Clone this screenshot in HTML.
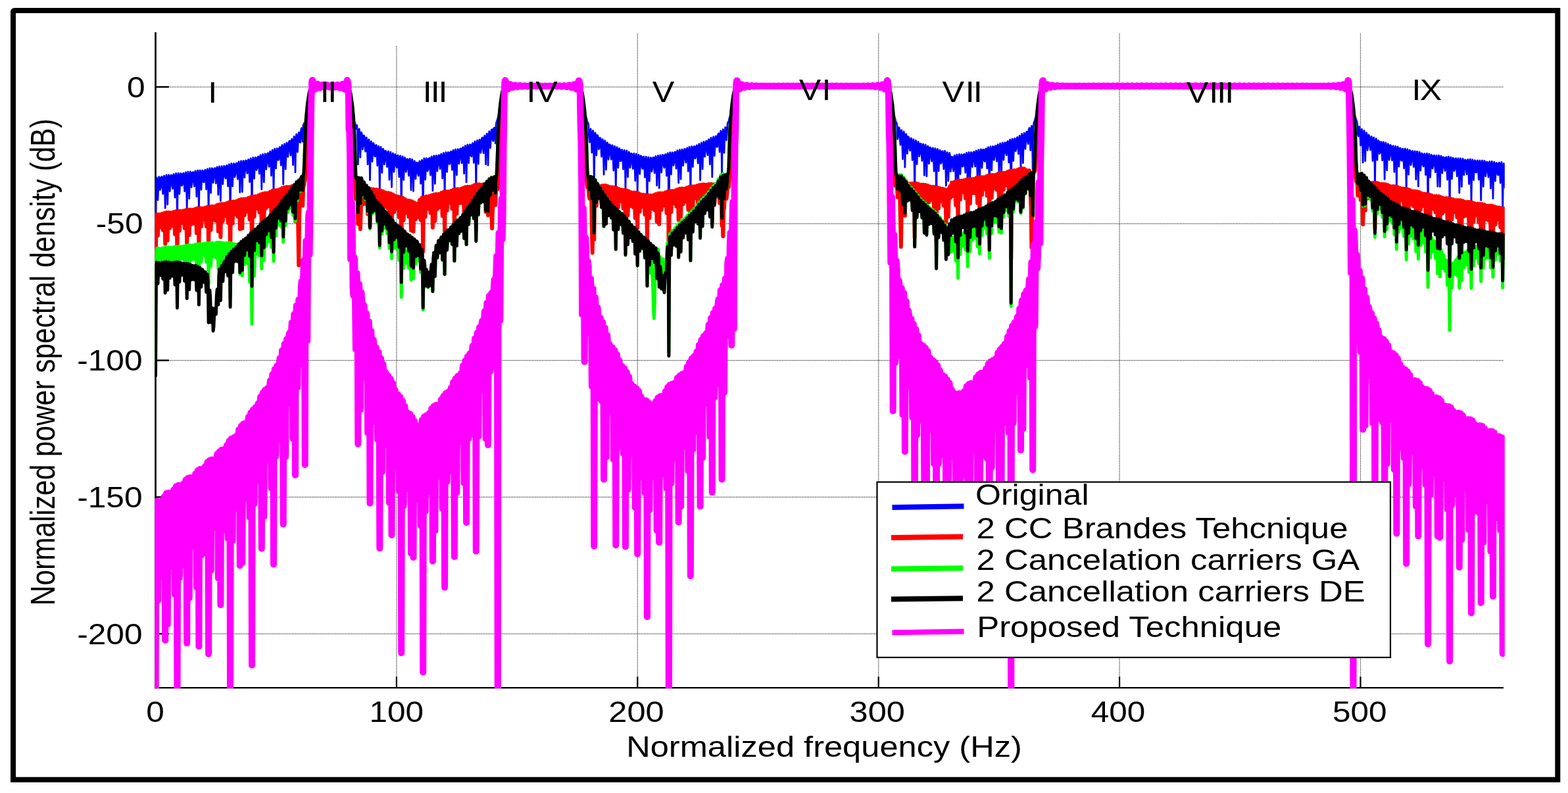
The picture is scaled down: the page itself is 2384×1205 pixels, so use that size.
<!DOCTYPE html>
<html><head><meta charset="utf-8"><title>Normalized power spectral density</title>
<style>
html,body{margin:0;padding:0;background:#fff;}
body{width:2384px;height:1205px;overflow:hidden;}
svg{display:block;}
text{font-family:"Liberation Sans",Arial,Helvetica,sans-serif;font-size:44px;fill:#000;}
.c path{fill:none;stroke-linejoin:round;stroke-linecap:round;}
</style></head><body>
<svg width="2384" height="1205" viewBox="0 0 2384 1205">
<rect x="0" y="0" width="2384" height="1205" fill="#fff"/>
<path d="M20 1184.8 L20 18.5 Q20 16 22.5 16 L2368.3 16 L2368.3 1184.8 Z" fill="none" stroke="#000" stroke-width="8" stroke-linejoin="miter"/>
<g stroke="#000" stroke-width="1.3" stroke-dasharray="1.3 1.2" opacity="0.82" fill="none">
<line x1="602.9" y1="70" x2="602.9" y2="1045.2"/>
<line x1="969.3" y1="51" x2="969.3" y2="1045.2"/>
<line x1="1335.7" y1="51" x2="1335.7" y2="1045.2"/>
<line x1="1702.1" y1="51" x2="1702.1" y2="1045.2"/>
<line x1="2068.5" y1="51" x2="2068.5" y2="1045.2"/>
<line x1="236.5" y1="132.1" x2="2286.0" y2="132.1"/>
<line x1="236.5" y1="339.9" x2="2286.0" y2="339.9"/>
<line x1="236.5" y1="547.6" x2="2286.0" y2="547.6"/>
<line x1="236.5" y1="755.4" x2="2286.0" y2="755.4"/>
<line x1="236.5" y1="963.1" x2="2286.0" y2="963.1"/>
</g>
<g stroke="#000" fill="none">
<line x1="236.5" y1="49.0" x2="236.5" y2="1046.2" stroke-width="2.7"/>
<line x1="236.5" y1="132.1" x2="256.8" y2="132.1" stroke-width="2.5"/>
<line x1="236.5" y1="339.9" x2="256.8" y2="339.9" stroke-width="2.5"/>
<line x1="236.5" y1="547.6" x2="256.8" y2="547.6" stroke-width="2.5"/>
<line x1="236.5" y1="755.4" x2="256.8" y2="755.4" stroke-width="2.5"/>
<line x1="236.5" y1="963.1" x2="256.8" y2="963.1" stroke-width="2.5"/>
<line x1="602.9" y1="1045.2" x2="602.9" y2="1028.2" stroke-width="2.2"/>
<line x1="969.3" y1="1045.2" x2="969.3" y2="1028.2" stroke-width="2.2"/>
<line x1="1335.7" y1="1045.2" x2="1335.7" y2="1028.2" stroke-width="2.2"/>
<line x1="1702.1" y1="1045.2" x2="1702.1" y2="1028.2" stroke-width="2.2"/>
<line x1="2068.5" y1="1045.2" x2="2068.5" y2="1028.2" stroke-width="2.2"/>
</g>
<line x1="235.2" y1="1045.2" x2="2286.0" y2="1045.2" stroke="#000" stroke-width="2.2"/>
<defs><clipPath id="ax"><rect x="235.3" y="49.0" width="2052.5" height="997.1"/></clipPath></defs>
<g clip-path="url(#ax)" class="c">
<path d="M236.5,412.2 L237.4,277.6 L238.2,270.0 L239.1,274.3 L240.0,303.9 L240.8,280.4 L241.7,268.7 L242.6,270.3 L243.4,288.5 L244.3,285.0 L245.2,269.2 L246.0,268.4 L246.9,281.2 L247.8,294.6 L248.6,270.7 L249.5,267.2 L250.4,275.5 L251.2,316.2 L252.1,272.2 L253.0,266.0 L253.8,271.4 L254.7,310.6 L255.6,275.0 L256.4,265.8 L257.3,268.5 L258.2,290.7 L259.0,279.5 L259.9,266.2 L260.8,266.4 L261.6,281.1 L262.5,286.6 L263.4,266.8 L264.2,264.5 L265.1,274.6 L266.0,300.2 L266.9,268.3 L267.7,263.5 L268.6,270.2 L269.5,336.9 L270.3,270.9 L271.2,263.2 L272.1,267.1 L272.9,294.7 L273.8,274.9 L274.7,263.4 L275.5,264.7 L276.4,282.0 L277.3,280.4 L278.1,264.1 L279.0,262.9 L279.9,275.1 L280.7,290.8 L281.6,265.4 L282.5,261.8 L283.3,269.7 L284.2,317.3 L285.1,267.4 L285.9,260.9 L286.8,266.0 L287.7,301.8 L288.5,270.6 L289.4,260.9 L290.3,263.3 L291.1,284.5 L292.0,275.6 L292.9,261.7 L293.7,261.6 L294.6,275.5 L295.5,283.2 L296.3,262.4 L297.2,259.8 L298.1,269.5 L298.9,298.7 L299.8,264.2 L300.7,259.0 L301.5,265.4 L302.4,319.3 L303.3,267.0 L304.1,258.9 L305.0,262.4 L305.9,288.3 L306.7,271.1 L307.6,258.9 L308.5,259.9 L309.3,276.4 L310.2,276.8 L311.1,259.7 L311.9,258.1 L312.8,269.6 L313.7,287.8 L314.5,260.8 L315.4,256.7 L316.3,264.1 L317.1,322.0 L318.0,262.6 L318.9,255.7 L319.7,260.4 L320.6,293.2 L321.5,265.7 L322.3,255.6 L323.2,257.6 L324.1,277.7 L324.9,270.8 L325.8,256.0 L326.7,255.5 L327.6,268.8 L328.4,278.6 L329.3,256.7 L330.2,253.7 L331.0,262.9 L331.9,296.0 L332.8,258.4 L333.6,252.9 L334.5,258.8 L335.4,305.3 L336.2,261.2 L337.1,252.6 L338.0,255.5 L338.8,279.7 L339.7,264.9 L340.6,252.2 L341.4,252.9 L342.3,268.6 L343.2,271.1 L344.0,253.1 L344.9,251.2 L345.8,262.1 L346.6,283.0 L347.5,254.1 L348.4,249.6 L349.2,256.5 L350.1,335.7 L351.0,255.7 L351.8,248.3 L352.7,252.6 L353.6,283.0 L354.4,258.8 L355.3,248.5 L356.2,250.1 L357.0,269.1 L357.9,264.2 L358.8,248.7 L359.6,247.8 L360.5,260.3 L361.4,272.3 L362.2,249.1 L363.1,245.7 L364.0,254.4 L364.8,292.3 L365.7,250.6 L366.6,244.7 L367.4,250.2 L368.3,291.5 L369.2,253.4 L370.0,244.3 L370.9,246.8 L371.8,269.6 L372.6,257.1 L373.5,243.8 L374.4,244.0 L375.2,259.0 L376.1,263.5 L377.0,244.4 L377.8,242.3 L378.7,252.6 L379.6,276.5 L380.4,245.6 L381.3,240.7 L382.2,247.2 L383.0,326.8 L383.9,247.1 L384.8,239.3 L385.6,243.2 L386.5,271.4 L387.4,250.1 L388.3,239.2 L389.1,240.4 L390.0,258.4 L390.9,255.6 L391.7,239.1 L392.6,237.9 L393.5,249.7 L394.3,264.0 L395.2,239.4 L396.1,235.6 L396.9,243.8 L397.8,287.6 L398.7,240.7 L399.5,234.4 L400.4,239.4 L401.3,276.8 L402.1,243.4 L403.0,233.7 L403.9,235.9 L404.7,257.3 L405.6,247.1 L406.5,233.1 L407.3,232.8 L408.2,246.9 L409.1,253.2 L409.9,232.9 L410.8,230.2 L411.7,239.8 L412.5,266.9 L413.4,233.3 L414.3,227.8 L415.1,234.0 L416.0,292.9 L416.9,234.6 L417.7,226.2 L418.6,229.6 L419.5,255.9 L420.3,237.2 L421.2,225.6 L422.1,226.3 L422.9,243.3 L423.8,242.4 L424.7,225.1 L425.5,223.4 L426.4,234.3 L427.3,251.1 L428.1,224.8 L429.0,220.4 L429.9,228.1 L430.7,280.0 L431.6,225.7 L432.5,218.7 L433.3,223.1 L434.2,257.0 L435.1,227.3 L435.9,216.9 L436.8,218.4 L437.7,238.4 L438.5,230.1 L439.4,215.1 L440.3,214.1 L441.1,227.7 L442.0,236.1 L442.9,214.5 L443.7,211.3 L444.6,220.1 L445.5,250.6 L446.3,213.8 L447.2,207.3 L448.1,212.7 L449.0,261.8 L449.8,213.2 L450.7,204.0 L451.6,206.6 L452.4,230.9 L453.3,214.1 L454.2,201.4 L455.0,201.3 L455.9,215.8 L456.8,216.5 L457.6,198.0 L458.5,194.6 L459.4,204.3 L460.2,215.1 L461.1,191.0 L462.0,187.8 L462.8,187.3 L463.7,185.8 L464.6,184.8 L465.4,183.8 L466.3,182.9 L467.2,181.9 L468.0,180.9 L468.9,178.4 L469.8,169.5 L470.6,160.5 L471.5,153.8 L472.4,147.7 L473.2,141.5 L474.1,130.8 L475.0,130.8 L475.8,130.8 L476.7,130.8 L477.6,130.8 L478.4,130.8 L479.3,130.8 L480.2,130.8 L481.0,130.8 L481.9,130.8 L482.8,130.8 L483.6,130.8 L484.5,130.8 L485.4,130.8 L486.2,130.8 L487.1,130.8 L488.0,130.8 L488.8,130.8 L489.7,130.8 L490.6,130.8 L491.4,130.8 L492.3,130.8 L493.2,130.8 L494.0,130.8 L494.9,130.8 L495.8,130.8 L496.6,130.8 L497.5,130.8 L498.4,130.8 L499.2,130.8 L500.1,130.8 L501.0,130.8 L501.8,130.8 L502.7,130.8 L503.6,130.8 L504.4,130.8 L505.3,130.8 L506.2,130.8 L507.0,130.8 L507.9,130.8 L508.8,130.8 L509.7,130.8 L510.5,130.8 L511.4,130.8 L512.3,130.8 L513.1,130.8 L514.0,130.8 L514.9,130.8 L515.7,130.8 L516.6,130.8 L517.5,130.8 L518.3,130.8 L519.2,130.8 L520.1,130.8 L520.9,130.8 L521.8,130.8 L522.7,130.8 L523.5,130.8 L524.4,130.8 L525.3,130.8 L526.1,130.8 L527.0,130.8 L527.9,130.8 L528.7,130.8 L529.6,131.4 L530.5,146.4 L531.3,152.6 L532.2,158.8 L533.1,167.7 L533.9,176.6 L534.8,180.8 L535.7,181.8 L536.5,182.8 L537.4,183.8 L538.3,184.9 L539.1,185.9 L540.0,187.2 L540.9,195.4 L541.7,190.8 L542.6,190.3 L543.5,200.1 L544.3,249.8 L545.2,201.4 L546.1,196.0 L546.9,202.0 L547.8,239.1 L548.7,209.5 L549.5,201.2 L550.4,204.9 L551.3,227.0 L552.1,218.9 L553.0,205.8 L553.9,206.7 L554.7,221.7 L555.6,230.2 L556.5,210.1 L557.3,208.9 L558.2,219.7 L559.1,249.6 L559.9,215.9 L560.8,211.8 L561.7,219.2 L562.5,273.7 L563.4,221.9 L564.3,214.8 L565.1,219.0 L566.0,245.5 L566.9,228.8 L567.8,217.4 L568.6,219.4 L569.5,236.7 L570.4,237.7 L571.2,221.1 L572.1,220.5 L573.0,232.7 L573.8,251.6 L574.7,225.2 L575.6,222.0 L576.4,230.3 L577.3,288.6 L578.2,229.6 L579.0,223.5 L579.9,228.9 L580.8,262.4 L581.6,235.4 L582.5,226.2 L583.4,229.1 L584.2,249.7 L585.1,243.4 L586.0,229.3 L586.8,229.6 L587.7,243.5 L588.6,253.7 L589.4,232.2 L590.3,230.0 L591.2,239.7 L592.0,273.2 L592.9,235.9 L593.8,231.0 L594.6,237.5 L595.5,284.4 L596.4,240.7 L597.2,232.8 L598.1,236.4 L599.0,261.1 L599.8,246.8 L600.7,234.5 L601.6,235.9 L602.4,252.0 L603.3,254.8 L604.2,237.2 L605.0,236.0 L605.9,247.4 L606.8,268.8 L607.6,240.4 L608.5,236.7 L609.4,244.3 L610.2,323.9 L611.1,244.3 L612.0,237.6 L612.8,242.5 L613.7,273.3 L614.6,249.4 L615.4,239.5 L616.3,241.8 L617.2,261.3 L618.0,256.8 L618.9,241.8 L619.8,241.6 L620.6,254.7 L621.5,267.0 L622.4,244.0 L623.2,241.2 L624.1,250.4 L625.0,288.6 L625.8,247.4 L626.7,242.1 L627.6,248.4 L628.5,290.4 L629.3,252.6 L630.2,244.6 L631.1,248.3 L631.9,271.9 L632.8,259.9 L633.7,246.9 L634.5,247.8 L635.4,263.1 L636.3,267.2 L637.1,247.3 L638.0,244.8 L638.9,255.0 L639.7,279.0 L640.6,247.9 L641.5,243.1 L642.3,250.0 L643.2,328.5 L644.1,248.5 L644.9,240.6 L645.8,244.5 L646.7,272.9 L647.5,251.7 L648.4,240.4 L649.3,241.8 L650.1,260.1 L651.0,257.5 L651.9,241.2 L652.7,240.0 L653.6,251.9 L654.5,266.2 L655.3,241.6 L656.2,237.8 L657.1,246.1 L657.9,289.9 L658.8,243.0 L659.7,236.7 L660.5,241.9 L661.4,279.2 L662.3,245.8 L663.1,236.3 L664.0,238.5 L664.9,260.0 L665.7,249.8 L666.6,235.9 L667.5,235.8 L668.3,250.0 L669.2,256.5 L670.1,236.4 L670.9,233.9 L671.8,243.7 L672.7,271.0 L673.5,237.6 L674.4,232.4 L675.3,238.6 L676.1,297.7 L677.0,239.5 L677.9,231.3 L678.7,234.9 L679.6,261.3 L680.5,242.8 L681.3,231.3 L682.2,232.3 L683.1,249.4 L683.9,248.7 L684.8,231.5 L685.7,230.1 L686.5,241.4 L687.4,258.2 L688.3,232.1 L689.2,228.0 L690.0,235.8 L690.9,287.8 L691.8,233.7 L692.6,227.0 L693.5,231.8 L694.4,266.0 L695.2,236.6 L696.1,226.6 L697.0,228.5 L697.8,248.8 L698.7,240.8 L699.6,226.2 L700.4,225.7 L701.3,239.3 L702.2,247.9 L703.0,226.5 L703.9,223.6 L704.8,232.7 L705.6,263.6 L706.5,227.2 L707.4,221.5 L708.2,227.2 L709.1,276.8 L710.0,228.8 L710.8,220.0 L711.7,223.1 L712.6,247.8 L713.4,231.7 L714.3,219.6 L715.2,220.1 L716.0,236.3 L716.9,237.6 L717.8,219.4 L718.6,217.5 L719.5,228.0 L720.4,247.4 L721.2,219.5 L722.1,214.8 L723.0,222.1 L723.8,287.8 L724.7,220.7 L725.6,213.5 L726.4,217.7 L727.3,249.2 L728.2,223.0 L729.0,212.1 L729.9,213.3 L730.8,232.2 L731.6,226.0 L732.5,210.3 L733.4,209.1 L734.2,222.0 L735.1,232.6 L736.0,209.7 L736.8,206.2 L737.7,214.6 L738.6,249.6 L739.4,209.7 L740.3,203.2 L741.2,208.1 L742.0,251.1 L742.9,209.4 L743.8,199.7 L744.6,202.0 L745.5,224.8 L746.4,210.4 L747.2,197.2 L748.1,196.8 L749.0,211.5 L749.9,214.2 L750.7,195.2 L751.6,194.1 L752.5,204.2 L753.3,217.8 L754.2,189.6 L755.1,184.5 L755.9,182.8 L756.8,179.6 L757.7,177.1 L758.5,174.6 L759.4,172.1 L760.3,169.6 L761.1,167.2 L762.0,164.7 L762.9,162.2 L763.7,159.7 L764.6,154.5 L765.5,148.4 L766.3,142.2 L767.2,130.8 L768.1,130.8 L768.9,130.8 L769.8,130.8 L770.7,130.8 L771.5,130.8 L772.4,130.8 L773.3,130.8 L774.1,130.8 L775.0,130.8 L775.9,130.8 L776.7,130.8 L777.6,130.8 L778.5,130.8 L779.3,130.8 L780.2,130.8 L781.1,130.8 L781.9,130.8 L782.8,130.8 L783.7,130.8 L784.5,130.8 L785.4,130.8 L786.3,130.8 L787.1,130.8 L788.0,130.8 L788.9,130.8 L789.7,130.8 L790.6,130.8 L791.5,130.8 L792.3,130.8 L793.2,130.8 L794.1,130.8 L794.9,130.8 L795.8,130.8 L796.7,130.8 L797.5,130.8 L798.4,130.8 L799.3,130.8 L800.1,130.8 L801.0,130.8 L801.9,130.8 L802.7,130.8 L803.6,130.8 L804.5,130.8 L805.3,130.8 L806.2,130.8 L807.1,130.8 L807.9,130.8 L808.8,130.8 L809.7,130.8 L810.6,130.8 L811.4,130.8 L812.3,130.8 L813.2,130.8 L814.0,130.8 L814.9,130.8 L815.8,130.8 L816.6,130.8 L817.5,130.8 L818.4,130.8 L819.2,130.8 L820.1,130.8 L821.0,130.8 L821.8,130.8 L822.7,130.8 L823.6,130.8 L824.4,130.8 L825.3,130.8 L826.2,130.8 L827.0,130.8 L827.9,130.8 L828.8,130.8 L829.6,130.8 L830.5,130.8 L831.4,130.8 L832.2,130.8 L833.1,130.8 L834.0,130.8 L834.8,130.8 L835.7,130.8 L836.6,130.8 L837.4,130.8 L838.3,130.8 L839.2,130.8 L840.0,130.8 L840.9,130.8 L841.8,130.8 L842.6,130.8 L843.5,130.8 L844.4,130.8 L845.2,130.8 L846.1,130.8 L847.0,130.8 L847.8,130.8 L848.7,130.8 L849.6,130.8 L850.4,130.8 L851.3,130.8 L852.2,130.8 L853.0,130.8 L853.9,130.8 L854.8,130.8 L855.6,130.8 L856.5,130.8 L857.4,130.8 L858.2,130.8 L859.1,130.8 L860.0,130.8 L860.8,130.8 L861.7,130.8 L862.6,130.8 L863.4,130.8 L864.3,130.8 L865.2,130.8 L866.0,130.8 L866.9,130.8 L867.8,130.8 L868.6,130.8 L869.5,130.8 L870.4,130.8 L871.3,130.8 L872.1,130.8 L873.0,130.8 L873.9,130.8 L874.7,130.8 L875.6,130.8 L876.5,130.8 L877.3,130.8 L878.2,130.8 L879.1,130.8 L879.9,130.8 L880.8,130.8 L881.7,130.9 L882.5,144.7 L883.4,150.8 L884.3,157.0 L885.1,160.7 L886.0,163.2 L886.9,165.7 L887.7,168.2 L888.6,170.6 L889.5,173.1 L890.3,175.6 L891.2,178.1 L892.1,180.6 L892.9,185.8 L893.8,186.0 L894.7,189.2 L895.5,206.6 L896.4,216.0 L897.3,198.0 L898.1,195.9 L899.0,207.0 L899.9,231.9 L900.7,202.1 L901.6,198.5 L902.5,206.5 L903.3,287.1 L904.2,208.4 L905.1,201.8 L905.9,206.6 L906.8,236.0 L907.7,215.6 L908.5,205.4 L909.4,208.2 L910.3,226.8 L911.1,224.8 L912.0,209.6 L912.9,209.7 L913.7,222.9 L914.6,238.0 L915.5,214.1 L916.3,211.7 L917.2,220.7 L918.1,265.2 L918.9,219.1 L919.8,213.6 L920.7,219.7 L921.5,257.8 L922.4,225.1 L923.3,216.6 L924.1,220.0 L925.0,242.3 L925.9,232.6 L926.7,219.4 L927.6,220.3 L928.5,235.1 L929.4,242.2 L930.2,222.4 L931.1,220.7 L932.0,231.3 L932.8,259.0 L933.7,226.4 L934.6,222.1 L935.4,229.2 L936.3,288.7 L937.2,231.0 L938.0,223.7 L938.9,227.8 L939.8,254.8 L940.6,236.7 L941.5,225.4 L942.4,227.2 L943.2,244.7 L944.1,244.5 L945.0,228.2 L945.8,227.6 L946.7,239.8 L947.6,257.2 L948.4,231.4 L949.3,228.2 L950.2,236.3 L951.0,288.7 L951.9,235.0 L952.8,228.8 L953.6,234.2 L954.5,268.9 L955.4,240.0 L956.2,230.9 L957.1,233.7 L958.0,254.7 L958.8,247.2 L959.7,233.2 L960.6,233.5 L961.4,247.4 L962.3,256.4 L963.2,235.5 L964.0,233.2 L964.9,243.1 L965.8,274.5 L966.6,238.8 L967.5,234.0 L968.4,240.6 L969.2,290.7 L970.1,243.2 L971.0,235.4 L971.8,239.0 L972.7,264.3 L973.6,248.7 L974.4,236.7 L975.3,238.1 L976.2,254.7 L977.0,256.4 L977.9,239.1 L978.8,238.0 L979.6,249.6 L980.5,269.5 L981.4,242.0 L982.2,238.2 L983.1,246.0 L984.0,312.2 L984.8,245.6 L985.7,238.9 L986.6,243.5 L987.4,275.2 L988.3,249.3 L989.2,239.3 L990.1,241.2 L990.9,260.8 L991.8,255.0 L992.7,239.8 L993.5,239.3 L994.4,252.0 L995.3,262.9 L996.1,240.5 L997.0,237.3 L997.9,246.4 L998.7,281.8 L999.6,242.1 L1000.5,236.3 L1001.3,242.0 L1002.2,285.7 L1003.1,244.7 L1003.9,235.8 L1004.8,238.6 L1005.7,262.0 L1006.5,248.4 L1007.4,235.5 L1008.3,235.8 L1009.1,251.4 L1010.0,254.8 L1010.9,236.3 L1011.7,234.4 L1012.6,244.8 L1013.5,267.2 L1014.3,237.3 L1015.2,232.6 L1016.1,239.5 L1016.9,373.7 L1017.8,239.1 L1018.7,231.6 L1019.5,235.7 L1020.4,265.0 L1021.3,242.3 L1022.1,231.6 L1023.0,233.0 L1023.9,251.5 L1024.7,247.7 L1025.6,231.7 L1026.5,230.7 L1027.3,242.8 L1028.2,256.1 L1029.1,232.3 L1029.9,228.7 L1030.8,237.2 L1031.7,277.9 L1032.5,233.8 L1033.4,227.6 L1034.3,232.9 L1035.1,272.1 L1036.0,236.5 L1036.9,227.1 L1037.7,229.6 L1038.6,251.6 L1039.5,240.3 L1040.3,226.7 L1041.2,226.7 L1042.1,241.6 L1042.9,247.0 L1043.8,227.3 L1044.7,224.9 L1045.5,234.8 L1046.4,260.3 L1047.3,228.3 L1048.1,223.1 L1049.0,229.7 L1049.9,296.3 L1050.8,230.2 L1051.6,222.3 L1052.5,226.1 L1053.4,253.5 L1054.2,233.6 L1055.1,222.3 L1056.0,223.3 L1056.8,240.7 L1057.7,239.0 L1058.6,222.1 L1059.4,220.7 L1060.3,232.4 L1061.2,248.0 L1062.0,222.7 L1062.9,218.6 L1063.8,226.5 L1064.6,273.9 L1065.5,223.5 L1066.4,216.8 L1067.2,221.4 L1068.1,257.0 L1069.0,225.5 L1069.8,215.4 L1070.7,217.4 L1071.6,238.1 L1072.4,228.9 L1073.3,214.8 L1074.2,214.3 L1075.0,228.3 L1075.9,235.7 L1076.8,214.7 L1077.6,211.8 L1078.5,221.0 L1079.4,249.8 L1080.2,215.0 L1081.1,209.3 L1082.0,215.3 L1082.8,269.0 L1083.7,216.4 L1084.6,207.9 L1085.4,211.1 L1086.3,236.7 L1087.2,219.4 L1088.0,207.0 L1088.9,207.1 L1089.8,223.2 L1090.6,223.2 L1091.5,205.0 L1092.4,202.7 L1093.2,213.3 L1094.1,230.9 L1095.0,203.6 L1095.8,199.0 L1096.7,206.3 L1097.6,263.7 L1098.4,204.0 L1099.3,196.6 L1100.2,200.7 L1101.0,232.2 L1101.9,204.4 L1102.8,193.3 L1103.6,194.2 L1104.5,213.0 L1105.4,202.7 L1106.2,187.9 L1107.1,185.1 L1108.0,184.6 L1108.8,179.8 L1109.7,177.4 L1110.6,174.9 L1111.5,172.5 L1112.3,170.1 L1113.2,167.6 L1114.1,165.2 L1114.9,162.8 L1115.8,160.4 L1116.7,156.2 L1117.5,150.1 L1118.4,143.9 L1119.3,130.8 L1120.1,130.8 L1121.0,130.8 L1121.9,130.8 L1122.7,130.8 L1123.6,130.8 L1124.5,130.8 L1125.3,130.8 L1126.2,130.8 L1127.1,130.8 L1127.9,130.8 L1128.8,130.8 L1129.7,130.8 L1130.5,130.8 L1131.4,130.8 L1132.3,130.8 L1133.1,130.8 L1134.0,130.8 L1134.9,130.8 L1135.7,130.8 L1136.6,130.8 L1137.5,130.8 L1138.3,130.8 L1139.2,130.8 L1140.1,130.8 L1140.9,130.8 L1141.8,130.8 L1142.7,130.8 L1143.5,130.8 L1144.4,130.8 L1145.3,130.8 L1146.1,130.8 L1147.0,130.8 L1147.9,130.8 L1148.7,130.8 L1149.6,130.8 L1150.5,130.8 L1151.3,130.8 L1152.2,130.8 L1153.1,130.8 L1153.9,130.8 L1154.8,130.8 L1155.7,130.8 L1156.5,130.8 L1157.4,130.8 L1158.3,130.8 L1159.1,130.8 L1160.0,130.8 L1160.9,130.8 L1161.7,130.8 L1162.6,130.8 L1163.5,130.8 L1164.3,130.8 L1165.2,130.8 L1166.1,130.8 L1166.9,130.8 L1167.8,130.8 L1168.7,130.8 L1169.5,130.8 L1170.4,130.8 L1171.3,130.8 L1172.2,130.8 L1173.0,130.8 L1173.9,130.8 L1174.8,130.8 L1175.6,130.8 L1176.5,130.8 L1177.4,130.8 L1178.2,130.8 L1179.1,130.8 L1180.0,130.8 L1180.8,130.8 L1181.7,130.8 L1182.6,130.8 L1183.4,130.8 L1184.3,130.8 L1185.2,130.8 L1186.0,130.8 L1186.9,130.8 L1187.8,130.8 L1188.6,130.8 L1189.5,130.8 L1190.4,130.8 L1191.2,130.8 L1192.1,130.8 L1193.0,130.8 L1193.8,130.8 L1194.7,130.8 L1195.6,130.8 L1196.4,130.8 L1197.3,130.8 L1198.2,130.8 L1199.0,130.8 L1199.9,130.8 L1200.8,130.8 L1201.6,130.8 L1202.5,130.8 L1203.4,130.8 L1204.2,130.8 L1205.1,130.8 L1206.0,130.8 L1206.8,130.8 L1207.7,130.8 L1208.6,130.8 L1209.4,130.8 L1210.3,130.8 L1211.2,130.8 L1212.0,130.8 L1212.9,130.8 L1213.8,130.8 L1214.6,130.8 L1215.5,130.8 L1216.4,130.8 L1217.2,130.8 L1218.1,130.8 L1219.0,130.8 L1219.8,130.8 L1220.7,130.8 L1221.6,130.8 L1222.4,130.8 L1223.3,130.8 L1224.2,130.8 L1225.0,130.8 L1225.9,130.8 L1226.8,130.8 L1227.6,130.8 L1228.5,130.8 L1229.4,130.8 L1230.3,130.8 L1231.1,130.8 L1232.0,130.8 L1232.9,130.8 L1233.7,130.8 L1234.6,130.8 L1235.5,130.8 L1236.3,130.8 L1237.2,130.8 L1238.1,130.8 L1238.9,130.8 L1239.8,130.8 L1240.7,130.8 L1241.5,130.8 L1242.4,130.8 L1243.3,130.8 L1244.1,130.8 L1245.0,130.8 L1245.9,130.8 L1246.7,130.8 L1247.6,130.8 L1248.5,130.8 L1249.3,130.8 L1250.2,130.8 L1251.1,130.8 L1251.9,130.8 L1252.8,130.8 L1253.7,130.8 L1254.5,130.8 L1255.4,130.8 L1256.3,130.8 L1257.1,130.8 L1258.0,130.8 L1258.9,130.8 L1259.7,130.8 L1260.6,130.8 L1261.5,130.8 L1262.3,130.8 L1263.2,130.8 L1264.1,130.8 L1264.9,130.8 L1265.8,130.8 L1266.7,130.8 L1267.5,130.8 L1268.4,130.8 L1269.3,130.8 L1270.1,130.8 L1271.0,130.8 L1271.9,130.8 L1272.7,130.8 L1273.6,130.8 L1274.5,130.8 L1275.3,130.8 L1276.2,130.8 L1277.1,130.8 L1277.9,130.8 L1278.8,130.8 L1279.7,130.8 L1280.5,130.8 L1281.4,130.8 L1282.3,130.8 L1283.1,130.8 L1284.0,130.8 L1284.9,130.8 L1285.7,130.8 L1286.6,130.8 L1287.5,130.8 L1288.3,130.8 L1289.2,130.8 L1290.1,130.8 L1291.0,130.8 L1291.8,130.8 L1292.7,130.8 L1293.6,130.8 L1294.4,130.8 L1295.3,130.8 L1296.2,130.8 L1297.0,130.8 L1297.9,130.8 L1298.8,130.8 L1299.6,130.8 L1300.5,130.8 L1301.4,130.8 L1302.2,130.8 L1303.1,130.8 L1304.0,130.8 L1304.8,130.8 L1305.7,130.8 L1306.6,130.8 L1307.4,130.8 L1308.3,130.8 L1309.2,130.8 L1310.0,130.8 L1310.9,130.8 L1311.8,130.8 L1312.6,130.8 L1313.5,130.8 L1314.4,130.8 L1315.2,130.8 L1316.1,130.8 L1317.0,130.8 L1317.8,130.8 L1318.7,130.8 L1319.6,130.8 L1320.4,130.8 L1321.3,130.8 L1322.2,130.8 L1323.0,130.8 L1323.9,130.8 L1324.8,130.8 L1325.6,130.8 L1326.5,130.8 L1327.4,130.8 L1328.2,130.8 L1329.1,130.8 L1330.0,130.8 L1330.8,130.8 L1331.7,130.8 L1332.6,130.8 L1333.4,130.8 L1334.3,130.8 L1335.2,130.8 L1336.0,130.8 L1336.9,130.8 L1337.8,130.8 L1338.6,130.8 L1339.5,130.8 L1340.4,130.8 L1341.2,130.8 L1342.1,130.8 L1343.0,130.8 L1343.8,130.8 L1344.7,130.8 L1345.6,130.8 L1346.4,130.8 L1347.3,130.8 L1348.2,130.8 L1349.0,130.8 L1349.9,130.8 L1350.8,131.4 L1351.7,146.3 L1352.5,152.4 L1353.4,158.6 L1354.3,161.3 L1355.1,163.7 L1356.0,166.2 L1356.9,168.6 L1357.7,171.0 L1358.6,173.4 L1359.5,175.9 L1360.3,178.3 L1361.2,181.4 L1362.1,185.9 L1362.9,185.8 L1363.8,189.6 L1364.7,211.4 L1365.5,207.0 L1366.4,193.7 L1367.3,194.2 L1368.1,208.5 L1369.0,220.1 L1369.9,199.4 L1370.7,197.7 L1371.6,207.6 L1372.5,241.6 L1373.3,204.7 L1374.2,200.0 L1375.1,207.0 L1375.9,254.2 L1376.8,210.8 L1377.7,203.6 L1378.5,208.0 L1379.4,233.4 L1380.3,219.4 L1381.1,207.7 L1382.0,209.6 L1382.9,225.9 L1383.7,228.8 L1384.6,211.1 L1385.5,210.1 L1386.3,221.8 L1387.2,243.3 L1388.1,215.1 L1388.9,211.7 L1389.8,219.6 L1390.7,299.4 L1391.5,219.9 L1392.4,213.4 L1393.3,218.4 L1394.1,249.4 L1395.0,225.7 L1395.9,215.4 L1396.7,217.9 L1397.6,237.5 L1398.5,233.2 L1399.3,218.4 L1400.2,218.4 L1401.1,231.7 L1401.9,244.3 L1402.8,221.5 L1403.7,218.9 L1404.5,228.1 L1405.4,266.4 L1406.3,225.3 L1407.1,219.9 L1408.0,226.1 L1408.9,267.8 L1409.7,230.1 L1410.6,221.8 L1411.5,225.2 L1412.4,248.7 L1413.2,236.7 L1414.1,223.9 L1415.0,224.8 L1415.8,240.2 L1416.7,245.0 L1417.6,226.4 L1418.4,224.8 L1419.3,235.7 L1420.2,260.1 L1421.0,229.6 L1421.9,225.5 L1422.8,232.7 L1423.6,312.8 L1424.5,233.6 L1425.4,226.5 L1426.2,231.0 L1427.1,259.8 L1428.0,238.9 L1428.8,228.1 L1429.7,230.1 L1430.6,248.5 L1431.4,246.0 L1432.3,230.1 L1433.2,229.6 L1434.0,242.3 L1434.9,256.9 L1435.8,232.5 L1436.6,229.3 L1437.5,238.0 L1438.4,282.1 L1439.2,236.4 L1440.1,231.5 L1441.0,237.1 L1441.8,275.0 L1442.7,241.9 L1443.6,232.5 L1444.4,235.9 L1445.3,260.5 L1446.2,252.5 L1447.0,238.5 L1447.9,238.6 L1448.8,253.3 L1449.6,260.0 L1450.5,239.0 L1451.4,236.1 L1452.2,246.2 L1453.1,273.5 L1454.0,240.2 L1454.8,235.1 L1455.7,241.4 L1456.6,300.5 L1457.4,242.4 L1458.3,234.3 L1459.2,237.9 L1460.0,264.5 L1460.9,246.0 L1461.8,234.7 L1462.6,235.7 L1463.5,253.0 L1464.4,252.4 L1465.2,235.3 L1466.1,234.0 L1467.0,245.4 L1467.8,262.3 L1468.7,236.2 L1469.6,232.2 L1470.4,240.1 L1471.3,292.2 L1472.2,238.1 L1473.1,231.4 L1473.9,236.3 L1474.8,270.5 L1475.7,241.2 L1476.5,231.3 L1477.4,233.2 L1478.3,253.6 L1479.1,245.6 L1480.0,231.0 L1480.9,230.7 L1481.7,244.2 L1482.6,252.9 L1483.5,231.7 L1484.3,229.0 L1485.2,238.3 L1486.1,269.3 L1486.9,233.2 L1487.8,227.6 L1488.7,233.6 L1489.5,283.3 L1490.4,235.4 L1491.3,226.9 L1492.1,230.1 L1493.0,255.0 L1493.9,239.0 L1494.7,227.1 L1495.6,227.7 L1496.5,244.1 L1497.3,245.4 L1498.2,227.4 L1499.1,225.7 L1499.9,236.5 L1500.8,255.9 L1501.7,228.1 L1502.5,223.6 L1503.4,231.0 L1504.3,296.8 L1505.1,229.8 L1506.0,222.7 L1506.9,227.2 L1507.7,258.8 L1508.6,232.9 L1509.5,222.4 L1510.3,224.0 L1511.2,243.3 L1512.1,237.4 L1512.9,222.1 L1513.8,221.4 L1514.7,234.2 L1515.5,245.1 L1516.4,222.6 L1517.3,219.5 L1518.1,228.3 L1519.0,263.7 L1519.9,224.0 L1520.7,218.0 L1521.6,223.6 L1522.5,267.1 L1523.3,226.0 L1524.2,216.9 L1525.1,219.8 L1525.9,243.0 L1526.8,229.4 L1527.7,216.7 L1528.5,216.9 L1529.4,232.4 L1530.3,235.7 L1531.1,216.7 L1532.0,214.6 L1532.9,224.6 L1533.8,246.9 L1534.6,217.1 L1535.5,212.2 L1536.4,219.1 L1537.2,353.2 L1538.1,218.7 L1539.0,211.2 L1539.8,215.1 L1540.7,244.4 L1541.6,221.6 L1542.4,210.5 L1543.3,211.6 L1544.2,229.7 L1545.0,225.9 L1545.9,209.8 L1546.8,208.6 L1547.6,221.0 L1548.5,233.9 L1549.4,209.9 L1550.2,206.1 L1551.1,214.2 L1552.0,254.5 L1552.8,210.2 L1553.7,203.5 L1554.6,208.5 L1555.4,247.6 L1556.3,211.8 L1557.2,202.2 L1558.0,204.5 L1558.9,226.3 L1559.8,214.6 L1560.6,200.7 L1561.5,200.0 L1562.4,214.0 L1563.2,218.6 L1564.1,197.7 L1565.0,194.4 L1565.8,203.7 L1566.7,228.3 L1567.6,196.9 L1568.4,191.5 L1569.3,197.5 L1570.2,258.2 L1571.0,193.9 L1571.9,186.4 L1572.8,184.7 L1573.6,181.3 L1574.5,178.7 L1575.4,176.2 L1576.2,173.7 L1577.1,171.1 L1578.0,168.6 L1578.8,166.1 L1579.7,163.6 L1580.6,161.0 L1581.4,157.7 L1582.3,151.6 L1583.2,145.4 L1584.0,131.1 L1584.9,130.8 L1585.8,130.8 L1586.6,130.8 L1587.5,130.8 L1588.4,130.8 L1589.2,130.8 L1590.1,130.8 L1591.0,130.8 L1591.9,130.8 L1592.7,130.8 L1593.6,130.8 L1594.5,130.8 L1595.3,130.8 L1596.2,130.8 L1597.1,130.8 L1597.9,130.8 L1598.8,130.8 L1599.7,130.8 L1600.5,130.8 L1601.4,130.8 L1602.3,130.8 L1603.1,130.8 L1604.0,130.8 L1604.9,130.8 L1605.7,130.8 L1606.6,130.8 L1607.5,130.8 L1608.3,130.8 L1609.2,130.8 L1610.1,130.8 L1610.9,130.8 L1611.8,130.8 L1612.7,130.8 L1613.5,130.8 L1614.4,130.8 L1615.3,130.8 L1616.1,130.8 L1617.0,130.8 L1617.9,130.8 L1618.7,130.8 L1619.6,130.8 L1620.5,130.8 L1621.3,130.8 L1622.2,130.8 L1623.1,130.8 L1623.9,130.8 L1624.8,130.8 L1625.7,130.8 L1626.5,130.8 L1627.4,130.8 L1628.3,130.8 L1629.1,130.8 L1630.0,130.8 L1630.9,130.8 L1631.7,130.8 L1632.6,130.8 L1633.5,130.8 L1634.3,130.8 L1635.2,130.8 L1636.1,130.8 L1636.9,130.8 L1637.8,130.8 L1638.7,130.8 L1639.5,130.8 L1640.4,130.8 L1641.3,130.8 L1642.1,130.8 L1643.0,130.8 L1643.9,130.8 L1644.7,130.8 L1645.6,130.8 L1646.5,130.8 L1647.3,130.8 L1648.2,130.8 L1649.1,130.8 L1649.9,130.8 L1650.8,130.8 L1651.7,130.8 L1652.6,130.8 L1653.4,130.8 L1654.3,130.8 L1655.2,130.8 L1656.0,130.8 L1656.9,130.8 L1657.8,130.8 L1658.6,130.8 L1659.5,130.8 L1660.4,130.8 L1661.2,130.8 L1662.1,130.8 L1663.0,130.8 L1663.8,130.8 L1664.7,130.8 L1665.6,130.8 L1666.4,130.8 L1667.3,130.8 L1668.2,130.8 L1669.0,130.8 L1669.9,130.8 L1670.8,130.8 L1671.6,130.8 L1672.5,130.8 L1673.4,130.8 L1674.2,130.8 L1675.1,130.8 L1676.0,130.8 L1676.8,130.8 L1677.7,130.8 L1678.6,130.8 L1679.4,130.8 L1680.3,130.8 L1681.2,130.8 L1682.0,130.8 L1682.9,130.8 L1683.8,130.8 L1684.6,130.8 L1685.5,130.8 L1686.4,130.8 L1687.2,130.8 L1688.1,130.8 L1689.0,130.8 L1689.8,130.8 L1690.7,130.8 L1691.6,130.8 L1692.4,130.8 L1693.3,130.8 L1694.2,130.8 L1695.0,130.8 L1695.9,130.8 L1696.8,130.8 L1697.6,130.8 L1698.5,130.8 L1699.4,130.8 L1700.2,130.8 L1701.1,130.8 L1702.0,130.8 L1702.8,130.8 L1703.7,130.8 L1704.6,130.8 L1705.4,130.8 L1706.3,130.8 L1707.2,130.8 L1708.0,130.8 L1708.9,130.8 L1709.8,130.8 L1710.6,130.8 L1711.5,130.8 L1712.4,130.8 L1713.3,130.8 L1714.1,130.8 L1715.0,130.8 L1715.9,130.8 L1716.7,130.8 L1717.6,130.8 L1718.5,130.8 L1719.3,130.8 L1720.2,130.8 L1721.1,130.8 L1721.9,130.8 L1722.8,130.8 L1723.7,130.8 L1724.5,130.8 L1725.4,130.8 L1726.3,130.8 L1727.1,130.8 L1728.0,130.8 L1728.9,130.8 L1729.7,130.8 L1730.6,130.8 L1731.5,130.8 L1732.3,130.8 L1733.2,130.8 L1734.1,130.8 L1734.9,130.8 L1735.8,130.8 L1736.7,130.8 L1737.5,130.8 L1738.4,130.8 L1739.3,130.8 L1740.1,130.8 L1741.0,130.8 L1741.9,130.8 L1742.7,130.8 L1743.6,130.8 L1744.5,130.8 L1745.3,130.8 L1746.2,130.8 L1747.1,130.8 L1747.9,130.8 L1748.8,130.8 L1749.7,130.8 L1750.5,130.8 L1751.4,130.8 L1752.3,130.8 L1753.1,130.8 L1754.0,130.8 L1754.9,130.8 L1755.7,130.8 L1756.6,130.8 L1757.5,130.8 L1758.3,130.8 L1759.2,130.8 L1760.1,130.8 L1760.9,130.8 L1761.8,130.8 L1762.7,130.8 L1763.5,130.8 L1764.4,130.8 L1765.3,130.8 L1766.1,130.8 L1767.0,130.8 L1767.9,130.8 L1768.7,130.8 L1769.6,130.8 L1770.5,130.8 L1771.3,130.8 L1772.2,130.8 L1773.1,130.8 L1774.0,130.8 L1774.8,130.8 L1775.7,130.8 L1776.6,130.8 L1777.4,130.8 L1778.3,130.8 L1779.2,130.8 L1780.0,130.8 L1780.9,130.8 L1781.8,130.8 L1782.6,130.8 L1783.5,130.8 L1784.4,130.8 L1785.2,130.8 L1786.1,130.8 L1787.0,130.8 L1787.8,130.8 L1788.7,130.8 L1789.6,130.8 L1790.4,130.8 L1791.3,130.8 L1792.2,130.8 L1793.0,130.8 L1793.9,130.8 L1794.8,130.8 L1795.6,130.8 L1796.5,130.8 L1797.4,130.8 L1798.2,130.8 L1799.1,130.8 L1800.0,130.8 L1800.8,130.8 L1801.7,130.8 L1802.6,130.8 L1803.4,130.8 L1804.3,130.8 L1805.2,130.8 L1806.0,130.8 L1806.9,130.8 L1807.8,130.8 L1808.6,130.8 L1809.5,130.8 L1810.4,130.8 L1811.2,130.8 L1812.1,130.8 L1813.0,130.8 L1813.8,130.8 L1814.7,130.8 L1815.6,130.8 L1816.4,130.8 L1817.3,130.8 L1818.2,130.8 L1819.0,130.8 L1819.9,130.8 L1820.8,130.8 L1821.6,130.8 L1822.5,130.8 L1823.4,130.8 L1824.2,130.8 L1825.1,130.8 L1826.0,130.8 L1826.8,130.8 L1827.7,130.8 L1828.6,130.8 L1829.4,130.8 L1830.3,130.8 L1831.2,130.8 L1832.0,130.8 L1832.9,130.8 L1833.8,130.8 L1834.7,130.8 L1835.5,130.8 L1836.4,130.8 L1837.3,130.8 L1838.1,130.8 L1839.0,130.8 L1839.9,130.8 L1840.7,130.8 L1841.6,130.8 L1842.5,130.8 L1843.3,130.8 L1844.2,130.8 L1845.1,130.8 L1845.9,130.8 L1846.8,130.8 L1847.7,130.8 L1848.5,130.8 L1849.4,130.8 L1850.3,130.8 L1851.1,130.8 L1852.0,130.8 L1852.9,130.8 L1853.7,130.8 L1854.6,130.8 L1855.5,130.8 L1856.3,130.8 L1857.2,130.8 L1858.1,130.8 L1858.9,130.8 L1859.8,130.8 L1860.7,130.8 L1861.5,130.8 L1862.4,130.8 L1863.3,130.8 L1864.1,130.8 L1865.0,130.8 L1865.9,130.8 L1866.7,130.8 L1867.6,130.8 L1868.5,130.8 L1869.3,130.8 L1870.2,130.8 L1871.1,130.8 L1871.9,130.8 L1872.8,130.8 L1873.7,130.8 L1874.5,130.8 L1875.4,130.8 L1876.3,130.8 L1877.1,130.8 L1878.0,130.8 L1878.9,130.8 L1879.7,130.8 L1880.6,130.8 L1881.5,130.8 L1882.3,130.8 L1883.2,130.8 L1884.1,130.8 L1884.9,130.8 L1885.8,130.8 L1886.7,130.8 L1887.5,130.8 L1888.4,130.8 L1889.3,130.8 L1890.1,130.8 L1891.0,130.8 L1891.9,130.8 L1892.8,130.8 L1893.6,130.8 L1894.5,130.8 L1895.4,130.8 L1896.2,130.8 L1897.1,130.8 L1898.0,130.8 L1898.8,130.8 L1899.7,130.8 L1900.6,130.8 L1901.4,130.8 L1902.3,130.8 L1903.2,130.8 L1904.0,130.8 L1904.9,130.8 L1905.8,130.8 L1906.6,130.8 L1907.5,130.8 L1908.4,130.8 L1909.2,130.8 L1910.1,130.8 L1911.0,130.8 L1911.8,130.8 L1912.7,130.8 L1913.6,130.8 L1914.4,130.8 L1915.3,130.8 L1916.2,130.8 L1917.0,130.8 L1917.9,130.8 L1918.8,130.8 L1919.6,130.8 L1920.5,130.8 L1921.4,130.8 L1922.2,130.8 L1923.1,130.8 L1924.0,130.8 L1924.8,130.8 L1925.7,130.8 L1926.6,130.8 L1927.4,130.8 L1928.3,130.8 L1929.2,130.8 L1930.0,130.8 L1930.9,130.8 L1931.8,130.8 L1932.6,130.8 L1933.5,130.8 L1934.4,130.8 L1935.2,130.8 L1936.1,130.8 L1937.0,130.8 L1937.8,130.8 L1938.7,130.8 L1939.6,130.8 L1940.4,130.8 L1941.3,130.8 L1942.2,130.8 L1943.0,130.8 L1943.9,130.8 L1944.8,130.8 L1945.6,130.8 L1946.5,130.8 L1947.4,130.8 L1948.2,130.8 L1949.1,130.8 L1950.0,130.8 L1950.8,130.8 L1951.7,130.8 L1952.6,130.8 L1953.5,130.8 L1954.3,130.8 L1955.2,130.8 L1956.1,130.8 L1956.9,130.8 L1957.8,130.8 L1958.7,130.8 L1959.5,130.8 L1960.4,130.8 L1961.3,130.8 L1962.1,130.8 L1963.0,130.8 L1963.9,130.8 L1964.7,130.8 L1965.6,130.8 L1966.5,130.8 L1967.3,130.8 L1968.2,130.8 L1969.1,130.8 L1969.9,130.8 L1970.8,130.8 L1971.7,130.8 L1972.5,130.8 L1973.4,130.8 L1974.3,130.8 L1975.1,130.8 L1976.0,130.8 L1976.9,130.8 L1977.7,130.8 L1978.6,130.8 L1979.5,130.8 L1980.3,130.8 L1981.2,130.8 L1982.1,130.8 L1982.9,130.8 L1983.8,130.8 L1984.7,130.8 L1985.5,130.8 L1986.4,130.8 L1987.3,130.8 L1988.1,130.8 L1989.0,130.8 L1989.9,130.8 L1990.7,130.8 L1991.6,130.8 L1992.5,130.8 L1993.3,130.8 L1994.2,130.8 L1995.1,130.8 L1995.9,130.8 L1996.8,130.8 L1997.7,130.8 L1998.5,130.8 L1999.4,130.8 L2000.3,130.8 L2001.1,130.8 L2002.0,130.8 L2002.9,130.8 L2003.7,130.8 L2004.6,130.8 L2005.5,130.8 L2006.3,130.8 L2007.2,130.8 L2008.1,130.8 L2008.9,130.8 L2009.8,130.8 L2010.7,130.8 L2011.5,130.8 L2012.4,130.8 L2013.3,130.8 L2014.2,130.8 L2015.0,130.8 L2015.9,130.8 L2016.8,130.8 L2017.6,130.8 L2018.5,130.8 L2019.4,130.8 L2020.2,130.8 L2021.1,130.8 L2022.0,130.8 L2022.8,130.8 L2023.7,130.8 L2024.6,130.8 L2025.4,130.8 L2026.3,130.8 L2027.2,130.8 L2028.0,130.8 L2028.9,130.8 L2029.8,130.8 L2030.6,130.8 L2031.5,130.8 L2032.4,130.8 L2033.2,130.8 L2034.1,130.8 L2035.0,130.8 L2035.8,130.8 L2036.7,130.8 L2037.6,130.8 L2038.4,130.8 L2039.3,130.8 L2040.2,130.8 L2041.0,130.8 L2041.9,130.8 L2042.8,130.8 L2043.6,130.8 L2044.5,130.8 L2045.4,130.8 L2046.2,130.8 L2047.1,130.8 L2048.0,130.8 L2048.8,130.8 L2049.7,130.8 L2050.6,130.8 L2051.4,141.2 L2052.3,147.4 L2053.2,153.5 L2054.0,159.3 L2054.9,161.7 L2055.8,164.2 L2056.6,166.6 L2057.5,169.0 L2058.4,171.5 L2059.2,173.9 L2060.1,176.3 L2061.0,178.7 L2061.8,181.9 L2062.7,183.8 L2063.6,187.3 L2064.4,204.2 L2065.3,207.0 L2066.2,192.6 L2067.0,192.9 L2067.9,206.0 L2068.8,221.0 L2069.6,198.5 L2070.5,196.1 L2071.4,205.5 L2072.2,246.9 L2073.1,203.7 L2074.0,198.4 L2074.9,204.7 L2075.7,244.7 L2076.6,209.7 L2077.5,201.6 L2078.3,205.3 L2079.2,228.3 L2080.1,217.8 L2080.9,205.0 L2081.8,206.4 L2082.7,221.8 L2083.5,227.9 L2084.4,208.9 L2085.3,207.4 L2086.1,218.3 L2087.0,244.4 L2087.9,212.9 L2088.7,208.9 L2089.6,216.2 L2090.5,283.4 L2091.3,217.8 L2092.2,210.6 L2093.1,215.3 L2093.9,243.2 L2094.8,223.9 L2095.7,213.3 L2096.5,215.3 L2097.4,233.5 L2098.3,232.2 L2099.1,216.0 L2100.0,215.5 L2100.9,227.6 L2101.7,243.7 L2102.6,218.8 L2103.5,215.7 L2104.3,224.3 L2105.2,272.4 L2106.1,222.7 L2106.9,216.9 L2107.8,222.6 L2108.7,258.8 L2109.5,227.9 L2110.4,218.7 L2111.3,221.6 L2112.1,243.0 L2113.0,234.3 L2113.9,220.5 L2114.7,221.0 L2115.6,235.7 L2116.5,243.7 L2117.3,223.5 L2118.2,221.6 L2119.1,231.7 L2119.9,261.2 L2120.8,226.9 L2121.7,222.1 L2122.5,228.8 L2123.4,282.9 L2124.3,230.8 L2125.1,223.0 L2126.0,227.0 L2126.9,253.0 L2127.7,236.1 L2128.6,224.8 L2129.5,226.3 L2130.3,243.5 L2131.2,244.2 L2132.1,227.0 L2132.9,225.9 L2133.8,237.3 L2134.7,255.9 L2135.6,229.4 L2136.4,225.8 L2137.3,233.9 L2138.2,292.0 L2139.0,232.9 L2139.9,226.6 L2140.8,231.8 L2141.6,265.1 L2142.5,237.9 L2143.4,228.1 L2144.2,230.6 L2145.1,250.7 L2146.0,244.1 L2146.8,229.6 L2147.7,229.6 L2148.6,243.5 L2149.4,253.6 L2150.3,232.2 L2151.2,229.8 L2152.0,239.3 L2152.9,272.7 L2153.8,235.3 L2154.6,230.1 L2155.5,236.3 L2156.4,283.1 L2157.2,239.3 L2158.1,230.9 L2159.0,234.6 L2159.8,259.1 L2160.7,244.7 L2161.6,232.9 L2162.4,233.9 L2163.3,250.2 L2164.2,252.9 L2165.0,234.8 L2165.9,233.5 L2166.8,244.3 L2167.6,265.6 L2168.5,237.2 L2169.4,233.2 L2170.2,240.9 L2171.1,320.5 L2172.0,240.7 L2172.8,233.9 L2173.7,238.7 L2174.6,269.5 L2175.4,245.5 L2176.3,235.1 L2177.2,237.1 L2178.0,256.1 L2178.9,251.6 L2179.8,236.5 L2180.6,236.1 L2181.5,249.4 L2182.4,261.7 L2183.2,238.9 L2184.1,236.2 L2185.0,245.2 L2185.8,283.3 L2186.7,241.9 L2187.6,236.2 L2188.4,242.0 L2189.3,283.6 L2190.2,245.7 L2191.0,236.8 L2191.9,240.1 L2192.8,263.2 L2193.7,251.1 L2194.5,238.6 L2195.4,239.3 L2196.3,254.8 L2197.1,259.5 L2198.0,240.4 L2198.9,238.6 L2199.7,248.8 L2200.6,273.0 L2201.5,242.5 L2202.3,238.0 L2203.2,245.2 L2204.1,325.2 L2204.9,245.9 L2205.8,238.8 L2206.7,243.2 L2207.5,271.9 L2208.4,250.9 L2209.3,239.9 L2210.1,241.6 L2211.0,259.6 L2211.9,257.1 L2212.7,241.3 L2213.6,240.5 L2214.5,253.2 L2215.3,267.9 L2216.2,243.6 L2217.1,240.6 L2217.9,249.1 L2218.8,293.2 L2219.7,246.7 L2220.5,240.7 L2221.4,246.1 L2222.3,283.7 L2223.1,250.5 L2224.0,241.2 L2224.9,244.0 L2225.7,265.9 L2226.6,256.0 L2227.5,242.8 L2228.3,243.1 L2229.2,257.9 L2230.1,264.7 L2230.9,244.5 L2231.8,242.4 L2232.7,252.1 L2233.5,279.5 L2234.4,246.5 L2235.3,241.8 L2236.1,248.6 L2237.0,307.9 L2237.9,250.1 L2238.7,242.6 L2239.6,246.5 L2240.5,273.5 L2241.3,255.2 L2242.2,243.6 L2243.1,245.0 L2243.9,262.0 L2244.8,261.6 L2245.7,244.9 L2246.5,243.8 L2247.4,255.9 L2248.3,273.0 L2249.1,247.2 L2250.0,244.0 L2250.9,252.0 L2251.7,304.3 L2252.6,250.4 L2253.5,244.0 L2254.4,249.0 L2255.2,283.5 L2256.1,254.3 L2257.0,244.5 L2257.8,247.1 L2258.7,267.8 L2259.6,260.0 L2260.4,246.1 L2261.3,246.2 L2262.2,260.2 L2263.0,269.1 L2263.9,247.9 L2264.8,245.4 L2265.6,255.0 L2266.5,286.2 L2267.4,250.4 L2268.2,245.2 L2269.1,251.6 L2270.0,301.6 L2270.8,254.0 L2271.7,246.1 L2272.6,249.8 L2273.4,275.2 L2274.3,259.5 L2275.2,247.4 L2276.0,248.5 L2276.9,264.6 L2277.8,266.0 L2278.6,248.4 L2279.5,246.9 L2280.4,258.4 L2281.2,278.0 L2282.1,250.3 L2283.0,246.4 L2283.8,254.2 L2284.7,320.3 L2285.6,254.9 L2286.4,248.4 L2287.3,253.3 L2288.2,285.3" stroke="#0000ff" stroke-width="2.8"/>
<path d="M236.5,459.8 L237.4,332.8 L238.2,325.7 L239.1,329.8 L240.0,357.8 L240.8,336.3 L241.7,325.8 L242.6,327.4 L243.4,345.0 L244.3,341.1 L245.2,325.8 L246.0,325.1 L246.9,337.2 L247.8,349.8 L248.6,327.2 L249.5,324.0 L250.4,332.1 L251.2,370.5 L252.1,328.8 L253.0,322.8 L253.8,328.0 L254.7,365.3 L255.6,331.7 L256.4,322.8 L257.3,325.4 L258.2,346.7 L259.0,336.1 L259.9,323.3 L260.8,323.5 L261.6,337.6 L262.5,342.9 L263.4,324.1 L264.2,322.0 L265.1,331.7 L266.0,355.9 L266.9,325.6 L267.7,321.0 L268.6,327.4 L269.5,390.4 L270.3,328.1 L271.2,320.6 L272.1,324.3 L272.9,350.5 L273.8,331.8 L274.7,320.8 L275.5,322.0 L276.4,338.8 L277.3,337.3 L278.1,321.5 L279.0,320.4 L279.9,331.8 L280.7,346.7 L281.6,322.7 L282.5,319.2 L283.3,326.9 L284.2,371.8 L285.1,324.6 L285.9,318.4 L286.8,323.2 L287.7,357.2 L288.5,327.7 L289.4,318.4 L290.3,320.7 L291.1,340.8 L292.0,332.3 L292.9,318.9 L293.7,318.8 L294.6,332.3 L295.5,339.6 L296.3,319.8 L297.2,317.4 L298.1,326.6 L298.9,354.1 L299.8,321.3 L300.7,316.4 L301.5,322.5 L302.4,373.4 L303.3,324.0 L304.1,316.2 L305.0,319.6 L305.9,344.1 L306.7,327.9 L307.6,316.4 L308.5,317.4 L309.3,333.3 L310.2,333.7 L311.1,317.1 L311.9,315.7 L312.8,326.7 L313.7,343.9 L314.5,318.4 L315.4,314.5 L316.3,321.9 L317.1,376.5 L318.0,320.4 L318.9,313.9 L319.7,318.3 L320.6,349.5 L321.5,323.5 L322.3,313.6 L323.2,315.5 L324.1,334.5 L324.9,328.0 L325.8,313.9 L326.7,313.4 L327.6,326.2 L328.4,335.5 L329.3,314.5 L330.2,311.7 L331.0,320.4 L331.9,351.6 L332.8,315.8 L333.6,310.4 L334.5,316.1 L335.4,360.1 L336.2,318.4 L337.1,310.0 L338.0,313.0 L338.8,336.0 L339.7,322.1 L340.6,309.9 L341.4,310.5 L342.3,325.6 L343.2,327.9 L344.0,310.4 L344.9,308.6 L345.8,319.0 L346.6,338.7 L347.5,311.5 L348.4,307.2 L349.2,314.1 L350.1,388.9 L351.0,313.4 L351.8,306.4 L352.7,310.5 L353.6,339.4 L354.4,316.5 L355.3,306.2 L356.2,307.8 L357.0,325.8 L357.9,321.3 L358.8,306.5 L359.6,305.7 L360.5,317.9 L361.4,329.3 L362.2,307.2 L363.1,304.0 L364.0,312.3 L364.8,348.0 L365.7,308.6 L366.6,302.8 L367.4,308.2 L368.3,347.3 L369.2,311.2 L370.0,302.5 L370.9,305.1 L371.8,326.9 L372.6,315.2 L373.5,302.5 L374.4,302.7 L375.2,317.2 L376.1,321.4 L377.0,303.0 L377.8,300.9 L378.7,310.8 L379.6,333.3 L380.4,304.1 L381.3,299.5 L382.2,306.0 L383.0,381.3 L383.9,306.1 L384.8,298.6 L385.6,302.4 L386.5,329.3 L387.4,309.2 L388.3,298.3 L389.1,299.6 L390.0,316.7 L390.9,314.0 L391.7,298.4 L392.6,297.3 L393.5,308.9 L394.3,322.5 L395.2,299.1 L396.1,295.5 L396.9,303.3 L397.8,344.7 L398.7,300.4 L399.5,294.2 L400.4,299.1 L401.3,334.5 L402.1,302.9 L403.0,293.6 L403.9,295.9 L404.7,316.5 L405.6,306.9 L406.5,293.5 L407.3,293.4 L408.2,307.2 L409.1,313.3 L409.9,293.9 L410.8,291.5 L411.7,300.8 L412.5,326.5 L413.4,294.9 L414.3,289.9 L415.1,296.1 L416.0,351.9 L416.9,297.0 L417.7,289.2 L418.6,292.6 L419.5,317.8 L420.3,300.3 L421.2,288.9 L422.1,289.8 L422.9,306.1 L423.8,305.4 L424.7,289.0 L425.5,287.6 L426.4,298.7 L427.3,314.6 L428.1,289.8 L429.0,285.9 L429.9,293.3 L430.7,342.4 L431.6,291.2 L432.5,284.7 L433.3,289.2 L434.2,321.6 L435.1,293.8 L435.9,284.1 L436.8,286.1 L437.7,305.5 L438.5,298.0 L439.4,284.3 L440.3,284.2 L441.1,297.5 L442.0,305.9 L442.9,285.7 L443.7,283.2 L444.6,292.4 L445.5,321.8 L446.3,287.8 L447.2,282.9 L448.1,289.1 L449.0,336.3 L449.8,291.3 L450.7,283.5 L451.6,286.9 L452.4,310.4 L453.3,343.7 L454.2,403.0 L455.0,337.8 L455.9,300.1 L456.8,301.5 L457.6,284.5 L458.5,283.0 L459.4,293.8 L460.2,312.4 L461.1,285.4 L462.0,282.1 L462.8,276.9 L463.7,274.2 L464.6,255.8 L465.4,240.2 L466.3,213.2 L467.2,192.3 L468.0,178.5 L468.9,169.4 L469.8,160.3 L470.6,154.0 L471.5,148.2 L472.4,142.4 L473.2,133.9 L474.1,130.8 L475.0,130.8 L475.8,130.8 L476.7,130.8 L477.6,130.8 L478.4,130.8 L479.3,130.8 L480.2,130.8 L481.0,130.8 L481.9,130.8 L482.8,130.8 L483.6,130.8 L484.5,130.8 L485.4,130.8 L486.2,130.8 L487.1,130.8 L488.0,130.8 L488.8,130.8 L489.7,130.8 L490.6,130.8 L491.4,130.8 L492.3,130.8 L493.2,130.8 L494.0,130.8 L494.9,130.8 L495.8,130.8 L496.6,130.8 L497.5,130.8 L498.4,130.8 L499.2,130.8 L500.1,130.8 L501.0,130.8 L501.8,130.8 L502.7,130.8 L503.6,130.8 L504.4,130.8 L505.3,130.8 L506.2,130.8 L507.0,130.8 L507.9,130.8 L508.8,130.8 L509.7,130.8 L510.5,130.8 L511.4,130.8 L512.3,130.8 L513.1,130.8 L514.0,130.8 L514.9,130.8 L515.7,130.8 L516.6,130.8 L517.5,130.8 L518.3,130.8 L519.2,130.8 L520.1,130.8 L520.9,130.8 L521.8,130.8 L522.7,130.8 L523.5,130.8 L524.4,130.8 L525.3,130.8 L526.1,130.8 L527.0,130.8 L527.9,130.8 L528.7,130.8 L529.6,131.9 L530.5,141.3 L531.3,147.1 L532.2,152.9 L533.1,158.7 L533.9,167.6 L534.8,176.7 L535.7,189.3 L536.5,207.6 L537.4,235.0 L538.3,254.7 L539.1,265.6 L540.0,280.4 L540.9,302.2 L541.7,289.8 L542.6,287.2 L543.5,295.2 L544.3,340.3 L545.2,293.2 L546.1,287.2 L546.9,317.4 L547.8,348.0 L548.7,319.9 L549.5,287.8 L550.4,290.3 L551.3,310.4 L552.1,301.5 L553.0,288.3 L553.9,288.5 L554.7,302.3 L555.6,309.9 L556.5,290.3 L557.3,288.1 L558.2,297.5 L559.1,325.2 L559.9,292.5 L560.8,287.5 L561.7,293.6 L562.5,344.4 L563.4,295.0 L564.3,287.2 L565.1,290.6 L566.0,315.1 L566.9,298.9 L567.8,287.5 L568.6,288.5 L569.5,304.8 L570.4,305.5 L571.2,289.3 L572.1,288.3 L573.0,299.7 L573.8,317.2 L574.7,292.1 L575.6,288.6 L576.4,296.4 L577.3,351.4 L578.2,295.6 L579.0,289.4 L579.9,294.4 L580.8,325.9 L581.6,300.2 L582.5,290.8 L583.4,293.3 L584.2,312.7 L585.1,306.5 L586.0,292.8 L586.8,292.9 L587.7,306.2 L588.6,315.9 L589.4,295.4 L590.3,293.2 L591.2,302.5 L592.0,334.1 L592.9,298.8 L593.8,293.9 L594.6,300.1 L595.5,344.5 L596.4,303.2 L597.2,295.5 L598.1,299.1 L599.0,322.6 L599.8,309.0 L600.7,297.5 L601.6,298.6 L602.4,314.3 L603.3,317.0 L604.2,299.9 L605.0,298.7 L605.9,309.7 L606.8,329.9 L607.6,303.0 L608.5,299.3 L609.4,306.9 L610.2,382.1 L611.1,306.9 L612.0,300.4 L612.8,305.2 L613.7,334.6 L614.6,312.1 L615.4,302.4 L616.3,304.6 L617.2,323.2 L618.0,319.1 L618.9,304.8 L619.8,304.7 L620.6,317.6 L621.5,329.4 L622.4,307.7 L623.2,305.1 L624.1,314.1 L625.0,350.3 L625.8,311.3 L626.7,306.1 L627.6,312.1 L628.5,351.8 L629.3,316.2 L630.2,308.0 L631.1,311.1 L631.9,333.3 L632.8,321.9 L633.7,309.7 L634.5,310.4 L635.4,325.3 L636.3,330.0 L637.1,309.0 L638.0,303.8 L638.9,311.9 L639.7,334.5 L640.6,305.2 L641.5,300.6 L642.3,307.2 L643.2,382.4 L644.1,307.2 L644.9,299.8 L645.8,303.7 L646.7,329.5 L647.5,309.3 L648.4,298.5 L649.3,300.0 L650.1,317.2 L651.0,314.8 L651.9,299.3 L652.7,298.2 L653.6,310.0 L654.5,323.6 L655.3,300.2 L656.2,296.7 L657.1,304.5 L657.9,345.8 L658.8,301.5 L659.7,295.4 L660.5,300.3 L661.4,335.7 L662.3,304.2 L663.1,295.0 L664.0,297.3 L664.9,317.9 L665.7,308.3 L666.6,295.0 L667.5,294.9 L668.3,308.7 L669.2,314.9 L670.1,295.5 L670.9,293.1 L671.8,302.5 L672.7,328.1 L673.5,296.6 L674.4,291.7 L675.3,297.9 L676.1,353.8 L677.0,298.9 L677.9,291.1 L678.7,294.5 L679.6,319.8 L680.5,302.3 L681.3,291.0 L682.2,292.0 L683.1,308.3 L683.9,307.7 L684.8,291.4 L685.7,290.1 L686.5,301.2 L687.4,317.2 L688.3,292.4 L689.2,288.6 L690.0,296.1 L690.9,345.2 L691.8,294.1 L692.6,287.6 L693.5,292.2 L694.4,324.7 L695.2,297.0 L696.1,287.3 L697.0,289.4 L697.8,308.9 L698.7,301.4 L699.6,287.5 L700.4,287.2 L701.3,300.3 L702.2,308.6 L703.0,288.2 L703.9,285.5 L704.8,294.4 L705.6,323.7 L706.5,289.5 L707.4,284.2 L708.2,290.1 L709.1,337.1 L710.0,291.9 L710.8,283.8 L711.7,286.9 L712.6,310.7 L713.4,295.6 L714.3,283.7 L715.2,284.4 L716.0,300.0 L716.9,301.3 L717.8,284.2 L718.6,282.5 L719.5,293.1 L720.4,311.6 L721.2,285.2 L722.1,281.1 L723.0,288.3 L723.8,350.3 L724.7,287.1 L725.6,280.3 L726.4,284.5 L727.3,314.5 L728.2,290.2 L729.0,280.3 L729.9,282.1 L730.8,300.7 L731.6,295.3 L732.5,280.9 L733.4,280.5 L734.2,293.2 L735.1,303.6 L736.0,282.3 L736.8,279.5 L737.7,288.3 L738.6,321.8 L739.4,284.6 L740.3,279.4 L741.2,285.3 L742.0,326.9 L742.9,288.5 L743.8,280.3 L744.6,283.3 L745.5,305.9 L746.4,293.2 L747.2,310.7 L748.1,347.0 L749.0,319.3 L749.9,300.1 L750.7,282.3 L751.6,280.6 L752.5,290.6 L753.3,311.4 L754.2,282.1 L755.1,277.9 L755.9,277.6 L756.8,287.2 L757.7,256.8 L758.5,243.3 L759.4,216.6 L760.3,194.0 L761.1,179.6 L762.0,170.5 L762.9,161.4 L763.7,154.7 L764.6,148.9 L765.5,143.1 L766.3,135.1 L767.2,130.8 L768.1,130.8 L768.9,130.8 L769.8,130.8 L770.7,130.8 L771.5,130.8 L772.4,130.8 L773.3,130.8 L774.1,130.8 L775.0,130.8 L775.9,130.8 L776.7,130.8 L777.6,130.8 L778.5,130.8 L779.3,130.8 L780.2,130.8 L781.1,130.8 L781.9,130.8 L782.8,130.8 L783.7,130.8 L784.5,130.8 L785.4,130.8 L786.3,130.8 L787.1,130.8 L788.0,130.8 L788.9,130.8 L789.7,130.8 L790.6,130.8 L791.5,130.8 L792.3,130.8 L793.2,130.8 L794.1,130.8 L794.9,130.8 L795.8,130.8 L796.7,130.8 L797.5,130.8 L798.4,130.8 L799.3,130.8 L800.1,130.8 L801.0,130.8 L801.9,130.8 L802.7,130.8 L803.6,130.8 L804.5,130.8 L805.3,130.8 L806.2,130.8 L807.1,130.8 L807.9,130.8 L808.8,130.8 L809.7,130.8 L810.6,130.8 L811.4,130.8 L812.3,130.8 L813.2,130.8 L814.0,130.8 L814.9,130.8 L815.8,130.8 L816.6,130.8 L817.5,130.8 L818.4,130.8 L819.2,130.8 L820.1,130.8 L821.0,130.8 L821.8,130.8 L822.7,130.8 L823.6,130.8 L824.4,130.8 L825.3,130.8 L826.2,130.8 L827.0,130.8 L827.9,130.8 L828.8,130.8 L829.6,130.8 L830.5,130.8 L831.4,130.8 L832.2,130.8 L833.1,130.8 L834.0,130.8 L834.8,130.8 L835.7,130.8 L836.6,130.8 L837.4,130.8 L838.3,130.8 L839.2,130.8 L840.0,130.8 L840.9,130.8 L841.8,130.8 L842.6,130.8 L843.5,130.8 L844.4,130.8 L845.2,130.8 L846.1,130.8 L847.0,130.8 L847.8,130.8 L848.7,130.8 L849.6,130.8 L850.4,130.8 L851.3,130.8 L852.2,130.8 L853.0,130.8 L853.9,130.8 L854.8,130.8 L855.6,130.8 L856.5,130.8 L857.4,130.8 L858.2,130.8 L859.1,130.8 L860.0,130.8 L860.8,130.8 L861.7,130.8 L862.6,130.8 L863.4,130.8 L864.3,130.8 L865.2,130.8 L866.0,130.8 L866.9,130.8 L867.8,130.8 L868.6,130.8 L869.5,130.8 L870.4,130.8 L871.3,130.8 L872.1,130.8 L873.0,130.8 L873.9,130.8 L874.7,130.8 L875.6,130.8 L876.5,130.8 L877.3,130.8 L878.2,130.8 L879.1,130.8 L879.9,130.8 L880.8,130.8 L881.7,131.0 L882.5,139.0 L883.4,145.5 L884.3,151.3 L885.1,157.1 L886.0,165.1 L886.9,174.2 L887.7,185.3 L888.6,200.0 L889.5,227.9 L890.3,251.4 L891.2,260.3 L892.1,275.4 L892.9,284.5 L893.8,281.9 L894.7,282.7 L895.5,297.5 L896.4,301.9 L897.3,283.8 L898.1,282.0 L899.0,292.2 L899.9,346.1 L900.7,384.0 L901.6,327.8 L902.5,288.6 L903.3,364.0 L904.2,288.9 L905.1,281.6 L905.9,285.5 L906.8,312.7 L907.7,292.9 L908.5,282.4 L909.4,284.0 L910.3,301.5 L911.1,299.2 L912.0,284.0 L912.9,283.1 L913.7,294.9 L914.6,308.6 L915.5,285.3 L916.3,282.1 L917.2,290.2 L918.1,331.7 L918.9,287.5 L919.8,281.7 L920.7,286.9 L921.5,322.5 L922.4,291.1 L923.3,282.4 L924.1,285.2 L925.0,306.1 L925.9,296.9 L926.7,284.1 L927.6,284.5 L928.5,298.7 L929.4,305.2 L930.2,286.3 L931.1,284.4 L932.0,294.3 L932.8,320.3 L933.7,289.2 L934.6,284.8 L935.4,291.4 L936.3,347.6 L937.2,293.0 L938.0,285.8 L938.9,289.7 L939.8,315.3 L940.6,298.2 L941.5,287.3 L942.4,288.8 L943.2,305.6 L944.1,305.2 L945.0,289.3 L945.8,288.5 L946.7,300.1 L947.6,316.5 L948.4,292.0 L949.3,288.7 L950.2,296.7 L951.0,346.1 L951.9,295.3 L952.8,289.3 L953.6,294.3 L954.5,327.2 L955.4,299.8 L956.2,290.6 L957.1,293.2 L958.0,313.1 L958.8,305.9 L959.7,292.4 L960.6,292.6 L961.4,306.2 L962.3,314.7 L963.2,294.7 L964.0,292.5 L964.9,301.9 L965.8,331.4 L966.6,297.5 L967.5,292.8 L968.4,299.0 L969.2,346.4 L970.1,301.5 L971.0,293.8 L971.8,297.4 L972.7,321.5 L973.6,306.8 L974.4,295.4 L975.3,296.6 L976.2,312.5 L977.0,314.1 L977.9,297.4 L978.8,296.2 L979.6,307.2 L980.5,326.1 L981.4,299.9 L982.2,296.2 L983.1,303.7 L984.0,366.1 L984.8,303.2 L985.7,296.8 L986.6,301.3 L987.4,331.3 L988.3,306.9 L989.2,296.9 L990.1,298.7 L990.9,317.2 L991.8,311.7 L992.7,297.2 L993.5,296.6 L994.4,309.2 L995.3,319.5 L996.1,298.0 L997.0,295.1 L997.9,303.6 L998.7,336.9 L999.6,299.5 L1000.5,293.9 L1001.3,299.4 L1002.2,340.8 L1003.1,302.1 L1003.9,293.6 L1004.8,296.4 L1005.7,318.8 L1006.5,306.1 L1007.4,293.7 L1008.3,294.2 L1009.1,309.0 L1010.0,312.2 L1010.9,294.3 L1011.7,292.4 L1012.6,302.5 L1013.5,323.7 L1014.3,295.4 L1015.2,291.0 L1016.1,297.7 L1016.9,424.3 L1017.8,297.5 L1018.7,290.3 L1019.5,294.2 L1020.4,322.2 L1021.3,300.7 L1022.1,290.1 L1023.0,291.5 L1023.9,309.1 L1024.7,305.6 L1025.6,290.4 L1026.5,289.5 L1027.3,301.5 L1028.2,313.9 L1029.1,291.2 L1029.9,288.0 L1030.8,296.0 L1031.7,334.4 L1032.5,292.8 L1033.4,286.8 L1034.3,292.0 L1035.1,329.1 L1036.0,295.5 L1036.9,286.5 L1037.7,289.0 L1038.6,310.2 L1039.5,299.6 L1040.3,286.7 L1041.2,286.8 L1042.1,300.9 L1042.9,306.2 L1043.8,287.3 L1044.7,285.1 L1045.5,294.8 L1046.4,318.9 L1047.3,288.5 L1048.1,283.9 L1049.0,290.2 L1049.9,353.2 L1050.8,290.9 L1051.6,283.3 L1052.5,287.0 L1053.4,313.1 L1054.2,294.3 L1055.1,283.3 L1056.0,284.4 L1056.8,301.1 L1057.7,299.6 L1058.6,283.7 L1059.4,282.5 L1060.3,293.9 L1061.2,308.7 L1062.0,284.7 L1062.9,281.2 L1063.8,288.9 L1064.6,333.8 L1065.5,286.6 L1066.4,280.4 L1067.2,285.2 L1068.1,319.1 L1069.0,289.7 L1069.8,280.3 L1070.7,282.6 L1071.6,302.7 L1072.4,294.2 L1073.3,280.7 L1074.2,280.7 L1075.0,294.3 L1075.9,301.8 L1076.8,282.2 L1077.6,279.9 L1078.5,289.4 L1079.4,317.0 L1080.2,284.4 L1081.1,279.7 L1082.0,285.9 L1082.8,337.0 L1083.7,287.8 L1084.6,280.2 L1085.4,283.7 L1086.3,308.4 L1087.2,292.2 L1088.0,280.8 L1088.9,281.9 L1089.8,297.9 L1090.6,298.2 L1091.5,281.6 L1092.4,280.3 L1093.2,291.3 L1094.1,308.5 L1095.0,283.0 L1095.8,280.5 L1096.7,288.3 L1097.6,343.0 L1098.4,319.4 L1099.3,359.0 L1100.2,318.5 L1101.0,316.6 L1101.9,290.7 L1102.8,281.0 L1103.6,283.2 L1104.5,302.0 L1105.4,295.1 L1106.2,280.4 L1107.1,279.4 L1108.0,284.5 L1108.8,274.0 L1109.7,259.5 L1110.6,250.3 L1111.5,224.4 L1112.3,198.1 L1113.2,183.4 L1114.1,173.0 L1114.9,163.9 L1115.8,156.3 L1116.7,150.5 L1117.5,144.7 L1118.4,137.8 L1119.3,130.8 L1120.1,130.8 L1121.0,130.8 L1121.9,130.8 L1122.7,130.8 L1123.6,130.8 L1124.5,130.8 L1125.3,130.8 L1126.2,130.8 L1127.1,130.8 L1127.9,130.8 L1128.8,130.8 L1129.7,130.8 L1130.5,130.8 L1131.4,130.8 L1132.3,130.8 L1133.1,130.8 L1134.0,130.8 L1134.9,130.8 L1135.7,130.8 L1136.6,130.8 L1137.5,130.8 L1138.3,130.8 L1139.2,130.8 L1140.1,130.8 L1140.9,130.8 L1141.8,130.8 L1142.7,130.8 L1143.5,130.8 L1144.4,130.8 L1145.3,130.8 L1146.1,130.8 L1147.0,130.8 L1147.9,130.8 L1148.7,130.8 L1149.6,130.8 L1150.5,130.8 L1151.3,130.8 L1152.2,130.8 L1153.1,130.8 L1153.9,130.8 L1154.8,130.8 L1155.7,130.8 L1156.5,130.8 L1157.4,130.8 L1158.3,130.8 L1159.1,130.8 L1160.0,130.8 L1160.9,130.8 L1161.7,130.8 L1162.6,130.8 L1163.5,130.8 L1164.3,130.8 L1165.2,130.8 L1166.1,130.8 L1166.9,130.8 L1167.8,130.8 L1168.7,130.8 L1169.5,130.8 L1170.4,130.8 L1171.3,130.8 L1172.2,130.8 L1173.0,130.8 L1173.9,130.8 L1174.8,130.8 L1175.6,130.8 L1176.5,130.8 L1177.4,130.8 L1178.2,130.8 L1179.1,130.8 L1180.0,130.8 L1180.8,130.8 L1181.7,130.8 L1182.6,130.8 L1183.4,130.8 L1184.3,130.8 L1185.2,130.8 L1186.0,130.8 L1186.9,130.8 L1187.8,130.8 L1188.6,130.8 L1189.5,130.8 L1190.4,130.8 L1191.2,130.8 L1192.1,130.8 L1193.0,130.8 L1193.8,130.8 L1194.7,130.8 L1195.6,130.8 L1196.4,130.8 L1197.3,130.8 L1198.2,130.8 L1199.0,130.8 L1199.9,130.8 L1200.8,130.8 L1201.6,130.8 L1202.5,130.8 L1203.4,130.8 L1204.2,130.8 L1205.1,130.8 L1206.0,130.8 L1206.8,130.8 L1207.7,130.8 L1208.6,130.8 L1209.4,130.8 L1210.3,130.8 L1211.2,130.8 L1212.0,130.8 L1212.9,130.8 L1213.8,130.8 L1214.6,130.8 L1215.5,130.8 L1216.4,130.8 L1217.2,130.8 L1218.1,130.8 L1219.0,130.8 L1219.8,130.8 L1220.7,130.8 L1221.6,130.8 L1222.4,130.8 L1223.3,130.8 L1224.2,130.8 L1225.0,130.8 L1225.9,130.8 L1226.8,130.8 L1227.6,130.8 L1228.5,130.8 L1229.4,130.8 L1230.3,130.8 L1231.1,130.8 L1232.0,130.8 L1232.9,130.8 L1233.7,130.8 L1234.6,130.8 L1235.5,130.8 L1236.3,130.8 L1237.2,130.8 L1238.1,130.8 L1238.9,130.8 L1239.8,130.8 L1240.7,130.8 L1241.5,130.8 L1242.4,130.8 L1243.3,130.8 L1244.1,130.8 L1245.0,130.8 L1245.9,130.8 L1246.7,130.8 L1247.6,130.8 L1248.5,130.8 L1249.3,130.8 L1250.2,130.8 L1251.1,130.8 L1251.9,130.8 L1252.8,130.8 L1253.7,130.8 L1254.5,130.8 L1255.4,130.8 L1256.3,130.8 L1257.1,130.8 L1258.0,130.8 L1258.9,130.8 L1259.7,130.8 L1260.6,130.8 L1261.5,130.8 L1262.3,130.8 L1263.2,130.8 L1264.1,130.8 L1264.9,130.8 L1265.8,130.8 L1266.7,130.8 L1267.5,130.8 L1268.4,130.8 L1269.3,130.8 L1270.1,130.8 L1271.0,130.8 L1271.9,130.8 L1272.7,130.8 L1273.6,130.8 L1274.5,130.8 L1275.3,130.8 L1276.2,130.8 L1277.1,130.8 L1277.9,130.8 L1278.8,130.8 L1279.7,130.8 L1280.5,130.8 L1281.4,130.8 L1282.3,130.8 L1283.1,130.8 L1284.0,130.8 L1284.9,130.8 L1285.7,130.8 L1286.6,130.8 L1287.5,130.8 L1288.3,130.8 L1289.2,130.8 L1290.1,130.8 L1291.0,130.8 L1291.8,130.8 L1292.7,130.8 L1293.6,130.8 L1294.4,130.8 L1295.3,130.8 L1296.2,130.8 L1297.0,130.8 L1297.9,130.8 L1298.8,130.8 L1299.6,130.8 L1300.5,130.8 L1301.4,130.8 L1302.2,130.8 L1303.1,130.8 L1304.0,130.8 L1304.8,130.8 L1305.7,130.8 L1306.6,130.8 L1307.4,130.8 L1308.3,130.8 L1309.2,130.8 L1310.0,130.8 L1310.9,130.8 L1311.8,130.8 L1312.6,130.8 L1313.5,130.8 L1314.4,130.8 L1315.2,130.8 L1316.1,130.8 L1317.0,130.8 L1317.8,130.8 L1318.7,130.8 L1319.6,130.8 L1320.4,130.8 L1321.3,130.8 L1322.2,130.8 L1323.0,130.8 L1323.9,130.8 L1324.8,130.8 L1325.6,130.8 L1326.5,130.8 L1327.4,130.8 L1328.2,130.8 L1329.1,130.8 L1330.0,130.8 L1330.8,130.8 L1331.7,130.8 L1332.6,130.8 L1333.4,130.8 L1334.3,130.8 L1335.2,130.8 L1336.0,130.8 L1336.9,130.8 L1337.8,130.8 L1338.6,130.8 L1339.5,130.8 L1340.4,130.8 L1341.2,130.8 L1342.1,130.8 L1343.0,130.8 L1343.8,130.8 L1344.7,130.8 L1345.6,130.8 L1346.4,130.8 L1347.3,130.8 L1348.2,130.8 L1349.0,130.8 L1349.9,130.8 L1350.8,131.9 L1351.7,141.2 L1352.5,147.0 L1353.4,152.8 L1354.3,158.6 L1355.1,167.4 L1356.0,176.5 L1356.9,189.1 L1357.7,207.2 L1358.6,234.7 L1359.5,253.6 L1360.3,262.6 L1361.2,282.2 L1362.1,282.0 L1362.9,277.2 L1363.8,280.0 L1364.7,299.7 L1365.5,293.8 L1366.4,280.1 L1367.3,279.9 L1368.1,292.9 L1369.0,335.1 L1369.9,375.0 L1370.7,322.2 L1371.6,288.0 L1372.5,319.5 L1373.3,283.9 L1374.2,278.6 L1375.1,283.8 L1375.9,327.7 L1376.8,286.1 L1377.7,278.0 L1378.5,281.2 L1379.4,304.4 L1380.3,290.7 L1381.1,278.9 L1382.0,279.8 L1382.9,295.2 L1383.7,297.8 L1384.6,280.5 L1385.5,279.0 L1386.3,289.6 L1387.2,309.5 L1388.1,282.4 L1388.9,278.5 L1389.8,285.7 L1390.7,360.7 L1391.5,285.3 L1392.4,278.5 L1393.3,282.9 L1394.1,312.0 L1395.0,289.2 L1395.9,279.3 L1396.7,281.4 L1397.6,299.7 L1398.5,295.5 L1399.3,281.1 L1400.2,280.8 L1401.1,293.4 L1401.9,305.1 L1402.8,283.4 L1403.7,280.7 L1404.5,289.4 L1405.4,325.4 L1406.3,286.3 L1407.1,281.0 L1408.0,286.7 L1408.9,326.1 L1409.7,290.4 L1410.6,282.1 L1411.5,285.2 L1412.4,307.3 L1413.2,295.9 L1414.1,283.6 L1415.0,284.4 L1415.8,299.1 L1416.7,303.7 L1417.6,285.6 L1418.4,283.9 L1419.3,294.3 L1420.2,317.1 L1421.0,288.2 L1421.9,284.1 L1422.8,291.0 L1423.6,366.6 L1424.5,291.8 L1425.4,284.9 L1426.2,289.1 L1427.1,316.4 L1428.0,296.5 L1428.8,286.1 L1429.7,287.8 L1430.6,305.2 L1431.4,302.8 L1432.3,287.5 L1433.2,286.8 L1434.0,298.8 L1434.9,312.5 L1435.8,290.5 L1436.6,287.8 L1437.5,296.1 L1438.4,337.8 L1439.2,293.9 L1440.1,288.2 L1441.0,293.6 L1441.8,329.3 L1442.7,298.1 L1443.6,284.7 L1444.4,282.8 L1445.3,300.4 L1446.2,290.9 L1447.0,277.6 L1447.9,277.7 L1448.8,291.6 L1449.6,297.9 L1450.5,278.6 L1451.4,276.3 L1452.2,285.9 L1453.1,311.6 L1454.0,280.1 L1454.8,275.1 L1455.7,281.1 L1456.6,336.9 L1457.4,282.0 L1458.3,274.2 L1459.2,277.8 L1460.0,303.1 L1460.9,285.7 L1461.8,274.5 L1462.6,275.6 L1463.5,292.0 L1464.4,291.5 L1465.2,275.3 L1466.1,274.0 L1467.0,285.2 L1467.8,301.2 L1468.7,276.4 L1469.6,272.8 L1470.4,280.3 L1471.3,329.5 L1472.2,278.4 L1473.1,272.0 L1473.9,276.6 L1474.8,309.1 L1475.7,281.4 L1476.5,271.9 L1477.4,274.0 L1478.3,293.5 L1479.1,286.0 L1480.0,272.2 L1480.9,272.0 L1481.7,285.1 L1482.6,293.4 L1483.5,273.1 L1484.3,270.4 L1485.2,279.4 L1486.1,308.7 L1486.9,274.5 L1487.8,269.4 L1488.7,275.3 L1489.5,322.3 L1490.4,277.2 L1491.3,269.1 L1492.1,272.3 L1493.0,296.1 L1493.9,281.0 L1494.7,269.2 L1495.6,270.0 L1496.5,285.6 L1497.3,286.9 L1498.2,269.8 L1499.1,268.2 L1499.9,278.8 L1500.8,297.3 L1501.7,270.9 L1502.5,266.9 L1503.4,273.9 L1504.3,336.1 L1505.1,272.8 L1506.0,266.0 L1506.9,270.3 L1507.7,300.3 L1508.6,276.0 L1509.5,265.9 L1510.3,267.7 L1511.2,286.2 L1512.1,280.7 L1512.9,266.2 L1513.8,265.7 L1514.7,278.2 L1515.5,288.5 L1516.4,267.1 L1517.3,264.1 L1518.1,272.6 L1519.0,306.0 L1519.9,268.5 L1520.7,263.0 L1521.6,268.5 L1522.5,309.9 L1523.3,271.2 L1524.2,262.7 L1525.1,265.5 L1525.9,287.9 L1526.8,275.1 L1527.7,262.7 L1528.5,263.1 L1529.4,277.9 L1530.3,281.1 L1531.1,263.2 L1532.0,261.2 L1532.9,271.3 L1533.8,292.5 L1534.6,264.2 L1535.5,259.8 L1536.4,266.6 L1537.2,393.2 L1538.1,266.3 L1539.0,259.1 L1539.8,263.0 L1540.7,290.9 L1541.6,269.5 L1542.4,258.9 L1543.3,260.3 L1544.2,277.9 L1545.0,274.4 L1545.9,259.2 L1546.8,258.3 L1547.6,270.2 L1548.5,282.6 L1549.4,259.9 L1550.2,256.8 L1551.1,265.0 L1552.0,303.4 L1552.8,261.7 L1553.7,255.9 L1554.6,261.2 L1555.4,298.4 L1556.3,264.7 L1557.2,256.3 L1558.0,259.4 L1558.9,281.0 L1559.8,270.8 L1560.6,258.4 L1561.5,259.0 L1562.4,274.1 L1563.2,279.7 L1564.1,261.0 L1565.0,259.1 L1565.8,269.0 L1566.7,293.4 L1567.6,314.0 L1568.4,376.0 L1569.3,315.2 L1570.2,328.6 L1571.0,266.3 L1571.9,259.0 L1572.8,261.1 L1573.6,260.1 L1574.5,244.1 L1575.4,235.6 L1576.2,227.6 L1577.1,203.0 L1578.0,187.0 L1578.8,175.2 L1579.7,166.1 L1580.6,157.7 L1581.4,151.9 L1582.3,146.1 L1583.2,140.1 L1584.0,131.4 L1584.9,130.8 L1585.8,130.8 L1586.6,130.8 L1587.5,130.8 L1588.4,130.8 L1589.2,130.8 L1590.1,130.8 L1591.0,130.8 L1591.9,130.8 L1592.7,130.8 L1593.6,130.8 L1594.5,130.8 L1595.3,130.8 L1596.2,130.8 L1597.1,130.8 L1597.9,130.8 L1598.8,130.8 L1599.7,130.8 L1600.5,130.8 L1601.4,130.8 L1602.3,130.8 L1603.1,130.8 L1604.0,130.8 L1604.9,130.8 L1605.7,130.8 L1606.6,130.8 L1607.5,130.8 L1608.3,130.8 L1609.2,130.8 L1610.1,130.8 L1610.9,130.8 L1611.8,130.8 L1612.7,130.8 L1613.5,130.8 L1614.4,130.8 L1615.3,130.8 L1616.1,130.8 L1617.0,130.8 L1617.9,130.8 L1618.7,130.8 L1619.6,130.8 L1620.5,130.8 L1621.3,130.8 L1622.2,130.8 L1623.1,130.8 L1623.9,130.8 L1624.8,130.8 L1625.7,130.8 L1626.5,130.8 L1627.4,130.8 L1628.3,130.8 L1629.1,130.8 L1630.0,130.8 L1630.9,130.8 L1631.7,130.8 L1632.6,130.8 L1633.5,130.8 L1634.3,130.8 L1635.2,130.8 L1636.1,130.8 L1636.9,130.8 L1637.8,130.8 L1638.7,130.8 L1639.5,130.8 L1640.4,130.8 L1641.3,130.8 L1642.1,130.8 L1643.0,130.8 L1643.9,130.8 L1644.7,130.8 L1645.6,130.8 L1646.5,130.8 L1647.3,130.8 L1648.2,130.8 L1649.1,130.8 L1649.9,130.8 L1650.8,130.8 L1651.7,130.8 L1652.6,130.8 L1653.4,130.8 L1654.3,130.8 L1655.2,130.8 L1656.0,130.8 L1656.9,130.8 L1657.8,130.8 L1658.6,130.8 L1659.5,130.8 L1660.4,130.8 L1661.2,130.8 L1662.1,130.8 L1663.0,130.8 L1663.8,130.8 L1664.7,130.8 L1665.6,130.8 L1666.4,130.8 L1667.3,130.8 L1668.2,130.8 L1669.0,130.8 L1669.9,130.8 L1670.8,130.8 L1671.6,130.8 L1672.5,130.8 L1673.4,130.8 L1674.2,130.8 L1675.1,130.8 L1676.0,130.8 L1676.8,130.8 L1677.7,130.8 L1678.6,130.8 L1679.4,130.8 L1680.3,130.8 L1681.2,130.8 L1682.0,130.8 L1682.9,130.8 L1683.8,130.8 L1684.6,130.8 L1685.5,130.8 L1686.4,130.8 L1687.2,130.8 L1688.1,130.8 L1689.0,130.8 L1689.8,130.8 L1690.7,130.8 L1691.6,130.8 L1692.4,130.8 L1693.3,130.8 L1694.2,130.8 L1695.0,130.8 L1695.9,130.8 L1696.8,130.8 L1697.6,130.8 L1698.5,130.8 L1699.4,130.8 L1700.2,130.8 L1701.1,130.8 L1702.0,130.8 L1702.8,130.8 L1703.7,130.8 L1704.6,130.8 L1705.4,130.8 L1706.3,130.8 L1707.2,130.8 L1708.0,130.8 L1708.9,130.8 L1709.8,130.8 L1710.6,130.8 L1711.5,130.8 L1712.4,130.8 L1713.3,130.8 L1714.1,130.8 L1715.0,130.8 L1715.9,130.8 L1716.7,130.8 L1717.6,130.8 L1718.5,130.8 L1719.3,130.8 L1720.2,130.8 L1721.1,130.8 L1721.9,130.8 L1722.8,130.8 L1723.7,130.8 L1724.5,130.8 L1725.4,130.8 L1726.3,130.8 L1727.1,130.8 L1728.0,130.8 L1728.9,130.8 L1729.7,130.8 L1730.6,130.8 L1731.5,130.8 L1732.3,130.8 L1733.2,130.8 L1734.1,130.8 L1734.9,130.8 L1735.8,130.8 L1736.7,130.8 L1737.5,130.8 L1738.4,130.8 L1739.3,130.8 L1740.1,130.8 L1741.0,130.8 L1741.9,130.8 L1742.7,130.8 L1743.6,130.8 L1744.5,130.8 L1745.3,130.8 L1746.2,130.8 L1747.1,130.8 L1747.9,130.8 L1748.8,130.8 L1749.7,130.8 L1750.5,130.8 L1751.4,130.8 L1752.3,130.8 L1753.1,130.8 L1754.0,130.8 L1754.9,130.8 L1755.7,130.8 L1756.6,130.8 L1757.5,130.8 L1758.3,130.8 L1759.2,130.8 L1760.1,130.8 L1760.9,130.8 L1761.8,130.8 L1762.7,130.8 L1763.5,130.8 L1764.4,130.8 L1765.3,130.8 L1766.1,130.8 L1767.0,130.8 L1767.9,130.8 L1768.7,130.8 L1769.6,130.8 L1770.5,130.8 L1771.3,130.8 L1772.2,130.8 L1773.1,130.8 L1774.0,130.8 L1774.8,130.8 L1775.7,130.8 L1776.6,130.8 L1777.4,130.8 L1778.3,130.8 L1779.2,130.8 L1780.0,130.8 L1780.9,130.8 L1781.8,130.8 L1782.6,130.8 L1783.5,130.8 L1784.4,130.8 L1785.2,130.8 L1786.1,130.8 L1787.0,130.8 L1787.8,130.8 L1788.7,130.8 L1789.6,130.8 L1790.4,130.8 L1791.3,130.8 L1792.2,130.8 L1793.0,130.8 L1793.9,130.8 L1794.8,130.8 L1795.6,130.8 L1796.5,130.8 L1797.4,130.8 L1798.2,130.8 L1799.1,130.8 L1800.0,130.8 L1800.8,130.8 L1801.7,130.8 L1802.6,130.8 L1803.4,130.8 L1804.3,130.8 L1805.2,130.8 L1806.0,130.8 L1806.9,130.8 L1807.8,130.8 L1808.6,130.8 L1809.5,130.8 L1810.4,130.8 L1811.2,130.8 L1812.1,130.8 L1813.0,130.8 L1813.8,130.8 L1814.7,130.8 L1815.6,130.8 L1816.4,130.8 L1817.3,130.8 L1818.2,130.8 L1819.0,130.8 L1819.9,130.8 L1820.8,130.8 L1821.6,130.8 L1822.5,130.8 L1823.4,130.8 L1824.2,130.8 L1825.1,130.8 L1826.0,130.8 L1826.8,130.8 L1827.7,130.8 L1828.6,130.8 L1829.4,130.8 L1830.3,130.8 L1831.2,130.8 L1832.0,130.8 L1832.9,130.8 L1833.8,130.8 L1834.7,130.8 L1835.5,130.8 L1836.4,130.8 L1837.3,130.8 L1838.1,130.8 L1839.0,130.8 L1839.9,130.8 L1840.7,130.8 L1841.6,130.8 L1842.5,130.8 L1843.3,130.8 L1844.2,130.8 L1845.1,130.8 L1845.9,130.8 L1846.8,130.8 L1847.7,130.8 L1848.5,130.8 L1849.4,130.8 L1850.3,130.8 L1851.1,130.8 L1852.0,130.8 L1852.9,130.8 L1853.7,130.8 L1854.6,130.8 L1855.5,130.8 L1856.3,130.8 L1857.2,130.8 L1858.1,130.8 L1858.9,130.8 L1859.8,130.8 L1860.7,130.8 L1861.5,130.8 L1862.4,130.8 L1863.3,130.8 L1864.1,130.8 L1865.0,130.8 L1865.9,130.8 L1866.7,130.8 L1867.6,130.8 L1868.5,130.8 L1869.3,130.8 L1870.2,130.8 L1871.1,130.8 L1871.9,130.8 L1872.8,130.8 L1873.7,130.8 L1874.5,130.8 L1875.4,130.8 L1876.3,130.8 L1877.1,130.8 L1878.0,130.8 L1878.9,130.8 L1879.7,130.8 L1880.6,130.8 L1881.5,130.8 L1882.3,130.8 L1883.2,130.8 L1884.1,130.8 L1884.9,130.8 L1885.8,130.8 L1886.7,130.8 L1887.5,130.8 L1888.4,130.8 L1889.3,130.8 L1890.1,130.8 L1891.0,130.8 L1891.9,130.8 L1892.8,130.8 L1893.6,130.8 L1894.5,130.8 L1895.4,130.8 L1896.2,130.8 L1897.1,130.8 L1898.0,130.8 L1898.8,130.8 L1899.7,130.8 L1900.6,130.8 L1901.4,130.8 L1902.3,130.8 L1903.2,130.8 L1904.0,130.8 L1904.9,130.8 L1905.8,130.8 L1906.6,130.8 L1907.5,130.8 L1908.4,130.8 L1909.2,130.8 L1910.1,130.8 L1911.0,130.8 L1911.8,130.8 L1912.7,130.8 L1913.6,130.8 L1914.4,130.8 L1915.3,130.8 L1916.2,130.8 L1917.0,130.8 L1917.9,130.8 L1918.8,130.8 L1919.6,130.8 L1920.5,130.8 L1921.4,130.8 L1922.2,130.8 L1923.1,130.8 L1924.0,130.8 L1924.8,130.8 L1925.7,130.8 L1926.6,130.8 L1927.4,130.8 L1928.3,130.8 L1929.2,130.8 L1930.0,130.8 L1930.9,130.8 L1931.8,130.8 L1932.6,130.8 L1933.5,130.8 L1934.4,130.8 L1935.2,130.8 L1936.1,130.8 L1937.0,130.8 L1937.8,130.8 L1938.7,130.8 L1939.6,130.8 L1940.4,130.8 L1941.3,130.8 L1942.2,130.8 L1943.0,130.8 L1943.9,130.8 L1944.8,130.8 L1945.6,130.8 L1946.5,130.8 L1947.4,130.8 L1948.2,130.8 L1949.1,130.8 L1950.0,130.8 L1950.8,130.8 L1951.7,130.8 L1952.6,130.8 L1953.5,130.8 L1954.3,130.8 L1955.2,130.8 L1956.1,130.8 L1956.9,130.8 L1957.8,130.8 L1958.7,130.8 L1959.5,130.8 L1960.4,130.8 L1961.3,130.8 L1962.1,130.8 L1963.0,130.8 L1963.9,130.8 L1964.7,130.8 L1965.6,130.8 L1966.5,130.8 L1967.3,130.8 L1968.2,130.8 L1969.1,130.8 L1969.9,130.8 L1970.8,130.8 L1971.7,130.8 L1972.5,130.8 L1973.4,130.8 L1974.3,130.8 L1975.1,130.8 L1976.0,130.8 L1976.9,130.8 L1977.7,130.8 L1978.6,130.8 L1979.5,130.8 L1980.3,130.8 L1981.2,130.8 L1982.1,130.8 L1982.9,130.8 L1983.8,130.8 L1984.7,130.8 L1985.5,130.8 L1986.4,130.8 L1987.3,130.8 L1988.1,130.8 L1989.0,130.8 L1989.9,130.8 L1990.7,130.8 L1991.6,130.8 L1992.5,130.8 L1993.3,130.8 L1994.2,130.8 L1995.1,130.8 L1995.9,130.8 L1996.8,130.8 L1997.7,130.8 L1998.5,130.8 L1999.4,130.8 L2000.3,130.8 L2001.1,130.8 L2002.0,130.8 L2002.9,130.8 L2003.7,130.8 L2004.6,130.8 L2005.5,130.8 L2006.3,130.8 L2007.2,130.8 L2008.1,130.8 L2008.9,130.8 L2009.8,130.8 L2010.7,130.8 L2011.5,130.8 L2012.4,130.8 L2013.3,130.8 L2014.2,130.8 L2015.0,130.8 L2015.9,130.8 L2016.8,130.8 L2017.6,130.8 L2018.5,130.8 L2019.4,130.8 L2020.2,130.8 L2021.1,130.8 L2022.0,130.8 L2022.8,130.8 L2023.7,130.8 L2024.6,130.8 L2025.4,130.8 L2026.3,130.8 L2027.2,130.8 L2028.0,130.8 L2028.9,130.8 L2029.8,130.8 L2030.6,130.8 L2031.5,130.8 L2032.4,130.8 L2033.2,130.8 L2034.1,130.8 L2035.0,130.8 L2035.8,130.8 L2036.7,130.8 L2037.6,130.8 L2038.4,130.8 L2039.3,130.8 L2040.2,130.8 L2041.0,130.8 L2041.9,130.8 L2042.8,130.8 L2043.6,130.8 L2044.5,130.8 L2045.4,130.8 L2046.2,130.8 L2047.1,130.8 L2048.0,130.8 L2048.8,130.8 L2049.7,130.8 L2050.6,130.8 L2051.4,133.5 L2052.3,142.2 L2053.2,148.0 L2054.0,153.8 L2054.9,160.0 L2055.8,169.1 L2056.6,178.2 L2057.5,191.8 L2058.4,212.2 L2059.2,239.3 L2060.1,255.1 L2061.0,267.4 L2061.8,275.7 L2062.7,276.2 L2063.6,278.3 L2064.4,297.1 L2065.3,294.3 L2066.2,279.7 L2067.0,279.1 L2067.9,291.3 L2068.8,304.0 L2069.6,281.4 L2070.5,278.3 L2071.4,311.1 L2072.2,341.0 L2073.1,309.5 L2074.0,278.1 L2074.9,282.5 L2075.7,319.6 L2076.6,286.1 L2077.5,277.3 L2078.3,280.1 L2079.2,301.5 L2080.1,291.1 L2080.9,278.5 L2081.8,278.9 L2082.7,293.3 L2083.5,298.8 L2084.4,280.1 L2085.3,278.1 L2086.1,288.0 L2087.0,312.2 L2087.9,282.0 L2088.7,277.6 L2089.6,284.2 L2090.5,347.3 L2091.3,285.1 L2092.2,277.8 L2093.1,281.7 L2093.9,307.9 L2094.8,289.3 L2095.7,278.6 L2096.5,280.2 L2097.4,297.3 L2098.3,296.0 L2099.1,280.4 L2100.0,279.7 L2100.9,291.5 L2101.7,306.6 L2102.6,282.9 L2103.5,279.7 L2104.3,287.9 L2105.2,333.1 L2106.1,286.0 L2106.9,280.1 L2107.8,285.3 L2108.7,319.5 L2109.5,290.3 L2110.4,281.3 L2111.3,284.0 L2112.1,304.4 L2113.0,296.1 L2113.9,283.0 L2114.7,283.3 L2115.6,297.1 L2116.5,304.6 L2117.3,285.1 L2118.2,283.0 L2119.1,292.7 L2119.9,320.3 L2120.8,287.9 L2121.7,283.3 L2122.5,289.7 L2123.4,340.9 L2124.3,291.8 L2125.1,284.3 L2126.0,288.1 L2126.9,312.9 L2127.7,296.9 L2128.6,285.8 L2129.5,287.1 L2130.3,303.4 L2131.2,304.0 L2132.1,287.7 L2132.9,286.8 L2133.8,298.1 L2134.7,315.6 L2135.6,290.3 L2136.4,286.9 L2137.3,294.6 L2138.2,349.5 L2139.0,293.6 L2139.9,287.4 L2140.8,292.3 L2141.6,323.8 L2142.5,298.1 L2143.4,288.7 L2144.2,291.1 L2145.1,310.5 L2146.0,304.3 L2146.8,290.5 L2147.7,290.6 L2148.6,303.9 L2149.4,313.4 L2150.3,292.9 L2151.2,290.5 L2152.0,299.8 L2152.9,331.3 L2153.8,295.9 L2154.6,290.9 L2155.5,297.1 L2156.4,341.3 L2157.2,300.0 L2158.1,292.1 L2159.0,295.6 L2159.8,319.0 L2160.7,305.4 L2161.6,293.7 L2162.4,294.8 L2163.3,310.4 L2164.2,313.0 L2165.0,295.9 L2165.9,294.6 L2166.8,305.4 L2167.6,325.6 L2168.5,298.6 L2169.4,294.8 L2170.2,302.2 L2171.1,377.3 L2172.0,302.0 L2172.8,295.5 L2173.7,300.0 L2174.6,329.2 L2175.4,306.6 L2176.3,296.7 L2177.2,298.8 L2178.0,317.2 L2178.9,312.9 L2179.8,298.5 L2180.6,298.2 L2181.5,310.8 L2182.4,322.5 L2183.2,300.7 L2184.1,298.0 L2185.0,306.7 L2185.8,342.7 L2186.7,303.6 L2187.6,298.3 L2188.4,304.0 L2189.3,343.4 L2190.2,307.7 L2191.0,299.4 L2191.9,302.5 L2192.8,324.5 L2193.7,313.1 L2194.5,300.9 L2195.4,301.6 L2196.3,316.4 L2197.1,320.9 L2198.0,302.8 L2198.9,301.2 L2199.7,311.5 L2200.6,334.3 L2201.5,305.4 L2202.3,301.2 L2203.2,308.2 L2204.1,383.6 L2204.9,308.8 L2205.8,301.9 L2206.7,306.0 L2207.5,333.3 L2208.4,313.5 L2209.3,303.1 L2210.1,304.8 L2211.0,322.3 L2211.9,320.0 L2212.7,304.8 L2213.6,304.2 L2214.5,316.2 L2215.3,330.1 L2216.2,307.0 L2217.1,304.0 L2217.9,312.3 L2218.8,353.9 L2219.7,310.0 L2220.5,304.3 L2221.4,309.6 L2222.3,345.3 L2223.1,314.1 L2224.0,305.3 L2224.9,308.1 L2225.7,329.0 L2226.6,319.7 L2227.5,306.8 L2228.3,307.2 L2229.2,321.4 L2230.1,327.8 L2230.9,308.8 L2231.8,306.8 L2232.7,316.6 L2233.5,342.6 L2234.4,311.4 L2235.3,306.9 L2236.1,313.5 L2237.0,369.6 L2237.9,315.0 L2238.7,307.7 L2239.6,311.6 L2240.5,337.1 L2241.3,319.9 L2242.2,309.0 L2243.1,310.4 L2243.9,327.0 L2244.8,326.7 L2245.7,310.7 L2246.5,309.8 L2247.4,321.3 L2248.3,337.5 L2249.1,313.0 L2250.0,309.7 L2250.9,317.6 L2251.7,367.0 L2252.6,316.1 L2253.5,310.0 L2254.4,315.0 L2255.2,347.8 L2256.1,320.3 L2257.0,311.1 L2257.8,313.6 L2258.7,333.4 L2259.6,326.2 L2260.4,312.7 L2261.3,312.8 L2262.2,326.3 L2263.0,334.8 L2263.9,314.7 L2264.8,312.5 L2265.6,321.8 L2266.5,351.4 L2267.4,317.5 L2268.2,312.6 L2269.1,318.9 L2270.0,366.2 L2270.8,321.3 L2271.7,313.6 L2272.6,317.2 L2273.4,341.3 L2274.3,326.5 L2275.2,315.0 L2276.0,316.1 L2276.9,331.9 L2277.8,333.4 L2278.6,316.6 L2279.5,315.3 L2280.4,326.2 L2281.2,345.2 L2282.1,320.1 L2283.0,316.4 L2283.8,323.9 L2284.7,386.4 L2285.6,323.4 L2286.4,317.0 L2287.3,321.6 L2288.2,351.9" stroke="#ff0000" stroke-width="6"/>
<path d="M236.5,549.9 L237.4,384.2 L238.2,377.2 L239.1,381.3 L240.0,409.3 L240.8,387.8 L241.7,377.4 L242.6,379.0 L243.4,396.7 L244.3,393.2 L245.2,378.1 L246.0,377.4 L246.9,389.5 L247.8,402.1 L248.6,379.4 L249.5,376.3 L250.4,384.6 L251.2,423.1 L252.1,381.5 L253.0,375.8 L253.8,381.0 L254.7,418.2 L255.6,384.6 L256.4,375.7 L257.3,378.4 L258.2,399.7 L259.0,389.1 L259.9,376.2 L260.8,376.5 L261.6,390.8 L262.5,396.1 L263.4,377.3 L264.2,375.2 L265.1,385.0 L266.0,409.3 L266.9,379.0 L267.7,374.5 L268.6,381.0 L269.5,444.0 L270.3,381.6 L271.2,374.2 L272.1,378.0 L272.9,404.2 L273.8,385.4 L274.7,374.5 L275.5,375.8 L276.4,392.6 L277.3,391.1 L278.1,375.3 L279.0,374.2 L279.9,385.8 L280.7,400.7 L281.6,376.6 L282.5,373.1 L283.3,381.0 L284.2,426.0 L285.1,378.7 L285.9,372.5 L286.8,377.4 L287.7,411.3 L288.5,381.8 L289.4,372.4 L290.3,374.8 L291.1,394.9 L292.0,386.3 L292.9,372.8 L293.7,372.8 L294.6,386.4 L295.5,393.6 L296.3,373.8 L297.2,371.4 L298.1,380.7 L298.9,408.3 L299.8,375.5 L300.7,370.6 L301.5,376.7 L302.4,427.6 L303.3,378.1 L304.1,370.2 L305.0,373.7 L305.9,398.2 L306.7,381.9 L307.6,370.4 L308.5,371.4 L309.3,387.4 L310.2,387.8 L311.1,371.2 L311.9,369.9 L312.8,381.0 L313.7,398.3 L314.5,372.8 L315.4,369.1 L316.3,376.6 L317.1,431.3 L318.0,375.2 L318.9,368.7 L319.7,373.3 L320.6,404.6 L321.5,378.6 L322.3,368.9 L323.2,371.0 L324.1,390.1 L324.9,383.7 L325.8,369.6 L326.7,369.3 L327.6,382.4 L328.4,391.8 L329.3,370.9 L330.2,368.3 L331.0,377.2 L331.9,408.7 L332.8,373.2 L333.6,368.0 L334.5,374.0 L335.4,418.1 L336.2,376.5 L337.1,368.4 L338.0,371.7 L338.8,394.9 L339.7,381.2 L340.6,369.3 L341.4,370.1 L342.3,385.5 L343.2,388.0 L344.0,370.7 L344.9,369.2 L345.8,379.9 L346.6,399.9 L347.5,372.8 L348.4,368.8 L349.2,376.0 L350.1,451.1 L351.0,375.8 L351.8,369.2 L352.7,373.6 L353.6,402.9 L354.4,380.2 L355.3,370.2 L356.2,372.2 L357.0,390.6 L357.9,386.3 L358.8,371.8 L359.6,371.4 L360.5,384.1 L361.4,395.8 L362.2,374.0 L363.1,371.3 L364.0,380.1 L364.8,416.5 L365.7,377.7 L366.6,372.7 L367.4,379.0 L368.3,419.0 L369.2,383.7 L370.0,375.5 L370.9,379.0 L371.8,401.6 L372.6,390.8 L373.5,378.9 L374.4,379.8 L375.2,394.9 L376.1,400.1 L377.0,385.7 L377.8,387.7 L378.7,401.8 L379.6,428.6 L380.4,403.4 L381.3,402.8 L382.2,413.6 L383.0,492.6 L383.9,412.2 L384.8,399.2 L385.6,397.7 L386.5,419.5 L387.4,394.1 L388.3,377.8 L389.1,373.6 L390.0,385.5 L390.9,382.4 L391.7,366.0 L392.6,364.3 L393.5,375.5 L394.3,388.6 L395.2,364.5 L396.1,360.3 L396.9,367.7 L397.8,408.6 L398.7,363.7 L399.5,356.9 L400.4,361.2 L401.3,395.8 L402.1,363.4 L403.0,353.0 L403.9,354.5 L404.7,374.3 L405.6,363.9 L406.5,349.6 L407.3,348.5 L408.2,361.4 L409.1,366.6 L409.9,346.0 L410.8,342.5 L411.7,351.0 L412.5,375.7 L413.4,342.9 L414.3,336.7 L415.1,342.0 L416.0,396.9 L416.9,340.9 L417.7,331.8 L418.6,334.2 L419.5,358.6 L420.3,340.0 L421.2,327.3 L422.1,327.0 L422.9,342.2 L423.8,340.4 L424.7,322.5 L425.5,319.9 L426.4,329.8 L427.3,344.5 L428.1,318.2 L429.0,313.1 L429.9,319.5 L430.7,367.9 L431.6,315.5 L432.5,307.8 L433.3,311.4 L434.2,342.9 L435.1,314.3 L435.9,303.2 L436.8,304.2 L437.7,322.8 L438.5,314.1 L439.4,298.9 L440.3,297.3 L441.1,309.5 L442.0,316.8 L442.9,295.0 L443.7,291.1 L444.6,299.0 L445.5,327.1 L446.3,291.8 L447.2,285.4 L448.1,290.1 L449.0,336.2 L449.8,289.8 L450.7,280.3 L451.6,282.2 L452.4,304.8 L453.3,289.0 L454.2,276.9 L455.0,276.5 L455.9,290.6 L456.8,290.5 L457.6,272.1 L458.5,269.2 L459.4,278.6 L460.2,289.1 L461.1,266.8 L462.0,262.3 L462.8,243.8 L463.7,216.5 L464.6,194.0 L465.4,179.5 L466.3,170.4 L467.2,161.3 L468.0,154.7 L468.9,148.9 L469.8,143.1 L470.6,139.1 L471.5,136.5 L472.4,133.9 L473.2,131.5 L474.1,130.8 L475.0,130.8 L475.8,130.8 L476.7,130.8 L477.6,130.8 L478.4,130.8 L479.3,130.8 L480.2,130.8 L481.0,130.8 L481.9,130.8 L482.8,130.8 L483.6,130.8 L484.5,130.8 L485.4,130.8 L486.2,130.8 L487.1,130.8 L488.0,130.8 L488.8,130.8 L489.7,130.8 L490.6,130.8 L491.4,130.8 L492.3,130.8 L493.2,130.8 L494.0,130.8 L494.9,130.8 L495.8,130.8 L496.6,130.8 L497.5,130.8 L498.4,130.8 L499.2,130.8 L500.1,130.8 L501.0,130.8 L501.8,130.8 L502.7,130.8 L503.6,130.8 L504.4,130.8 L505.3,130.8 L506.2,130.8 L507.0,130.8 L507.9,130.8 L508.8,130.8 L509.7,130.8 L510.5,130.8 L511.4,130.8 L512.3,130.8 L513.1,130.8 L514.0,130.8 L514.9,130.8 L515.7,130.8 L516.6,130.8 L517.5,130.8 L518.3,130.8 L519.2,130.8 L520.1,130.8 L520.9,130.8 L521.8,130.8 L522.7,130.8 L523.5,130.8 L524.4,130.8 L525.3,130.8 L526.1,130.8 L527.0,130.8 L527.9,130.8 L528.7,130.8 L529.6,131.3 L530.5,133.4 L531.3,136.0 L532.2,138.6 L533.1,141.9 L533.9,147.7 L534.8,153.5 L535.7,159.5 L536.5,168.6 L537.4,177.7 L538.3,191.1 L539.1,210.9 L540.0,238.3 L540.9,268.5 L541.7,270.9 L542.6,269.5 L543.5,277.6 L544.3,323.2 L545.2,276.4 L546.1,270.6 L546.9,275.9 L547.8,310.2 L548.7,280.8 L549.5,271.3 L550.4,275.2 L551.3,297.0 L552.1,289.8 L553.0,277.7 L553.9,279.2 L554.7,294.4 L555.6,302.9 L556.5,284.4 L557.3,283.5 L558.2,294.4 L559.1,323.0 L559.9,291.3 L560.8,287.6 L561.7,295.5 L562.5,348.0 L563.4,299.7 L564.3,293.2 L565.1,298.4 L566.0,324.8 L566.9,310.1 L567.8,300.1 L568.6,302.6 L569.5,320.5 L570.4,322.2 L571.2,307.0 L572.1,307.3 L573.0,320.1 L573.8,338.8 L574.7,314.2 L575.6,311.4 L576.4,320.6 L577.3,376.6 L578.2,321.7 L579.0,316.4 L579.9,322.5 L580.8,355.4 L581.6,330.7 L582.5,322.2 L583.4,325.7 L584.2,346.3 L585.1,341.1 L586.0,328.2 L586.8,329.5 L587.7,344.2 L588.6,354.7 L589.4,335.2 L590.3,334.1 L591.2,344.7 L592.0,377.5 L592.9,343.3 L593.8,339.5 L594.6,347.0 L595.5,392.9 L596.4,353.0 L597.2,346.7 L598.1,352.1 L599.0,377.3 L599.8,364.9 L600.7,354.4 L601.6,356.7 L602.4,373.8 L603.3,377.6 L604.2,361.6 L605.0,361.8 L605.9,374.1 L606.8,395.5 L607.6,369.7 L608.5,367.0 L609.4,375.8 L610.2,451.8 L611.1,377.4 L612.0,371.8 L612.8,377.4 L613.7,407.8 L614.6,386.1 L615.4,377.1 L616.3,380.3 L617.2,399.9 L618.0,396.6 L618.9,383.1 L619.8,383.8 L620.6,396.4 L621.5,407.4 L622.4,384.9 L623.2,381.7 L624.1,389.9 L625.0,425.3 L625.8,385.5 L626.7,379.5 L627.6,384.8 L628.5,423.6 L629.3,386.9 L630.2,377.5 L631.1,379.9 L631.9,401.3 L632.8,388.9 L633.7,376.0 L634.5,376.6 L635.4,391.7 L636.3,396.1 L637.1,378.9 L638.0,378.5 L638.9,390.2 L639.7,414.3 L640.6,386.5 L641.5,383.5 L642.3,391.8 L643.2,471.0 L644.1,400.5 L644.9,397.6 L645.8,405.3 L646.7,435.7 L647.5,418.8 L648.4,411.2 L649.3,415.8 L650.1,436.2 L651.0,436.8 L651.9,418.4 L652.7,414.7 L653.6,423.6 L654.5,434.4 L655.3,408.2 L656.2,402.0 L657.1,406.1 L657.9,443.1 L658.8,394.4 L659.7,383.9 L660.5,386.7 L661.4,420.0 L662.3,386.3 L663.1,373.3 L664.0,372.8 L664.9,391.7 L665.7,380.2 L666.6,366.0 L667.5,365.4 L668.3,378.6 L669.2,384.1 L670.1,363.8 L670.9,360.6 L671.8,369.5 L672.7,394.9 L673.5,362.3 L674.4,356.4 L675.3,361.8 L676.1,417.0 L677.0,361.2 L677.9,352.4 L678.7,355.1 L679.6,379.9 L680.5,361.9 L681.3,349.6 L682.2,350.0 L683.1,365.8 L683.9,364.5 L684.8,347.4 L685.7,345.2 L686.5,355.8 L687.4,371.2 L688.3,345.5 L689.2,341.1 L690.0,348.0 L690.9,396.6 L691.8,344.8 L692.6,337.5 L693.5,341.6 L694.4,373.5 L695.2,345.0 L696.1,334.4 L697.0,335.7 L697.8,354.7 L698.7,346.5 L699.6,331.7 L700.4,330.8 L701.3,343.4 L702.2,351.1 L703.0,329.8 L703.9,326.0 L704.8,334.0 L705.6,362.3 L706.5,326.8 L707.4,320.4 L708.2,325.4 L709.1,371.6 L710.0,325.2 L710.8,315.8 L711.7,318.0 L712.6,340.9 L713.4,325.0 L714.3,311.7 L715.2,311.4 L716.0,326.1 L716.9,326.3 L717.8,307.7 L718.6,304.7 L719.5,314.4 L720.4,332.0 L721.2,304.3 L722.1,299.1 L723.0,305.3 L723.8,366.5 L724.7,302.1 L725.6,293.9 L726.4,297.2 L727.3,326.3 L728.2,300.7 L729.0,289.4 L729.9,290.2 L730.8,308.1 L731.6,301.9 L732.5,286.2 L733.4,284.8 L734.2,296.7 L735.1,306.4 L736.0,284.0 L736.8,279.9 L737.7,287.7 L738.6,320.4 L739.4,282.1 L740.3,275.7 L741.2,280.4 L742.0,321.0 L742.9,281.5 L743.8,271.9 L744.6,273.9 L745.5,296.4 L746.4,282.7 L747.2,269.8 L748.1,270.4 L749.0,285.3 L749.9,288.5 L750.7,270.6 L751.6,268.7 L752.5,278.8 L753.3,293.3 L754.2,269.0 L755.1,266.0 L755.9,247.1 L756.8,219.9 L757.7,195.8 L758.5,181.1 L759.4,171.5 L760.3,162.4 L761.1,155.4 L762.0,149.6 L762.9,143.8 L763.7,139.4 L764.6,136.8 L765.5,134.2 L766.3,131.7 L767.2,130.8 L768.1,130.8 L768.9,130.8 L769.8,130.8 L770.7,130.8 L771.5,130.8 L772.4,130.8 L773.3,130.8 L774.1,130.8 L775.0,130.8 L775.9,130.8 L776.7,130.8 L777.6,130.8 L778.5,130.8 L779.3,130.8 L780.2,130.8 L781.1,130.8 L781.9,130.8 L782.8,130.8 L783.7,130.8 L784.5,130.8 L785.4,130.8 L786.3,130.8 L787.1,130.8 L788.0,130.8 L788.9,130.8 L789.7,130.8 L790.6,130.8 L791.5,130.8 L792.3,130.8 L793.2,130.8 L794.1,130.8 L794.9,130.8 L795.8,130.8 L796.7,130.8 L797.5,130.8 L798.4,130.8 L799.3,130.8 L800.1,130.8 L801.0,130.8 L801.9,130.8 L802.7,130.8 L803.6,130.8 L804.5,130.8 L805.3,130.8 L806.2,130.8 L807.1,130.8 L807.9,130.8 L808.8,130.8 L809.7,130.8 L810.6,130.8 L811.4,130.8 L812.3,130.8 L813.2,130.8 L814.0,130.8 L814.9,130.8 L815.8,130.8 L816.6,130.8 L817.5,130.8 L818.4,130.8 L819.2,130.8 L820.1,130.8 L821.0,130.8 L821.8,130.8 L822.7,130.8 L823.6,130.8 L824.4,130.8 L825.3,130.8 L826.2,130.8 L827.0,130.8 L827.9,130.8 L828.8,130.8 L829.6,130.8 L830.5,130.8 L831.4,130.8 L832.2,130.8 L833.1,130.8 L834.0,130.8 L834.8,130.8 L835.7,130.8 L836.6,130.8 L837.4,130.8 L838.3,130.8 L839.2,130.8 L840.0,130.8 L840.9,130.8 L841.8,130.8 L842.6,130.8 L843.5,130.8 L844.4,130.8 L845.2,130.8 L846.1,130.8 L847.0,130.8 L847.8,130.8 L848.7,130.8 L849.6,130.8 L850.4,130.8 L851.3,130.8 L852.2,130.8 L853.0,130.8 L853.9,130.8 L854.8,130.8 L855.6,130.8 L856.5,130.8 L857.4,130.8 L858.2,130.8 L859.1,130.8 L860.0,130.8 L860.8,130.8 L861.7,130.8 L862.6,130.8 L863.4,130.8 L864.3,130.8 L865.2,130.8 L866.0,130.8 L866.9,130.8 L867.8,130.8 L868.6,130.8 L869.5,130.8 L870.4,130.8 L871.3,130.8 L872.1,130.8 L873.0,130.8 L873.9,130.8 L874.7,130.8 L875.6,130.8 L876.5,130.8 L877.3,130.8 L878.2,130.8 L879.1,130.8 L879.9,130.8 L880.8,130.8 L881.7,130.9 L882.5,132.7 L883.4,135.3 L884.3,137.8 L885.1,140.4 L886.0,146.1 L886.9,151.9 L887.7,157.7 L888.6,166.1 L889.5,175.2 L890.3,187.0 L891.2,203.1 L892.1,230.9 L892.9,257.6 L893.8,267.7 L894.7,268.5 L895.5,282.2 L896.4,288.3 L897.3,270.2 L898.1,268.4 L899.0,278.7 L899.9,301.6 L900.7,272.5 L901.6,269.2 L902.5,277.4 L903.3,353.9 L904.2,279.6 L905.1,273.5 L905.9,278.8 L906.8,307.4 L907.7,288.5 L908.5,279.1 L909.4,282.2 L910.3,301.0 L911.1,299.8 L912.0,285.6 L912.9,286.2 L913.7,299.8 L914.6,315.0 L915.5,292.9 L916.3,291.1 L917.2,301.0 L918.1,344.0 L918.9,301.0 L919.8,296.4 L920.7,303.3 L921.5,340.2 L922.4,309.8 L923.3,301.7 L924.1,305.3 L925.0,327.5 L925.9,319.0 L926.7,306.8 L927.6,308.3 L928.5,323.6 L929.4,331.0 L930.2,312.7 L931.1,311.6 L932.0,322.5 L932.8,349.3 L933.7,318.9 L934.6,314.9 L935.4,322.2 L936.3,378.9 L937.2,324.7 L938.0,317.8 L938.9,322.3 L939.8,348.6 L940.6,331.9 L941.5,321.4 L942.4,323.4 L943.2,340.8 L944.1,340.8 L945.0,325.2 L945.8,324.9 L946.7,337.3 L947.6,354.3 L948.4,330.5 L949.3,328.0 L950.2,337.0 L951.0,387.4 L951.9,337.2 L952.8,332.0 L953.6,338.0 L954.5,371.7 L955.4,345.0 L956.2,336.5 L957.1,340.0 L958.0,360.9 L958.8,354.4 L959.7,341.6 L960.6,342.6 L961.4,357.1 L962.3,366.4 L963.2,346.9 L964.0,345.3 L964.9,355.8 L965.8,386.0 L966.6,352.7 L967.5,348.6 L968.4,355.7 L969.2,403.8 L970.1,359.4 L971.0,352.4 L971.8,356.8 L972.7,381.6 L973.6,367.4 L974.4,356.5 L975.3,358.4 L976.2,375.1 L977.0,377.2 L977.9,361.0 L978.8,360.5 L979.6,372.3 L980.5,391.8 L981.4,366.2 L982.2,363.1 L983.1,371.5 L984.0,434.6 L984.8,375.1 L985.7,372.3 L986.6,380.8 L987.4,414.9 L988.3,393.8 L989.2,386.0 L990.1,390.3 L990.9,411.5 L991.8,417.9 L992.7,435.8 L993.5,468.1 L994.4,483.8 L995.3,459.6 L996.1,403.5 L997.0,383.6 L997.9,388.7 L998.7,421.6 L999.6,384.1 L1000.5,378.8 L1001.3,384.6 L1002.2,426.1 L1003.1,392.4 L1003.9,390.5 L1004.8,396.9 L1005.7,419.1 L1006.5,406.1 L1007.4,393.6 L1008.3,393.9 L1009.1,409.9 L1010.0,422.0 L1010.9,409.7 L1011.7,404.5 L1012.6,405.9 L1013.5,406.0 L1014.3,375.1 L1015.2,368.2 L1016.1,372.5 L1016.9,535.4 L1017.8,365.4 L1018.7,355.0 L1019.5,356.6 L1020.4,384.0 L1021.3,361.8 L1022.1,350.4 L1023.0,351.3 L1023.9,368.4 L1024.7,364.1 L1025.6,348.0 L1026.5,346.5 L1027.3,358.1 L1028.2,370.1 L1029.1,346.4 L1029.9,342.2 L1030.8,349.6 L1031.7,387.4 L1032.5,344.9 L1033.4,338.1 L1034.3,342.5 L1035.1,379.0 L1036.0,344.8 L1036.9,334.8 L1037.7,336.7 L1038.6,357.4 L1039.5,346.2 L1040.3,332.5 L1041.2,331.9 L1042.1,345.6 L1042.9,350.4 L1043.8,330.7 L1044.7,327.8 L1045.5,337.0 L1046.4,360.6 L1047.3,329.5 L1048.1,324.0 L1049.0,329.9 L1049.9,392.4 L1050.8,329.4 L1051.6,320.7 L1052.5,323.5 L1053.4,348.9 L1054.2,329.3 L1055.1,317.1 L1056.0,317.4 L1056.8,333.4 L1057.7,331.0 L1058.6,314.1 L1059.4,312.0 L1060.3,322.7 L1061.2,336.7 L1062.0,311.6 L1062.9,307.0 L1063.8,314.1 L1064.6,358.5 L1065.5,310.4 L1066.4,303.3 L1067.2,307.3 L1068.1,340.6 L1069.0,310.4 L1069.8,299.9 L1070.7,301.4 L1071.6,320.9 L1072.4,311.6 L1073.3,297.1 L1074.2,296.0 L1075.0,308.9 L1075.9,315.5 L1076.8,294.6 L1077.6,291.2 L1078.5,299.7 L1079.4,326.3 L1080.2,292.4 L1081.1,286.2 L1082.0,291.5 L1082.8,341.7 L1083.7,291.3 L1084.6,282.3 L1085.4,284.8 L1086.3,308.7 L1087.2,291.8 L1088.0,279.2 L1088.9,278.9 L1089.8,293.6 L1090.6,292.8 L1091.5,274.9 L1092.4,272.0 L1093.2,281.7 L1094.1,297.8 L1095.0,270.9 L1095.8,266.2 L1096.7,274.1 L1097.6,328.5 L1098.4,271.5 L1099.3,264.1 L1100.2,268.0 L1101.0,299.5 L1101.9,274.2 L1102.8,265.1 L1103.6,267.9 L1104.5,287.1 L1105.4,278.2 L1106.2,265.0 L1107.1,264.0 L1108.0,254.8 L1108.8,227.5 L1109.7,199.7 L1110.6,185.1 L1111.5,174.0 L1112.3,164.9 L1113.2,156.9 L1114.1,151.1 L1114.9,145.3 L1115.8,140.0 L1116.7,137.4 L1117.5,134.8 L1118.4,132.3 L1119.3,130.8 L1120.1,130.8 L1121.0,130.8 L1121.9,130.8 L1122.7,130.8 L1123.6,130.8 L1124.5,130.8 L1125.3,130.8 L1126.2,130.8 L1127.1,130.8 L1127.9,130.8 L1128.8,130.8 L1129.7,130.8 L1130.5,130.8 L1131.4,130.8 L1132.3,130.8 L1133.1,130.8 L1134.0,130.8 L1134.9,130.8 L1135.7,130.8 L1136.6,130.8 L1137.5,130.8 L1138.3,130.8 L1139.2,130.8 L1140.1,130.8 L1140.9,130.8 L1141.8,130.8 L1142.7,130.8 L1143.5,130.8 L1144.4,130.8 L1145.3,130.8 L1146.1,130.8 L1147.0,130.8 L1147.9,130.8 L1148.7,130.8 L1149.6,130.8 L1150.5,130.8 L1151.3,130.8 L1152.2,130.8 L1153.1,130.8 L1153.9,130.8 L1154.8,130.8 L1155.7,130.8 L1156.5,130.8 L1157.4,130.8 L1158.3,130.8 L1159.1,130.8 L1160.0,130.8 L1160.9,130.8 L1161.7,130.8 L1162.6,130.8 L1163.5,130.8 L1164.3,130.8 L1165.2,130.8 L1166.1,130.8 L1166.9,130.8 L1167.8,130.8 L1168.7,130.8 L1169.5,130.8 L1170.4,130.8 L1171.3,130.8 L1172.2,130.8 L1173.0,130.8 L1173.9,130.8 L1174.8,130.8 L1175.6,130.8 L1176.5,130.8 L1177.4,130.8 L1178.2,130.8 L1179.1,130.8 L1180.0,130.8 L1180.8,130.8 L1181.7,130.8 L1182.6,130.8 L1183.4,130.8 L1184.3,130.8 L1185.2,130.8 L1186.0,130.8 L1186.9,130.8 L1187.8,130.8 L1188.6,130.8 L1189.5,130.8 L1190.4,130.8 L1191.2,130.8 L1192.1,130.8 L1193.0,130.8 L1193.8,130.8 L1194.7,130.8 L1195.6,130.8 L1196.4,130.8 L1197.3,130.8 L1198.2,130.8 L1199.0,130.8 L1199.9,130.8 L1200.8,130.8 L1201.6,130.8 L1202.5,130.8 L1203.4,130.8 L1204.2,130.8 L1205.1,130.8 L1206.0,130.8 L1206.8,130.8 L1207.7,130.8 L1208.6,130.8 L1209.4,130.8 L1210.3,130.8 L1211.2,130.8 L1212.0,130.8 L1212.9,130.8 L1213.8,130.8 L1214.6,130.8 L1215.5,130.8 L1216.4,130.8 L1217.2,130.8 L1218.1,130.8 L1219.0,130.8 L1219.8,130.8 L1220.7,130.8 L1221.6,130.8 L1222.4,130.8 L1223.3,130.8 L1224.2,130.8 L1225.0,130.8 L1225.9,130.8 L1226.8,130.8 L1227.6,130.8 L1228.5,130.8 L1229.4,130.8 L1230.3,130.8 L1231.1,130.8 L1232.0,130.8 L1232.9,130.8 L1233.7,130.8 L1234.6,130.8 L1235.5,130.8 L1236.3,130.8 L1237.2,130.8 L1238.1,130.8 L1238.9,130.8 L1239.8,130.8 L1240.7,130.8 L1241.5,130.8 L1242.4,130.8 L1243.3,130.8 L1244.1,130.8 L1245.0,130.8 L1245.9,130.8 L1246.7,130.8 L1247.6,130.8 L1248.5,130.8 L1249.3,130.8 L1250.2,130.8 L1251.1,130.8 L1251.9,130.8 L1252.8,130.8 L1253.7,130.8 L1254.5,130.8 L1255.4,130.8 L1256.3,130.8 L1257.1,130.8 L1258.0,130.8 L1258.9,130.8 L1259.7,130.8 L1260.6,130.8 L1261.5,130.8 L1262.3,130.8 L1263.2,130.8 L1264.1,130.8 L1264.9,130.8 L1265.8,130.8 L1266.7,130.8 L1267.5,130.8 L1268.4,130.8 L1269.3,130.8 L1270.1,130.8 L1271.0,130.8 L1271.9,130.8 L1272.7,130.8 L1273.6,130.8 L1274.5,130.8 L1275.3,130.8 L1276.2,130.8 L1277.1,130.8 L1277.9,130.8 L1278.8,130.8 L1279.7,130.8 L1280.5,130.8 L1281.4,130.8 L1282.3,130.8 L1283.1,130.8 L1284.0,130.8 L1284.9,130.8 L1285.7,130.8 L1286.6,130.8 L1287.5,130.8 L1288.3,130.8 L1289.2,130.8 L1290.1,130.8 L1291.0,130.8 L1291.8,130.8 L1292.7,130.8 L1293.6,130.8 L1294.4,130.8 L1295.3,130.8 L1296.2,130.8 L1297.0,130.8 L1297.9,130.8 L1298.8,130.8 L1299.6,130.8 L1300.5,130.8 L1301.4,130.8 L1302.2,130.8 L1303.1,130.8 L1304.0,130.8 L1304.8,130.8 L1305.7,130.8 L1306.6,130.8 L1307.4,130.8 L1308.3,130.8 L1309.2,130.8 L1310.0,130.8 L1310.9,130.8 L1311.8,130.8 L1312.6,130.8 L1313.5,130.8 L1314.4,130.8 L1315.2,130.8 L1316.1,130.8 L1317.0,130.8 L1317.8,130.8 L1318.7,130.8 L1319.6,130.8 L1320.4,130.8 L1321.3,130.8 L1322.2,130.8 L1323.0,130.8 L1323.9,130.8 L1324.8,130.8 L1325.6,130.8 L1326.5,130.8 L1327.4,130.8 L1328.2,130.8 L1329.1,130.8 L1330.0,130.8 L1330.8,130.8 L1331.7,130.8 L1332.6,130.8 L1333.4,130.8 L1334.3,130.8 L1335.2,130.8 L1336.0,130.8 L1336.9,130.8 L1337.8,130.8 L1338.6,130.8 L1339.5,130.8 L1340.4,130.8 L1341.2,130.8 L1342.1,130.8 L1343.0,130.8 L1343.8,130.8 L1344.7,130.8 L1345.6,130.8 L1346.4,130.8 L1347.3,130.8 L1348.2,130.8 L1349.0,130.8 L1349.9,130.8 L1350.8,131.2 L1351.7,131.5 L1352.5,134.0 L1353.4,136.6 L1354.3,139.9 L1355.1,145.7 L1356.0,151.5 L1356.9,157.4 L1357.7,166.5 L1358.6,175.6 L1359.5,188.9 L1360.3,208.5 L1361.2,236.4 L1362.1,261.3 L1362.9,263.4 L1363.8,265.5 L1364.7,285.0 L1365.5,279.8 L1366.4,266.2 L1367.3,265.9 L1368.1,278.8 L1369.0,288.1 L1369.9,267.1 L1370.7,265.8 L1371.6,276.1 L1372.5,308.7 L1373.3,274.4 L1374.2,269.7 L1375.1,276.5 L1375.9,321.7 L1376.8,281.1 L1377.7,274.1 L1378.5,278.7 L1379.4,303.3 L1380.3,290.7 L1381.1,280.0 L1382.0,282.0 L1382.9,298.5 L1383.7,301.9 L1384.6,285.5 L1385.5,285.0 L1386.3,297.0 L1387.2,317.9 L1388.1,291.6 L1388.9,288.6 L1389.8,297.0 L1390.7,373.1 L1391.5,298.5 L1392.4,292.6 L1393.3,298.2 L1394.1,328.4 L1395.0,306.5 L1395.9,297.2 L1396.7,300.1 L1397.6,319.5 L1398.5,315.9 L1399.3,302.0 L1400.2,302.7 L1401.1,316.4 L1401.9,328.9 L1402.8,307.8 L1403.7,305.8 L1404.5,315.6 L1405.4,352.3 L1406.3,313.8 L1407.1,309.0 L1408.0,315.3 L1408.9,355.3 L1409.7,320.1 L1410.6,312.2 L1411.5,315.9 L1412.4,338.7 L1413.2,327.8 L1414.1,315.9 L1415.0,317.2 L1415.8,332.7 L1416.7,337.6 L1417.6,319.9 L1418.4,318.8 L1419.3,329.9 L1420.2,353.5 L1421.0,325.2 L1421.9,321.9 L1422.8,329.8 L1423.6,406.2 L1424.5,331.9 L1425.4,325.6 L1426.2,330.8 L1427.1,358.9 L1428.0,339.9 L1428.8,330.1 L1429.7,332.6 L1430.6,351.0 L1431.4,349.5 L1432.3,334.9 L1433.2,335.3 L1434.0,348.3 L1434.9,363.1 L1435.8,341.2 L1436.6,340.3 L1437.5,349.5 L1438.4,392.2 L1439.2,349.2 L1440.1,344.5 L1441.0,351.3 L1441.8,386.1 L1442.7,352.1 L1443.6,345.5 L1444.4,361.7 L1445.3,382.9 L1446.2,373.5 L1447.0,360.5 L1447.9,360.9 L1448.8,375.1 L1449.6,381.6 L1450.5,362.6 L1451.4,360.6 L1452.2,370.4 L1453.1,396.5 L1454.0,365.1 L1454.8,360.4 L1455.7,366.7 L1456.6,422.7 L1457.4,367.3 L1458.3,358.9 L1459.2,361.9 L1460.0,386.7 L1460.9,368.7 L1461.8,356.9 L1462.6,357.4 L1463.5,373.2 L1464.4,372.1 L1465.2,355.2 L1466.1,353.3 L1467.0,363.9 L1467.8,379.4 L1468.7,354.1 L1469.6,349.7 L1470.4,356.7 L1471.3,405.3 L1472.2,353.6 L1473.1,346.7 L1473.9,350.8 L1474.8,382.7 L1475.7,354.5 L1476.5,344.3 L1477.4,345.9 L1478.3,364.9 L1479.1,356.9 L1480.0,342.5 L1480.9,341.7 L1481.7,354.3 L1482.6,362.1 L1483.5,341.2 L1484.3,337.9 L1485.2,346.2 L1486.1,374.8 L1486.9,339.9 L1487.8,334.0 L1488.7,339.1 L1489.5,385.7 L1490.4,340.1 L1491.3,331.6 L1492.1,334.3 L1493.0,357.7 L1493.9,342.3 L1494.7,330.0 L1495.6,330.3 L1496.5,345.5 L1497.3,346.5 L1498.2,328.9 L1499.1,326.9 L1499.9,337.2 L1500.8,355.3 L1501.7,328.5 L1502.5,323.9 L1503.4,330.7 L1504.3,392.5 L1505.1,328.8 L1506.0,321.4 L1506.9,325.1 L1507.7,354.7 L1508.6,329.8 L1509.5,319.1 L1510.3,320.4 L1511.2,338.3 L1512.1,332.3 L1512.9,317.2 L1513.8,315.9 L1514.7,327.9 L1515.5,337.7 L1516.4,315.5 L1517.3,311.8 L1518.1,319.8 L1519.0,352.6 L1519.9,314.5 L1520.7,308.3 L1521.6,313.2 L1522.5,354.2 L1523.3,315.0 L1524.2,305.7 L1525.1,307.9 L1525.9,329.7 L1526.8,316.2 L1527.7,303.1 L1528.5,302.9 L1529.4,317.1 L1530.3,319.7 L1531.1,301.0 L1532.0,298.4 L1532.9,308.0 L1533.8,328.5 L1534.6,299.6 L1535.5,294.4 L1536.4,300.6 L1537.2,465.6 L1538.1,299.2 L1539.0,291.2 L1539.8,294.4 L1540.7,321.8 L1541.6,299.7 L1542.4,288.2 L1543.3,289.0 L1544.2,305.9 L1545.0,301.7 L1545.9,285.6 L1546.8,283.8 L1547.6,295.1 L1548.5,306.9 L1549.4,283.1 L1550.2,278.9 L1551.1,286.4 L1552.0,324.1 L1552.8,281.8 L1553.7,275.1 L1554.6,279.5 L1555.4,315.9 L1556.3,281.5 L1557.2,271.6 L1558.0,273.7 L1558.9,294.5 L1559.8,283.0 L1560.6,269.3 L1561.5,268.8 L1562.4,282.3 L1563.2,286.9 L1564.1,267.4 L1565.0,264.6 L1565.8,273.8 L1566.7,297.5 L1567.6,267.2 L1568.4,262.5 L1569.3,268.9 L1570.2,326.9 L1571.0,267.1 L1571.9,261.8 L1572.8,255.4 L1573.6,233.8 L1574.5,206.3 L1575.4,188.7 L1576.2,176.2 L1577.1,167.1 L1578.0,158.4 L1578.8,152.6 L1579.7,146.8 L1580.6,141.0 L1581.4,138.1 L1582.3,135.5 L1583.2,133.0 L1584.0,131.0 L1584.9,130.8 L1585.8,130.8 L1586.6,130.8 L1587.5,130.8 L1588.4,130.8 L1589.2,130.8 L1590.1,130.8 L1591.0,130.8 L1591.9,130.8 L1592.7,130.8 L1593.6,130.8 L1594.5,130.8 L1595.3,130.8 L1596.2,130.8 L1597.1,130.8 L1597.9,130.8 L1598.8,130.8 L1599.7,130.8 L1600.5,130.8 L1601.4,130.8 L1602.3,130.8 L1603.1,130.8 L1604.0,130.8 L1604.9,130.8 L1605.7,130.8 L1606.6,130.8 L1607.5,130.8 L1608.3,130.8 L1609.2,130.8 L1610.1,130.8 L1610.9,130.8 L1611.8,130.8 L1612.7,130.8 L1613.5,130.8 L1614.4,130.8 L1615.3,130.8 L1616.1,130.8 L1617.0,130.8 L1617.9,130.8 L1618.7,130.8 L1619.6,130.8 L1620.5,130.8 L1621.3,130.8 L1622.2,130.8 L1623.1,130.8 L1623.9,130.8 L1624.8,130.8 L1625.7,130.8 L1626.5,130.8 L1627.4,130.8 L1628.3,130.8 L1629.1,130.8 L1630.0,130.8 L1630.9,130.8 L1631.7,130.8 L1632.6,130.8 L1633.5,130.8 L1634.3,130.8 L1635.2,130.8 L1636.1,130.8 L1636.9,130.8 L1637.8,130.8 L1638.7,130.8 L1639.5,130.8 L1640.4,130.8 L1641.3,130.8 L1642.1,130.8 L1643.0,130.8 L1643.9,130.8 L1644.7,130.8 L1645.6,130.8 L1646.5,130.8 L1647.3,130.8 L1648.2,130.8 L1649.1,130.8 L1649.9,130.8 L1650.8,130.8 L1651.7,130.8 L1652.6,130.8 L1653.4,130.8 L1654.3,130.8 L1655.2,130.8 L1656.0,130.8 L1656.9,130.8 L1657.8,130.8 L1658.6,130.8 L1659.5,130.8 L1660.4,130.8 L1661.2,130.8 L1662.1,130.8 L1663.0,130.8 L1663.8,130.8 L1664.7,130.8 L1665.6,130.8 L1666.4,130.8 L1667.3,130.8 L1668.2,130.8 L1669.0,130.8 L1669.9,130.8 L1670.8,130.8 L1671.6,130.8 L1672.5,130.8 L1673.4,130.8 L1674.2,130.8 L1675.1,130.8 L1676.0,130.8 L1676.8,130.8 L1677.7,130.8 L1678.6,130.8 L1679.4,130.8 L1680.3,130.8 L1681.2,130.8 L1682.0,130.8 L1682.9,130.8 L1683.8,130.8 L1684.6,130.8 L1685.5,130.8 L1686.4,130.8 L1687.2,130.8 L1688.1,130.8 L1689.0,130.8 L1689.8,130.8 L1690.7,130.8 L1691.6,130.8 L1692.4,130.8 L1693.3,130.8 L1694.2,130.8 L1695.0,130.8 L1695.9,130.8 L1696.8,130.8 L1697.6,130.8 L1698.5,130.8 L1699.4,130.8 L1700.2,130.8 L1701.1,130.8 L1702.0,130.8 L1702.8,130.8 L1703.7,130.8 L1704.6,130.8 L1705.4,130.8 L1706.3,130.8 L1707.2,130.8 L1708.0,130.8 L1708.9,130.8 L1709.8,130.8 L1710.6,130.8 L1711.5,130.8 L1712.4,130.8 L1713.3,130.8 L1714.1,130.8 L1715.0,130.8 L1715.9,130.8 L1716.7,130.8 L1717.6,130.8 L1718.5,130.8 L1719.3,130.8 L1720.2,130.8 L1721.1,130.8 L1721.9,130.8 L1722.8,130.8 L1723.7,130.8 L1724.5,130.8 L1725.4,130.8 L1726.3,130.8 L1727.1,130.8 L1728.0,130.8 L1728.9,130.8 L1729.7,130.8 L1730.6,130.8 L1731.5,130.8 L1732.3,130.8 L1733.2,130.8 L1734.1,130.8 L1734.9,130.8 L1735.8,130.8 L1736.7,130.8 L1737.5,130.8 L1738.4,130.8 L1739.3,130.8 L1740.1,130.8 L1741.0,130.8 L1741.9,130.8 L1742.7,130.8 L1743.6,130.8 L1744.5,130.8 L1745.3,130.8 L1746.2,130.8 L1747.1,130.8 L1747.9,130.8 L1748.8,130.8 L1749.7,130.8 L1750.5,130.8 L1751.4,130.8 L1752.3,130.8 L1753.1,130.8 L1754.0,130.8 L1754.9,130.8 L1755.7,130.8 L1756.6,130.8 L1757.5,130.8 L1758.3,130.8 L1759.2,130.8 L1760.1,130.8 L1760.9,130.8 L1761.8,130.8 L1762.7,130.8 L1763.5,130.8 L1764.4,130.8 L1765.3,130.8 L1766.1,130.8 L1767.0,130.8 L1767.9,130.8 L1768.7,130.8 L1769.6,130.8 L1770.5,130.8 L1771.3,130.8 L1772.2,130.8 L1773.1,130.8 L1774.0,130.8 L1774.8,130.8 L1775.7,130.8 L1776.6,130.8 L1777.4,130.8 L1778.3,130.8 L1779.2,130.8 L1780.0,130.8 L1780.9,130.8 L1781.8,130.8 L1782.6,130.8 L1783.5,130.8 L1784.4,130.8 L1785.2,130.8 L1786.1,130.8 L1787.0,130.8 L1787.8,130.8 L1788.7,130.8 L1789.6,130.8 L1790.4,130.8 L1791.3,130.8 L1792.2,130.8 L1793.0,130.8 L1793.9,130.8 L1794.8,130.8 L1795.6,130.8 L1796.5,130.8 L1797.4,130.8 L1798.2,130.8 L1799.1,130.8 L1800.0,130.8 L1800.8,130.8 L1801.7,130.8 L1802.6,130.8 L1803.4,130.8 L1804.3,130.8 L1805.2,130.8 L1806.0,130.8 L1806.9,130.8 L1807.8,130.8 L1808.6,130.8 L1809.5,130.8 L1810.4,130.8 L1811.2,130.8 L1812.1,130.8 L1813.0,130.8 L1813.8,130.8 L1814.7,130.8 L1815.6,130.8 L1816.4,130.8 L1817.3,130.8 L1818.2,130.8 L1819.0,130.8 L1819.9,130.8 L1820.8,130.8 L1821.6,130.8 L1822.5,130.8 L1823.4,130.8 L1824.2,130.8 L1825.1,130.8 L1826.0,130.8 L1826.8,130.8 L1827.7,130.8 L1828.6,130.8 L1829.4,130.8 L1830.3,130.8 L1831.2,130.8 L1832.0,130.8 L1832.9,130.8 L1833.8,130.8 L1834.7,130.8 L1835.5,130.8 L1836.4,130.8 L1837.3,130.8 L1838.1,130.8 L1839.0,130.8 L1839.9,130.8 L1840.7,130.8 L1841.6,130.8 L1842.5,130.8 L1843.3,130.8 L1844.2,130.8 L1845.1,130.8 L1845.9,130.8 L1846.8,130.8 L1847.7,130.8 L1848.5,130.8 L1849.4,130.8 L1850.3,130.8 L1851.1,130.8 L1852.0,130.8 L1852.9,130.8 L1853.7,130.8 L1854.6,130.8 L1855.5,130.8 L1856.3,130.8 L1857.2,130.8 L1858.1,130.8 L1858.9,130.8 L1859.8,130.8 L1860.7,130.8 L1861.5,130.8 L1862.4,130.8 L1863.3,130.8 L1864.1,130.8 L1865.0,130.8 L1865.9,130.8 L1866.7,130.8 L1867.6,130.8 L1868.5,130.8 L1869.3,130.8 L1870.2,130.8 L1871.1,130.8 L1871.9,130.8 L1872.8,130.8 L1873.7,130.8 L1874.5,130.8 L1875.4,130.8 L1876.3,130.8 L1877.1,130.8 L1878.0,130.8 L1878.9,130.8 L1879.7,130.8 L1880.6,130.8 L1881.5,130.8 L1882.3,130.8 L1883.2,130.8 L1884.1,130.8 L1884.9,130.8 L1885.8,130.8 L1886.7,130.8 L1887.5,130.8 L1888.4,130.8 L1889.3,130.8 L1890.1,130.8 L1891.0,130.8 L1891.9,130.8 L1892.8,130.8 L1893.6,130.8 L1894.5,130.8 L1895.4,130.8 L1896.2,130.8 L1897.1,130.8 L1898.0,130.8 L1898.8,130.8 L1899.7,130.8 L1900.6,130.8 L1901.4,130.8 L1902.3,130.8 L1903.2,130.8 L1904.0,130.8 L1904.9,130.8 L1905.8,130.8 L1906.6,130.8 L1907.5,130.8 L1908.4,130.8 L1909.2,130.8 L1910.1,130.8 L1911.0,130.8 L1911.8,130.8 L1912.7,130.8 L1913.6,130.8 L1914.4,130.8 L1915.3,130.8 L1916.2,130.8 L1917.0,130.8 L1917.9,130.8 L1918.8,130.8 L1919.6,130.8 L1920.5,130.8 L1921.4,130.8 L1922.2,130.8 L1923.1,130.8 L1924.0,130.8 L1924.8,130.8 L1925.7,130.8 L1926.6,130.8 L1927.4,130.8 L1928.3,130.8 L1929.2,130.8 L1930.0,130.8 L1930.9,130.8 L1931.8,130.8 L1932.6,130.8 L1933.5,130.8 L1934.4,130.8 L1935.2,130.8 L1936.1,130.8 L1937.0,130.8 L1937.8,130.8 L1938.7,130.8 L1939.6,130.8 L1940.4,130.8 L1941.3,130.8 L1942.2,130.8 L1943.0,130.8 L1943.9,130.8 L1944.8,130.8 L1945.6,130.8 L1946.5,130.8 L1947.4,130.8 L1948.2,130.8 L1949.1,130.8 L1950.0,130.8 L1950.8,130.8 L1951.7,130.8 L1952.6,130.8 L1953.5,130.8 L1954.3,130.8 L1955.2,130.8 L1956.1,130.8 L1956.9,130.8 L1957.8,130.8 L1958.7,130.8 L1959.5,130.8 L1960.4,130.8 L1961.3,130.8 L1962.1,130.8 L1963.0,130.8 L1963.9,130.8 L1964.7,130.8 L1965.6,130.8 L1966.5,130.8 L1967.3,130.8 L1968.2,130.8 L1969.1,130.8 L1969.9,130.8 L1970.8,130.8 L1971.7,130.8 L1972.5,130.8 L1973.4,130.8 L1974.3,130.8 L1975.1,130.8 L1976.0,130.8 L1976.9,130.8 L1977.7,130.8 L1978.6,130.8 L1979.5,130.8 L1980.3,130.8 L1981.2,130.8 L1982.1,130.8 L1982.9,130.8 L1983.8,130.8 L1984.7,130.8 L1985.5,130.8 L1986.4,130.8 L1987.3,130.8 L1988.1,130.8 L1989.0,130.8 L1989.9,130.8 L1990.7,130.8 L1991.6,130.8 L1992.5,130.8 L1993.3,130.8 L1994.2,130.8 L1995.1,130.8 L1995.9,130.8 L1996.8,130.8 L1997.7,130.8 L1998.5,130.8 L1999.4,130.8 L2000.3,130.8 L2001.1,130.8 L2002.0,130.8 L2002.9,130.8 L2003.7,130.8 L2004.6,130.8 L2005.5,130.8 L2006.3,130.8 L2007.2,130.8 L2008.1,130.8 L2008.9,130.8 L2009.8,130.8 L2010.7,130.8 L2011.5,130.8 L2012.4,130.8 L2013.3,130.8 L2014.2,130.8 L2015.0,130.8 L2015.9,130.8 L2016.8,130.8 L2017.6,130.8 L2018.5,130.8 L2019.4,130.8 L2020.2,130.8 L2021.1,130.8 L2022.0,130.8 L2022.8,130.8 L2023.7,130.8 L2024.6,130.8 L2025.4,130.8 L2026.3,130.8 L2027.2,130.8 L2028.0,130.8 L2028.9,130.8 L2029.8,130.8 L2030.6,130.8 L2031.5,130.8 L2032.4,130.8 L2033.2,130.8 L2034.1,130.8 L2035.0,130.8 L2035.8,130.8 L2036.7,130.8 L2037.6,130.8 L2038.4,130.8 L2039.3,130.8 L2040.2,130.8 L2041.0,130.8 L2041.9,130.8 L2042.8,130.8 L2043.6,130.8 L2044.5,130.8 L2045.4,130.8 L2046.2,130.8 L2047.1,130.8 L2048.0,130.8 L2048.8,130.8 L2049.7,130.8 L2050.6,130.8 L2051.4,131.5 L2052.3,133.8 L2053.2,136.4 L2054.0,139.0 L2054.9,142.9 L2055.8,148.7 L2056.6,154.5 L2057.5,161.0 L2058.4,170.1 L2059.2,179.2 L2060.1,193.5 L2061.0,215.5 L2061.8,243.0 L2062.7,261.3 L2063.6,263.3 L2064.4,278.0 L2065.3,279.7 L2066.2,265.2 L2067.0,264.9 L2067.9,277.2 L2068.8,290.0 L2069.6,267.5 L2070.5,264.6 L2071.4,273.1 L2072.2,313.1 L2073.1,273.0 L2074.0,268.1 L2074.9,273.9 L2075.7,312.5 L2076.6,280.1 L2077.5,272.7 L2078.3,276.9 L2079.2,299.8 L2080.1,290.7 L2080.9,279.3 L2081.8,280.9 L2082.7,296.5 L2083.5,302.9 L2084.4,285.2 L2085.3,284.5 L2086.1,295.6 L2087.0,321.0 L2087.9,291.7 L2088.7,288.2 L2089.6,296.3 L2090.5,360.4 L2091.3,298.9 L2092.2,292.5 L2093.1,297.5 L2093.9,324.8 L2094.8,307.0 L2095.7,296.9 L2096.5,299.3 L2097.4,317.3 L2098.3,316.7 L2099.1,301.8 L2100.0,301.8 L2100.9,314.6 L2101.7,330.3 L2102.6,307.2 L2103.5,304.7 L2104.3,313.7 L2105.2,359.7 L2106.1,313.3 L2106.9,308.0 L2107.8,313.9 L2108.7,348.7 L2109.5,319.9 L2110.4,311.4 L2111.3,314.8 L2112.1,335.8 L2113.0,328.1 L2113.9,315.5 L2114.7,316.3 L2115.6,330.9 L2116.5,338.9 L2117.3,319.9 L2118.2,318.4 L2119.1,328.7 L2119.9,356.8 L2120.8,324.7 L2121.7,320.3 L2122.5,327.3 L2123.4,378.8 L2124.3,330.1 L2125.1,323.1 L2126.0,327.4 L2126.9,352.7 L2127.7,337.3 L2128.6,326.6 L2129.5,328.5 L2130.3,345.2 L2131.2,346.3 L2132.1,330.5 L2132.9,329.8 L2133.8,341.5 L2134.7,359.4 L2135.6,334.4 L2136.4,331.3 L2137.3,339.4 L2138.2,394.7 L2139.0,339.2 L2139.9,333.3 L2140.8,338.7 L2141.6,370.6 L2142.5,345.2 L2143.4,336.2 L2144.2,339.0 L2145.1,358.8 L2146.0,352.9 L2146.8,339.4 L2147.7,339.8 L2148.6,353.4 L2149.4,363.2 L2150.3,343.0 L2151.2,340.9 L2152.0,350.4 L2152.9,382.2 L2153.8,347.1 L2154.6,342.4 L2155.5,348.9 L2156.4,393.4 L2157.2,352.3 L2158.1,344.9 L2159.0,348.8 L2159.8,372.6 L2160.7,359.4 L2161.6,348.2 L2162.4,349.7 L2163.3,365.7 L2164.2,368.7 L2165.0,352.0 L2165.9,351.1 L2166.8,362.4 L2167.6,382.9 L2168.5,356.4 L2169.4,353.2 L2170.2,361.0 L2171.1,436.5 L2172.0,362.0 L2172.8,356.2 L2173.7,361.7 L2174.6,391.7 L2175.4,369.9 L2176.3,360.8 L2177.2,363.7 L2178.0,382.9 L2178.9,379.5 L2179.8,365.9 L2180.6,366.5 L2181.5,379.9 L2182.4,392.4 L2183.2,371.5 L2184.1,369.6 L2185.0,379.1 L2185.8,415.9 L2186.7,377.6 L2187.6,373.1 L2188.4,379.7 L2189.3,420.5 L2190.2,386.3 L2191.0,379.5 L2191.9,384.2 L2192.8,407.8 L2193.7,397.9 L2194.5,387.1 L2195.4,389.4 L2196.3,405.8 L2197.1,411.8 L2198.0,395.2 L2198.9,395.2 L2199.7,407.0 L2200.6,433.6 L2201.5,409.3 L2202.3,410.0 L2203.2,421.7 L2204.1,501.9 L2204.9,425.4 L2205.8,414.3 L2206.7,414.4 L2207.5,437.5 L2208.4,413.5 L2209.3,399.9 L2210.1,400.4 L2211.0,416.7 L2211.9,413.1 L2212.7,396.7 L2213.6,395.0 L2214.5,405.8 L2215.3,418.5 L2216.2,394.2 L2217.1,389.9 L2217.9,397.0 L2218.8,437.4 L2219.7,392.7 L2220.5,386.4 L2221.4,391.1 L2222.3,426.1 L2223.1,394.1 L2224.0,384.6 L2224.9,386.7 L2225.7,406.9 L2226.6,396.9 L2227.5,383.3 L2228.3,383.0 L2229.2,396.4 L2230.1,402.1 L2230.9,382.4 L2231.8,379.7 L2232.7,388.8 L2233.5,414.0 L2234.4,382.1 L2235.3,376.9 L2236.1,382.8 L2237.0,438.1 L2237.9,383.1 L2238.7,375.3 L2239.6,378.8 L2240.5,403.9 L2241.3,386.2 L2242.2,374.9 L2243.1,375.9 L2243.9,392.1 L2244.8,391.3 L2245.7,374.9 L2246.5,373.5 L2247.4,384.5 L2248.3,400.3 L2249.1,375.3 L2250.0,371.5 L2250.9,378.9 L2251.7,427.8 L2252.6,376.6 L2253.5,370.4 L2254.4,375.1 L2255.2,407.6 L2256.1,379.8 L2257.0,370.3 L2257.8,372.6 L2258.7,392.0 L2259.6,384.5 L2260.4,370.8 L2261.3,370.6 L2262.2,383.8 L2263.0,392.0 L2263.9,371.7 L2264.8,369.1 L2265.6,378.2 L2266.5,407.4 L2267.4,373.2 L2268.2,368.2 L2269.1,374.1 L2270.0,421.1 L2270.8,376.0 L2271.7,368.1 L2272.6,371.4 L2273.4,395.2 L2274.3,380.2 L2275.2,368.5 L2276.0,369.4 L2276.9,385.0 L2277.8,386.2 L2278.6,369.1 L2279.5,367.6 L2280.4,378.3 L2281.2,396.8 L2282.1,370.3 L2283.0,366.9 L2283.8,375.0 L2284.7,437.3 L2285.6,374.2 L2286.4,367.6 L2287.3,372.1 L2288.2,402.2" stroke="#00ff00" stroke-width="5"/>
<path d="M236.5,571.2 L237.4,405.7 L238.2,398.7 L239.1,402.9 L240.0,431.0 L240.8,409.6 L241.7,399.2 L242.6,400.9 L243.4,418.2 L244.3,414.3 L245.2,399.5 L246.0,399.0 L246.9,411.2 L247.8,423.9 L248.6,401.4 L249.5,398.4 L250.4,406.7 L251.2,445.2 L252.1,403.7 L253.0,398.0 L253.8,403.3 L254.7,440.6 L255.6,407.1 L256.4,398.4 L257.3,401.2 L258.2,422.5 L259.0,412.0 L259.9,399.3 L260.8,399.7 L261.6,414.0 L262.5,419.4 L263.4,400.7 L264.2,398.8 L265.1,408.6 L266.0,432.8 L266.9,402.7 L267.7,398.2 L268.6,404.8 L269.5,467.9 L270.3,405.6 L271.2,398.4 L272.1,402.3 L272.9,428.4 L273.8,409.8 L274.7,399.2 L275.5,400.8 L276.4,417.9 L277.3,416.6 L278.1,401.0 L279.0,400.3 L279.9,412.1 L280.7,427.2 L281.6,403.5 L282.5,400.3 L283.3,408.4 L284.2,453.6 L285.1,406.6 L285.9,400.8 L286.8,406.0 L287.7,440.1 L288.5,410.9 L289.4,402.0 L290.3,404.6 L291.1,425.0 L292.0,416.6 L292.9,403.5 L293.7,403.8 L294.6,417.6 L295.5,425.1 L296.3,405.6 L297.2,403.6 L298.1,413.3 L298.9,441.2 L299.8,409.1 L300.7,404.9 L301.5,411.7 L302.4,463.1 L303.3,414.1 L304.1,406.8 L305.0,410.9 L305.9,436.1 L306.7,420.3 L307.6,409.4 L308.5,411.2 L309.3,427.9 L310.2,428.8 L311.1,413.4 L311.9,413.2 L312.8,425.5 L313.7,443.9 L314.5,419.5 L315.4,416.9 L316.3,429.3 L317.1,490.2 L318.0,441.5 L318.9,441.0 L319.7,451.8 L320.6,490.0 L321.5,470.9 L322.3,468.0 L323.2,477.0 L324.1,503.0 L324.9,496.4 L325.8,475.5 L326.7,468.5 L327.6,474.7 L328.4,477.4 L329.3,449.8 L330.2,439.6 L331.0,440.8 L331.9,463.0 L332.8,419.0 L333.6,409.3 L334.5,413.8 L335.4,456.6 L336.2,413.5 L337.1,403.7 L338.0,405.6 L338.8,427.5 L339.7,412.3 L340.6,398.5 L341.4,397.6 L342.3,411.6 L343.2,412.7 L344.0,393.5 L344.9,390.3 L345.8,399.9 L346.6,419.2 L347.5,391.1 L348.4,386.0 L349.2,392.4 L350.1,466.7 L351.0,390.3 L351.8,382.3 L352.7,385.7 L353.6,414.0 L354.4,390.3 L355.3,379.0 L356.2,379.7 L357.0,397.2 L357.9,392.1 L358.8,376.4 L359.6,375.0 L360.5,386.8 L361.4,397.6 L362.2,374.8 L363.1,370.8 L364.0,378.6 L364.8,413.9 L365.7,373.8 L366.6,367.3 L367.4,372.0 L368.3,410.6 L369.2,374.0 L370.0,364.4 L370.9,366.5 L371.8,387.8 L372.6,375.6 L373.5,362.2 L374.4,361.8 L375.2,375.8 L376.1,379.5 L377.0,360.4 L377.8,357.6 L378.7,367.0 L379.6,389.2 L380.4,359.3 L381.3,354.0 L382.2,360.1 L383.0,434.9 L383.9,359.2 L384.8,350.9 L385.6,354.1 L386.5,380.6 L387.4,359.9 L388.3,348.3 L389.1,348.8 L390.0,365.4 L390.9,362.4 L391.7,346.0 L392.6,344.3 L393.5,355.5 L394.3,368.6 L395.2,344.5 L396.1,340.3 L396.9,347.7 L397.8,388.6 L398.7,343.7 L399.5,336.9 L400.4,341.3 L401.3,376.3 L402.1,344.2 L403.0,334.2 L403.9,336.1 L404.7,356.2 L405.6,346.1 L406.5,332.1 L407.3,331.4 L408.2,344.7 L409.1,350.3 L409.9,330.0 L410.8,326.9 L411.7,335.7 L412.5,360.7 L413.4,328.3 L414.3,322.4 L415.1,328.0 L416.0,383.3 L416.9,327.7 L417.7,318.9 L418.6,321.7 L419.5,346.4 L420.3,328.1 L421.2,315.7 L422.1,315.8 L422.9,331.4 L423.8,329.9 L424.7,312.4 L425.5,310.1 L426.4,320.4 L427.3,335.4 L428.1,309.5 L429.0,304.7 L429.9,311.5 L430.7,360.0 L431.6,307.8 L432.5,300.3 L433.3,304.0 L434.2,335.8 L435.1,307.3 L435.9,296.4 L436.8,297.6 L437.7,316.4 L438.5,307.8 L439.4,292.8 L440.3,291.3 L441.1,303.7 L442.0,311.2 L442.9,289.6 L443.7,285.8 L444.6,293.9 L445.5,322.2 L446.3,287.1 L447.2,280.8 L448.1,285.7 L449.0,332.0 L449.8,285.7 L450.7,276.4 L451.6,278.5 L452.4,301.3 L453.3,285.7 L454.2,273.8 L455.0,273.5 L455.9,288.1 L456.8,288.6 L457.6,270.7 L458.5,268.3 L459.4,278.2 L460.2,289.1 L461.1,266.8 L462.0,262.3 L462.8,243.8 L463.7,216.5 L464.6,194.0 L465.4,179.5 L466.3,170.4 L467.2,161.3 L468.0,154.7 L468.9,148.9 L469.8,143.1 L470.6,139.1 L471.5,136.5 L472.4,133.9 L473.2,131.5 L474.1,130.8 L475.0,130.8 L475.8,130.8 L476.7,130.8 L477.6,130.8 L478.4,130.8 L479.3,130.8 L480.2,130.8 L481.0,130.8 L481.9,130.8 L482.8,130.8 L483.6,130.8 L484.5,130.8 L485.4,130.8 L486.2,130.8 L487.1,130.8 L488.0,130.8 L488.8,130.8 L489.7,130.8 L490.6,130.8 L491.4,130.8 L492.3,130.8 L493.2,130.8 L494.0,130.8 L494.9,130.8 L495.8,130.8 L496.6,130.8 L497.5,130.8 L498.4,130.8 L499.2,130.8 L500.1,130.8 L501.0,130.8 L501.8,130.8 L502.7,130.8 L503.6,130.8 L504.4,130.8 L505.3,130.8 L506.2,130.8 L507.0,130.8 L507.9,130.8 L508.8,130.8 L509.7,130.8 L510.5,130.8 L511.4,130.8 L512.3,130.8 L513.1,130.8 L514.0,130.8 L514.9,130.8 L515.7,130.8 L516.6,130.8 L517.5,130.8 L518.3,130.8 L519.2,130.8 L520.1,130.8 L520.9,130.8 L521.8,130.8 L522.7,130.8 L523.5,130.8 L524.4,130.8 L525.3,130.8 L526.1,130.8 L527.0,130.8 L527.9,130.8 L528.7,130.8 L529.6,131.3 L530.5,133.4 L531.3,136.0 L532.2,138.6 L533.1,141.9 L533.9,147.7 L534.8,153.5 L535.7,159.5 L536.5,168.6 L537.4,177.7 L538.3,191.1 L539.1,210.9 L540.0,238.3 L540.9,268.5 L541.7,270.8 L542.6,269.4 L543.5,277.3 L544.3,322.9 L545.2,275.9 L546.1,270.1 L546.9,275.3 L547.8,309.5 L548.7,280.0 L549.5,270.4 L550.4,274.2 L551.3,295.9 L552.1,288.6 L553.0,276.4 L553.9,277.9 L554.7,292.9 L555.6,301.4 L556.5,282.8 L557.3,281.8 L558.2,292.6 L559.1,321.1 L559.9,289.3 L560.8,285.5 L561.7,293.3 L562.5,345.9 L563.4,297.5 L564.3,290.9 L565.1,296.1 L566.0,322.4 L566.9,307.7 L567.8,297.6 L568.6,300.1 L569.5,317.9 L570.4,319.6 L571.2,304.3 L572.1,304.6 L573.0,317.3 L573.8,335.9 L574.7,311.3 L575.6,308.4 L576.4,317.4 L577.3,373.1 L578.2,317.9 L579.0,312.3 L579.9,318.1 L580.8,350.6 L581.6,325.6 L582.5,316.8 L583.4,320.0 L584.2,340.3 L585.1,334.8 L586.0,321.6 L586.8,322.5 L587.7,336.9 L588.6,347.1 L589.4,327.3 L590.3,325.8 L591.2,336.1 L592.0,368.6 L592.9,334.0 L593.8,330.0 L594.6,337.2 L595.5,382.4 L596.4,341.9 L597.2,334.8 L598.1,339.4 L599.0,363.9 L599.8,350.8 L600.7,339.5 L601.6,341.0 L602.4,357.4 L603.3,360.5 L604.2,343.7 L605.0,343.1 L605.9,354.7 L606.8,375.4 L607.6,348.8 L608.5,345.5 L609.4,353.6 L610.2,429.1 L611.1,354.3 L612.0,348.1 L612.8,353.3 L613.7,383.2 L614.6,361.0 L615.4,351.6 L616.3,354.3 L617.2,373.4 L618.0,369.7 L618.9,355.7 L619.8,356.0 L620.6,369.3 L621.5,381.5 L622.4,360.2 L623.2,358.1 L624.1,367.6 L625.0,404.2 L625.8,365.6 L626.7,360.8 L627.6,367.3 L628.5,407.3 L629.3,371.8 L630.2,363.6 L631.1,367.3 L631.9,389.8 L632.8,378.6 L633.7,366.5 L634.5,367.6 L635.4,383.3 L636.3,388.2 L637.1,371.7 L638.0,371.9 L638.9,384.1 L639.7,408.8 L640.6,381.6 L641.5,379.1 L642.3,388.0 L643.2,467.8 L644.1,397.9 L644.9,395.5 L645.8,403.4 L646.7,433.9 L647.5,417.1 L648.4,409.6 L649.3,414.4 L650.1,434.9 L651.0,435.6 L651.9,417.4 L652.7,413.7 L653.6,422.8 L654.5,433.7 L655.3,407.6 L656.2,401.5 L657.1,405.7 L657.9,442.8 L658.8,394.2 L659.7,383.9 L660.5,386.7 L661.4,420.0 L662.3,386.3 L663.1,373.3 L664.0,372.8 L664.9,391.7 L665.7,380.2 L666.6,366.0 L667.5,365.4 L668.3,378.6 L669.2,384.1 L670.1,363.8 L670.9,360.6 L671.8,369.5 L672.7,394.9 L673.5,362.3 L674.4,356.4 L675.3,361.8 L676.1,417.0 L677.0,361.2 L677.9,352.4 L678.7,355.1 L679.6,379.9 L680.5,361.9 L681.3,349.6 L682.2,350.0 L683.1,365.8 L683.9,364.5 L684.8,347.4 L685.7,345.2 L686.5,355.8 L687.4,371.2 L688.3,345.5 L689.2,341.1 L690.0,348.0 L690.9,396.6 L691.8,344.8 L692.6,337.5 L693.5,341.6 L694.4,373.5 L695.2,345.0 L696.1,334.4 L697.0,335.7 L697.8,354.7 L698.7,346.5 L699.6,331.7 L700.4,330.8 L701.3,343.4 L702.2,351.1 L703.0,329.8 L703.9,326.0 L704.8,334.0 L705.6,362.3 L706.5,326.8 L707.4,320.4 L708.2,325.4 L709.1,371.6 L710.0,325.2 L710.8,315.8 L711.7,318.0 L712.6,340.9 L713.4,325.0 L714.3,311.7 L715.2,311.4 L716.0,326.1 L716.9,326.3 L717.8,307.7 L718.6,304.7 L719.5,314.4 L720.4,332.0 L721.2,304.3 L722.1,299.1 L723.0,305.3 L723.8,366.5 L724.7,302.1 L725.6,293.9 L726.4,297.2 L727.3,326.3 L728.2,300.7 L729.0,289.4 L729.9,290.2 L730.8,308.1 L731.6,301.9 L732.5,286.2 L733.4,284.8 L734.2,296.7 L735.1,306.4 L736.0,284.0 L736.8,279.9 L737.7,287.7 L738.6,320.4 L739.4,282.1 L740.3,275.7 L741.2,280.4 L742.0,321.0 L742.9,281.5 L743.8,271.9 L744.6,273.9 L745.5,296.4 L746.4,282.7 L747.2,269.8 L748.1,270.4 L749.0,285.3 L749.9,288.5 L750.7,270.6 L751.6,268.7 L752.5,278.8 L753.3,293.3 L754.2,269.0 L755.1,266.0 L755.9,247.1 L756.8,219.9 L757.7,195.8 L758.5,181.1 L759.4,171.5 L760.3,162.4 L761.1,155.4 L762.0,149.6 L762.9,143.8 L763.7,139.4 L764.6,136.8 L765.5,134.2 L766.3,131.7 L767.2,130.8 L768.1,130.8 L768.9,130.8 L769.8,130.8 L770.7,130.8 L771.5,130.8 L772.4,130.8 L773.3,130.8 L774.1,130.8 L775.0,130.8 L775.9,130.8 L776.7,130.8 L777.6,130.8 L778.5,130.8 L779.3,130.8 L780.2,130.8 L781.1,130.8 L781.9,130.8 L782.8,130.8 L783.7,130.8 L784.5,130.8 L785.4,130.8 L786.3,130.8 L787.1,130.8 L788.0,130.8 L788.9,130.8 L789.7,130.8 L790.6,130.8 L791.5,130.8 L792.3,130.8 L793.2,130.8 L794.1,130.8 L794.9,130.8 L795.8,130.8 L796.7,130.8 L797.5,130.8 L798.4,130.8 L799.3,130.8 L800.1,130.8 L801.0,130.8 L801.9,130.8 L802.7,130.8 L803.6,130.8 L804.5,130.8 L805.3,130.8 L806.2,130.8 L807.1,130.8 L807.9,130.8 L808.8,130.8 L809.7,130.8 L810.6,130.8 L811.4,130.8 L812.3,130.8 L813.2,130.8 L814.0,130.8 L814.9,130.8 L815.8,130.8 L816.6,130.8 L817.5,130.8 L818.4,130.8 L819.2,130.8 L820.1,130.8 L821.0,130.8 L821.8,130.8 L822.7,130.8 L823.6,130.8 L824.4,130.8 L825.3,130.8 L826.2,130.8 L827.0,130.8 L827.9,130.8 L828.8,130.8 L829.6,130.8 L830.5,130.8 L831.4,130.8 L832.2,130.8 L833.1,130.8 L834.0,130.8 L834.8,130.8 L835.7,130.8 L836.6,130.8 L837.4,130.8 L838.3,130.8 L839.2,130.8 L840.0,130.8 L840.9,130.8 L841.8,130.8 L842.6,130.8 L843.5,130.8 L844.4,130.8 L845.2,130.8 L846.1,130.8 L847.0,130.8 L847.8,130.8 L848.7,130.8 L849.6,130.8 L850.4,130.8 L851.3,130.8 L852.2,130.8 L853.0,130.8 L853.9,130.8 L854.8,130.8 L855.6,130.8 L856.5,130.8 L857.4,130.8 L858.2,130.8 L859.1,130.8 L860.0,130.8 L860.8,130.8 L861.7,130.8 L862.6,130.8 L863.4,130.8 L864.3,130.8 L865.2,130.8 L866.0,130.8 L866.9,130.8 L867.8,130.8 L868.6,130.8 L869.5,130.8 L870.4,130.8 L871.3,130.8 L872.1,130.8 L873.0,130.8 L873.9,130.8 L874.7,130.8 L875.6,130.8 L876.5,130.8 L877.3,130.8 L878.2,130.8 L879.1,130.8 L879.9,130.8 L880.8,130.8 L881.7,130.9 L882.5,132.7 L883.4,135.3 L884.3,137.8 L885.1,140.4 L886.0,146.1 L886.9,151.9 L887.7,157.7 L888.6,166.1 L889.5,175.2 L890.3,187.0 L891.2,203.1 L892.1,230.9 L892.9,257.6 L893.8,267.7 L894.7,268.5 L895.5,282.2 L896.4,288.3 L897.3,270.2 L898.1,268.4 L899.0,278.7 L899.9,301.6 L900.7,272.5 L901.6,269.2 L902.5,277.4 L903.3,353.9 L904.2,279.6 L905.1,273.5 L905.9,278.8 L906.8,307.4 L907.7,288.5 L908.5,279.1 L909.4,282.2 L910.3,301.0 L911.1,299.8 L912.0,285.6 L912.9,286.2 L913.7,299.8 L914.6,315.0 L915.5,292.9 L916.3,291.1 L917.2,301.0 L918.1,344.0 L918.9,301.0 L919.8,296.4 L920.7,303.3 L921.5,340.2 L922.4,309.8 L923.3,301.7 L924.1,305.3 L925.0,327.5 L925.9,319.0 L926.7,306.8 L927.6,308.3 L928.5,323.6 L929.4,331.0 L930.2,312.7 L931.1,311.6 L932.0,322.5 L932.8,349.3 L933.7,318.9 L934.6,314.9 L935.4,322.2 L936.3,378.9 L937.2,324.7 L938.0,317.8 L938.9,322.3 L939.8,348.6 L940.6,331.9 L941.5,321.4 L942.4,323.4 L943.2,340.8 L944.1,340.8 L945.0,325.2 L945.8,324.9 L946.7,337.3 L947.6,354.3 L948.4,330.5 L949.3,328.0 L950.2,337.0 L951.0,387.4 L951.9,337.2 L952.8,332.0 L953.6,338.0 L954.5,371.7 L955.4,345.0 L956.2,336.5 L957.1,340.0 L958.0,360.9 L958.8,354.4 L959.7,341.6 L960.6,342.6 L961.4,357.1 L962.3,366.4 L963.2,346.9 L964.0,345.3 L964.9,355.8 L965.8,386.0 L966.6,352.7 L967.5,348.6 L968.4,355.7 L969.2,403.8 L970.1,359.4 L971.0,352.4 L971.8,356.8 L972.7,381.6 L973.6,367.4 L974.4,356.5 L975.3,358.4 L976.2,375.1 L977.0,377.2 L977.9,361.0 L978.8,360.5 L979.6,372.3 L980.5,391.8 L981.4,366.2 L982.2,363.1 L983.1,371.5 L984.0,434.6 L984.8,372.1 L985.7,366.3 L986.6,371.8 L987.4,402.8 L988.3,379.2 L989.2,370.0 L990.1,372.8 L990.9,392.5 L991.8,387.4 L992.7,373.4 L993.5,373.8 L994.4,387.5 L995.3,398.8 L996.1,378.0 L997.0,376.8 L997.9,387.7 L998.7,423.3 L999.6,387.9 L1000.5,384.7 L1001.3,392.6 L1002.2,436.2 L1003.1,404.6 L1003.9,405.3 L1004.8,414.3 L1005.7,439.1 L1006.5,428.7 L1007.4,418.8 L1008.3,421.7 L1009.1,439.0 L1010.0,444.7 L1010.9,426.1 L1011.7,414.5 L1012.6,413.6 L1013.5,413.3 L1014.3,381.9 L1015.2,374.6 L1016.1,378.5 L1016.9,540.9 L1017.8,370.5 L1018.7,359.7 L1019.5,360.8 L1020.4,388.0 L1021.3,365.8 L1022.1,354.4 L1023.0,355.3 L1023.9,372.3 L1024.7,368.0 L1025.6,351.9 L1026.5,350.4 L1027.3,362.0 L1028.2,374.0 L1029.1,350.3 L1029.9,346.0 L1030.8,353.5 L1031.7,391.2 L1032.5,348.8 L1033.4,341.9 L1034.3,346.3 L1035.1,382.8 L1036.0,348.6 L1036.9,338.6 L1037.7,340.5 L1038.6,361.2 L1039.5,349.9 L1040.3,336.2 L1041.2,335.6 L1042.1,349.3 L1042.9,354.1 L1043.8,334.4 L1044.7,331.5 L1045.5,340.7 L1046.4,364.3 L1047.3,333.2 L1048.1,327.6 L1049.0,333.5 L1049.9,396.1 L1050.8,333.0 L1051.6,324.4 L1052.5,327.1 L1053.4,352.5 L1054.2,332.8 L1055.1,320.7 L1056.0,321.0 L1056.8,336.9 L1057.7,334.6 L1058.6,317.6 L1059.4,315.5 L1060.3,326.2 L1061.2,340.2 L1062.0,315.0 L1062.9,310.5 L1063.8,317.5 L1064.6,361.9 L1065.5,313.8 L1066.4,306.7 L1067.2,310.7 L1068.1,344.0 L1069.0,313.8 L1069.8,303.3 L1070.7,304.8 L1071.6,324.3 L1072.4,314.9 L1073.3,300.4 L1074.2,299.3 L1075.0,312.2 L1075.9,318.8 L1076.8,297.9 L1077.6,294.5 L1078.5,303.0 L1079.4,329.6 L1080.2,295.7 L1081.1,289.4 L1082.0,294.8 L1082.8,345.0 L1083.7,294.5 L1084.6,285.5 L1085.4,288.0 L1086.3,311.9 L1087.2,295.0 L1088.0,282.3 L1088.9,282.0 L1089.8,296.7 L1090.6,296.0 L1091.5,278.0 L1092.4,275.1 L1093.2,284.8 L1094.1,300.9 L1095.0,274.0 L1095.8,269.2 L1096.7,277.2 L1097.6,331.5 L1098.4,274.5 L1099.3,267.1 L1100.2,270.8 L1101.0,301.8 L1101.9,275.8 L1102.8,266.0 L1103.6,268.1 L1104.5,287.1 L1105.4,278.2 L1106.2,265.0 L1107.1,264.0 L1108.0,254.9 L1108.8,227.6 L1109.7,199.8 L1110.6,185.1 L1111.5,174.0 L1112.3,164.9 L1113.2,157.0 L1114.1,151.2 L1114.9,145.4 L1115.8,140.1 L1116.7,137.5 L1117.5,134.9 L1118.4,132.3 L1119.3,130.8 L1120.1,130.8 L1121.0,130.8 L1121.9,130.8 L1122.7,130.8 L1123.6,130.8 L1124.5,130.8 L1125.3,130.8 L1126.2,130.8 L1127.1,130.8 L1127.9,130.8 L1128.8,130.8 L1129.7,130.8 L1130.5,130.8 L1131.4,130.8 L1132.3,130.8 L1133.1,130.8 L1134.0,130.8 L1134.9,130.8 L1135.7,130.8 L1136.6,130.8 L1137.5,130.8 L1138.3,130.8 L1139.2,130.8 L1140.1,130.8 L1140.9,130.8 L1141.8,130.8 L1142.7,130.8 L1143.5,130.8 L1144.4,130.8 L1145.3,130.8 L1146.1,130.8 L1147.0,130.8 L1147.9,130.8 L1148.7,130.8 L1149.6,130.8 L1150.5,130.8 L1151.3,130.8 L1152.2,130.8 L1153.1,130.8 L1153.9,130.8 L1154.8,130.8 L1155.7,130.8 L1156.5,130.8 L1157.4,130.8 L1158.3,130.8 L1159.1,130.8 L1160.0,130.8 L1160.9,130.8 L1161.7,130.8 L1162.6,130.8 L1163.5,130.8 L1164.3,130.8 L1165.2,130.8 L1166.1,130.8 L1166.9,130.8 L1167.8,130.8 L1168.7,130.8 L1169.5,130.8 L1170.4,130.8 L1171.3,130.8 L1172.2,130.8 L1173.0,130.8 L1173.9,130.8 L1174.8,130.8 L1175.6,130.8 L1176.5,130.8 L1177.4,130.8 L1178.2,130.8 L1179.1,130.8 L1180.0,130.8 L1180.8,130.8 L1181.7,130.8 L1182.6,130.8 L1183.4,130.8 L1184.3,130.8 L1185.2,130.8 L1186.0,130.8 L1186.9,130.8 L1187.8,130.8 L1188.6,130.8 L1189.5,130.8 L1190.4,130.8 L1191.2,130.8 L1192.1,130.8 L1193.0,130.8 L1193.8,130.8 L1194.7,130.8 L1195.6,130.8 L1196.4,130.8 L1197.3,130.8 L1198.2,130.8 L1199.0,130.8 L1199.9,130.8 L1200.8,130.8 L1201.6,130.8 L1202.5,130.8 L1203.4,130.8 L1204.2,130.8 L1205.1,130.8 L1206.0,130.8 L1206.8,130.8 L1207.7,130.8 L1208.6,130.8 L1209.4,130.8 L1210.3,130.8 L1211.2,130.8 L1212.0,130.8 L1212.9,130.8 L1213.8,130.8 L1214.6,130.8 L1215.5,130.8 L1216.4,130.8 L1217.2,130.8 L1218.1,130.8 L1219.0,130.8 L1219.8,130.8 L1220.7,130.8 L1221.6,130.8 L1222.4,130.8 L1223.3,130.8 L1224.2,130.8 L1225.0,130.8 L1225.9,130.8 L1226.8,130.8 L1227.6,130.8 L1228.5,130.8 L1229.4,130.8 L1230.3,130.8 L1231.1,130.8 L1232.0,130.8 L1232.9,130.8 L1233.7,130.8 L1234.6,130.8 L1235.5,130.8 L1236.3,130.8 L1237.2,130.8 L1238.1,130.8 L1238.9,130.8 L1239.8,130.8 L1240.7,130.8 L1241.5,130.8 L1242.4,130.8 L1243.3,130.8 L1244.1,130.8 L1245.0,130.8 L1245.9,130.8 L1246.7,130.8 L1247.6,130.8 L1248.5,130.8 L1249.3,130.8 L1250.2,130.8 L1251.1,130.8 L1251.9,130.8 L1252.8,130.8 L1253.7,130.8 L1254.5,130.8 L1255.4,130.8 L1256.3,130.8 L1257.1,130.8 L1258.0,130.8 L1258.9,130.8 L1259.7,130.8 L1260.6,130.8 L1261.5,130.8 L1262.3,130.8 L1263.2,130.8 L1264.1,130.8 L1264.9,130.8 L1265.8,130.8 L1266.7,130.8 L1267.5,130.8 L1268.4,130.8 L1269.3,130.8 L1270.1,130.8 L1271.0,130.8 L1271.9,130.8 L1272.7,130.8 L1273.6,130.8 L1274.5,130.8 L1275.3,130.8 L1276.2,130.8 L1277.1,130.8 L1277.9,130.8 L1278.8,130.8 L1279.7,130.8 L1280.5,130.8 L1281.4,130.8 L1282.3,130.8 L1283.1,130.8 L1284.0,130.8 L1284.9,130.8 L1285.7,130.8 L1286.6,130.8 L1287.5,130.8 L1288.3,130.8 L1289.2,130.8 L1290.1,130.8 L1291.0,130.8 L1291.8,130.8 L1292.7,130.8 L1293.6,130.8 L1294.4,130.8 L1295.3,130.8 L1296.2,130.8 L1297.0,130.8 L1297.9,130.8 L1298.8,130.8 L1299.6,130.8 L1300.5,130.8 L1301.4,130.8 L1302.2,130.8 L1303.1,130.8 L1304.0,130.8 L1304.8,130.8 L1305.7,130.8 L1306.6,130.8 L1307.4,130.8 L1308.3,130.8 L1309.2,130.8 L1310.0,130.8 L1310.9,130.8 L1311.8,130.8 L1312.6,130.8 L1313.5,130.8 L1314.4,130.8 L1315.2,130.8 L1316.1,130.8 L1317.0,130.8 L1317.8,130.8 L1318.7,130.8 L1319.6,130.8 L1320.4,130.8 L1321.3,130.8 L1322.2,130.8 L1323.0,130.8 L1323.9,130.8 L1324.8,130.8 L1325.6,130.8 L1326.5,130.8 L1327.4,130.8 L1328.2,130.8 L1329.1,130.8 L1330.0,130.8 L1330.8,130.8 L1331.7,130.8 L1332.6,130.8 L1333.4,130.8 L1334.3,130.8 L1335.2,130.8 L1336.0,130.8 L1336.9,130.8 L1337.8,130.8 L1338.6,130.8 L1339.5,130.8 L1340.4,130.8 L1341.2,130.8 L1342.1,130.8 L1343.0,130.8 L1343.8,130.8 L1344.7,130.8 L1345.6,130.8 L1346.4,130.8 L1347.3,130.8 L1348.2,130.8 L1349.0,130.8 L1349.9,130.8 L1350.8,131.2 L1351.7,133.3 L1352.5,135.9 L1353.4,138.5 L1354.3,141.8 L1355.1,147.6 L1356.0,153.4 L1356.9,159.4 L1357.7,168.5 L1358.6,177.6 L1359.5,190.8 L1360.3,210.5 L1361.2,238.3 L1362.1,263.2 L1362.9,265.4 L1363.8,267.5 L1364.7,287.0 L1365.5,281.8 L1366.4,268.2 L1367.3,267.9 L1368.1,280.8 L1369.0,290.1 L1369.9,269.1 L1370.7,267.8 L1371.6,278.1 L1372.5,310.7 L1373.3,276.4 L1374.2,271.7 L1375.1,278.5 L1375.9,323.7 L1376.8,283.1 L1377.7,276.1 L1378.5,280.7 L1379.4,305.3 L1380.3,292.7 L1381.1,282.0 L1382.0,284.0 L1382.9,300.5 L1383.7,303.9 L1384.6,287.5 L1385.5,287.0 L1386.3,299.0 L1387.2,319.9 L1388.1,293.6 L1388.9,290.6 L1389.8,299.0 L1390.7,375.1 L1391.5,300.5 L1392.4,294.6 L1393.3,300.2 L1394.1,330.4 L1395.0,308.5 L1395.9,299.2 L1396.7,302.1 L1397.6,321.5 L1398.5,317.9 L1399.3,304.0 L1400.2,304.7 L1401.1,318.4 L1401.9,330.9 L1402.8,309.8 L1403.7,307.8 L1404.5,317.6 L1405.4,354.3 L1406.3,315.8 L1407.1,311.0 L1408.0,317.3 L1408.9,357.3 L1409.7,322.1 L1410.6,314.2 L1411.5,317.9 L1412.4,340.7 L1413.2,329.8 L1414.1,317.9 L1415.0,319.2 L1415.8,334.7 L1416.7,339.6 L1417.6,321.9 L1418.4,320.8 L1419.3,331.9 L1420.2,355.5 L1421.0,327.2 L1421.9,323.9 L1422.8,331.8 L1423.6,408.2 L1424.5,333.9 L1425.4,327.6 L1426.2,332.8 L1427.1,360.9 L1428.0,341.9 L1428.8,332.1 L1429.7,334.6 L1430.6,353.0 L1431.4,351.5 L1432.3,336.9 L1433.2,337.3 L1434.0,350.3 L1434.9,365.1 L1435.8,343.2 L1436.6,342.3 L1437.5,351.5 L1438.4,394.2 L1439.2,351.2 L1440.1,346.4 L1441.0,352.7 L1441.8,387.0 L1442.7,352.5 L1443.6,340.4 L1444.4,339.9 L1445.3,357.6 L1446.2,347.7 L1447.0,334.3 L1447.9,334.3 L1448.8,348.0 L1449.6,354.1 L1450.5,334.6 L1451.4,332.2 L1452.2,341.6 L1453.1,367.2 L1454.0,335.4 L1454.8,330.2 L1455.7,336.1 L1456.6,391.8 L1457.4,336.7 L1458.3,328.8 L1459.2,332.2 L1460.0,357.4 L1460.9,339.8 L1461.8,328.5 L1462.6,329.3 L1463.5,345.6 L1464.4,344.9 L1465.2,328.4 L1466.1,327.0 L1467.0,338.0 L1467.8,353.9 L1468.7,329.0 L1469.6,325.1 L1470.4,332.4 L1471.3,381.5 L1472.2,330.2 L1473.1,323.7 L1473.9,328.2 L1474.8,360.6 L1475.7,332.8 L1476.5,323.1 L1477.4,325.1 L1478.3,344.5 L1479.1,336.9 L1480.0,323.0 L1480.9,322.6 L1481.7,335.6 L1482.6,343.8 L1483.5,323.3 L1484.3,320.5 L1485.2,329.3 L1486.1,358.2 L1486.9,323.8 L1487.8,318.3 L1488.7,323.9 L1489.5,370.7 L1490.4,325.3 L1491.3,316.9 L1492.1,319.8 L1493.0,343.4 L1493.9,328.0 L1494.7,315.9 L1495.6,316.3 L1496.5,331.6 L1497.3,332.8 L1498.2,315.4 L1499.1,313.5 L1499.9,323.9 L1500.8,342.1 L1501.7,315.5 L1502.5,311.1 L1503.4,317.9 L1504.3,379.9 L1505.1,316.4 L1506.0,309.3 L1506.9,313.3 L1507.7,343.1 L1508.6,318.5 L1509.5,308.1 L1510.3,309.6 L1511.2,327.8 L1512.1,322.0 L1512.9,307.2 L1513.8,306.2 L1514.7,318.4 L1515.5,328.4 L1516.4,306.5 L1517.3,303.1 L1518.1,311.4 L1519.0,344.4 L1519.9,306.6 L1520.7,300.6 L1521.6,305.8 L1522.5,346.9 L1523.3,307.8 L1524.2,298.7 L1525.1,301.0 L1525.9,322.9 L1526.8,309.6 L1527.7,296.6 L1528.5,296.5 L1529.4,310.9 L1530.3,313.7 L1531.1,295.1 L1532.0,292.6 L1532.9,302.3 L1533.8,323.0 L1534.6,294.2 L1535.5,289.2 L1536.4,295.5 L1537.2,460.6 L1538.1,294.4 L1539.0,286.7 L1539.8,290.1 L1540.7,317.6 L1541.6,295.8 L1542.4,284.5 L1543.3,285.4 L1544.2,302.6 L1545.0,298.5 L1545.9,282.7 L1546.8,281.0 L1547.6,292.6 L1548.5,304.6 L1549.4,281.0 L1550.2,277.0 L1551.1,284.5 L1552.0,322.3 L1552.8,280.2 L1553.7,273.6 L1554.6,278.1 L1555.4,314.6 L1556.3,280.3 L1557.2,270.6 L1558.0,272.7 L1558.9,293.7 L1559.8,282.4 L1560.6,268.7 L1561.5,268.3 L1562.4,282.0 L1563.2,286.7 L1564.1,267.3 L1565.0,264.5 L1565.8,273.8 L1566.7,297.5 L1567.6,267.2 L1568.4,262.5 L1569.3,268.9 L1570.2,326.9 L1571.0,267.1 L1571.9,261.8 L1572.8,255.4 L1573.6,233.8 L1574.5,206.3 L1575.4,188.7 L1576.2,176.2 L1577.1,167.1 L1578.0,158.4 L1578.8,152.6 L1579.7,146.8 L1580.6,141.0 L1581.4,138.1 L1582.3,135.5 L1583.2,133.0 L1584.0,131.0 L1584.9,130.8 L1585.8,130.8 L1586.6,130.8 L1587.5,130.8 L1588.4,130.8 L1589.2,130.8 L1590.1,130.8 L1591.0,130.8 L1591.9,130.8 L1592.7,130.8 L1593.6,130.8 L1594.5,130.8 L1595.3,130.8 L1596.2,130.8 L1597.1,130.8 L1597.9,130.8 L1598.8,130.8 L1599.7,130.8 L1600.5,130.8 L1601.4,130.8 L1602.3,130.8 L1603.1,130.8 L1604.0,130.8 L1604.9,130.8 L1605.7,130.8 L1606.6,130.8 L1607.5,130.8 L1608.3,130.8 L1609.2,130.8 L1610.1,130.8 L1610.9,130.8 L1611.8,130.8 L1612.7,130.8 L1613.5,130.8 L1614.4,130.8 L1615.3,130.8 L1616.1,130.8 L1617.0,130.8 L1617.9,130.8 L1618.7,130.8 L1619.6,130.8 L1620.5,130.8 L1621.3,130.8 L1622.2,130.8 L1623.1,130.8 L1623.9,130.8 L1624.8,130.8 L1625.7,130.8 L1626.5,130.8 L1627.4,130.8 L1628.3,130.8 L1629.1,130.8 L1630.0,130.8 L1630.9,130.8 L1631.7,130.8 L1632.6,130.8 L1633.5,130.8 L1634.3,130.8 L1635.2,130.8 L1636.1,130.8 L1636.9,130.8 L1637.8,130.8 L1638.7,130.8 L1639.5,130.8 L1640.4,130.8 L1641.3,130.8 L1642.1,130.8 L1643.0,130.8 L1643.9,130.8 L1644.7,130.8 L1645.6,130.8 L1646.5,130.8 L1647.3,130.8 L1648.2,130.8 L1649.1,130.8 L1649.9,130.8 L1650.8,130.8 L1651.7,130.8 L1652.6,130.8 L1653.4,130.8 L1654.3,130.8 L1655.2,130.8 L1656.0,130.8 L1656.9,130.8 L1657.8,130.8 L1658.6,130.8 L1659.5,130.8 L1660.4,130.8 L1661.2,130.8 L1662.1,130.8 L1663.0,130.8 L1663.8,130.8 L1664.7,130.8 L1665.6,130.8 L1666.4,130.8 L1667.3,130.8 L1668.2,130.8 L1669.0,130.8 L1669.9,130.8 L1670.8,130.8 L1671.6,130.8 L1672.5,130.8 L1673.4,130.8 L1674.2,130.8 L1675.1,130.8 L1676.0,130.8 L1676.8,130.8 L1677.7,130.8 L1678.6,130.8 L1679.4,130.8 L1680.3,130.8 L1681.2,130.8 L1682.0,130.8 L1682.9,130.8 L1683.8,130.8 L1684.6,130.8 L1685.5,130.8 L1686.4,130.8 L1687.2,130.8 L1688.1,130.8 L1689.0,130.8 L1689.8,130.8 L1690.7,130.8 L1691.6,130.8 L1692.4,130.8 L1693.3,130.8 L1694.2,130.8 L1695.0,130.8 L1695.9,130.8 L1696.8,130.8 L1697.6,130.8 L1698.5,130.8 L1699.4,130.8 L1700.2,130.8 L1701.1,130.8 L1702.0,130.8 L1702.8,130.8 L1703.7,130.8 L1704.6,130.8 L1705.4,130.8 L1706.3,130.8 L1707.2,130.8 L1708.0,130.8 L1708.9,130.8 L1709.8,130.8 L1710.6,130.8 L1711.5,130.8 L1712.4,130.8 L1713.3,130.8 L1714.1,130.8 L1715.0,130.8 L1715.9,130.8 L1716.7,130.8 L1717.6,130.8 L1718.5,130.8 L1719.3,130.8 L1720.2,130.8 L1721.1,130.8 L1721.9,130.8 L1722.8,130.8 L1723.7,130.8 L1724.5,130.8 L1725.4,130.8 L1726.3,130.8 L1727.1,130.8 L1728.0,130.8 L1728.9,130.8 L1729.7,130.8 L1730.6,130.8 L1731.5,130.8 L1732.3,130.8 L1733.2,130.8 L1734.1,130.8 L1734.9,130.8 L1735.8,130.8 L1736.7,130.8 L1737.5,130.8 L1738.4,130.8 L1739.3,130.8 L1740.1,130.8 L1741.0,130.8 L1741.9,130.8 L1742.7,130.8 L1743.6,130.8 L1744.5,130.8 L1745.3,130.8 L1746.2,130.8 L1747.1,130.8 L1747.9,130.8 L1748.8,130.8 L1749.7,130.8 L1750.5,130.8 L1751.4,130.8 L1752.3,130.8 L1753.1,130.8 L1754.0,130.8 L1754.9,130.8 L1755.7,130.8 L1756.6,130.8 L1757.5,130.8 L1758.3,130.8 L1759.2,130.8 L1760.1,130.8 L1760.9,130.8 L1761.8,130.8 L1762.7,130.8 L1763.5,130.8 L1764.4,130.8 L1765.3,130.8 L1766.1,130.8 L1767.0,130.8 L1767.9,130.8 L1768.7,130.8 L1769.6,130.8 L1770.5,130.8 L1771.3,130.8 L1772.2,130.8 L1773.1,130.8 L1774.0,130.8 L1774.8,130.8 L1775.7,130.8 L1776.6,130.8 L1777.4,130.8 L1778.3,130.8 L1779.2,130.8 L1780.0,130.8 L1780.9,130.8 L1781.8,130.8 L1782.6,130.8 L1783.5,130.8 L1784.4,130.8 L1785.2,130.8 L1786.1,130.8 L1787.0,130.8 L1787.8,130.8 L1788.7,130.8 L1789.6,130.8 L1790.4,130.8 L1791.3,130.8 L1792.2,130.8 L1793.0,130.8 L1793.9,130.8 L1794.8,130.8 L1795.6,130.8 L1796.5,130.8 L1797.4,130.8 L1798.2,130.8 L1799.1,130.8 L1800.0,130.8 L1800.8,130.8 L1801.7,130.8 L1802.6,130.8 L1803.4,130.8 L1804.3,130.8 L1805.2,130.8 L1806.0,130.8 L1806.9,130.8 L1807.8,130.8 L1808.6,130.8 L1809.5,130.8 L1810.4,130.8 L1811.2,130.8 L1812.1,130.8 L1813.0,130.8 L1813.8,130.8 L1814.7,130.8 L1815.6,130.8 L1816.4,130.8 L1817.3,130.8 L1818.2,130.8 L1819.0,130.8 L1819.9,130.8 L1820.8,130.8 L1821.6,130.8 L1822.5,130.8 L1823.4,130.8 L1824.2,130.8 L1825.1,130.8 L1826.0,130.8 L1826.8,130.8 L1827.7,130.8 L1828.6,130.8 L1829.4,130.8 L1830.3,130.8 L1831.2,130.8 L1832.0,130.8 L1832.9,130.8 L1833.8,130.8 L1834.7,130.8 L1835.5,130.8 L1836.4,130.8 L1837.3,130.8 L1838.1,130.8 L1839.0,130.8 L1839.9,130.8 L1840.7,130.8 L1841.6,130.8 L1842.5,130.8 L1843.3,130.8 L1844.2,130.8 L1845.1,130.8 L1845.9,130.8 L1846.8,130.8 L1847.7,130.8 L1848.5,130.8 L1849.4,130.8 L1850.3,130.8 L1851.1,130.8 L1852.0,130.8 L1852.9,130.8 L1853.7,130.8 L1854.6,130.8 L1855.5,130.8 L1856.3,130.8 L1857.2,130.8 L1858.1,130.8 L1858.9,130.8 L1859.8,130.8 L1860.7,130.8 L1861.5,130.8 L1862.4,130.8 L1863.3,130.8 L1864.1,130.8 L1865.0,130.8 L1865.9,130.8 L1866.7,130.8 L1867.6,130.8 L1868.5,130.8 L1869.3,130.8 L1870.2,130.8 L1871.1,130.8 L1871.9,130.8 L1872.8,130.8 L1873.7,130.8 L1874.5,130.8 L1875.4,130.8 L1876.3,130.8 L1877.1,130.8 L1878.0,130.8 L1878.9,130.8 L1879.7,130.8 L1880.6,130.8 L1881.5,130.8 L1882.3,130.8 L1883.2,130.8 L1884.1,130.8 L1884.9,130.8 L1885.8,130.8 L1886.7,130.8 L1887.5,130.8 L1888.4,130.8 L1889.3,130.8 L1890.1,130.8 L1891.0,130.8 L1891.9,130.8 L1892.8,130.8 L1893.6,130.8 L1894.5,130.8 L1895.4,130.8 L1896.2,130.8 L1897.1,130.8 L1898.0,130.8 L1898.8,130.8 L1899.7,130.8 L1900.6,130.8 L1901.4,130.8 L1902.3,130.8 L1903.2,130.8 L1904.0,130.8 L1904.9,130.8 L1905.8,130.8 L1906.6,130.8 L1907.5,130.8 L1908.4,130.8 L1909.2,130.8 L1910.1,130.8 L1911.0,130.8 L1911.8,130.8 L1912.7,130.8 L1913.6,130.8 L1914.4,130.8 L1915.3,130.8 L1916.2,130.8 L1917.0,130.8 L1917.9,130.8 L1918.8,130.8 L1919.6,130.8 L1920.5,130.8 L1921.4,130.8 L1922.2,130.8 L1923.1,130.8 L1924.0,130.8 L1924.8,130.8 L1925.7,130.8 L1926.6,130.8 L1927.4,130.8 L1928.3,130.8 L1929.2,130.8 L1930.0,130.8 L1930.9,130.8 L1931.8,130.8 L1932.6,130.8 L1933.5,130.8 L1934.4,130.8 L1935.2,130.8 L1936.1,130.8 L1937.0,130.8 L1937.8,130.8 L1938.7,130.8 L1939.6,130.8 L1940.4,130.8 L1941.3,130.8 L1942.2,130.8 L1943.0,130.8 L1943.9,130.8 L1944.8,130.8 L1945.6,130.8 L1946.5,130.8 L1947.4,130.8 L1948.2,130.8 L1949.1,130.8 L1950.0,130.8 L1950.8,130.8 L1951.7,130.8 L1952.6,130.8 L1953.5,130.8 L1954.3,130.8 L1955.2,130.8 L1956.1,130.8 L1956.9,130.8 L1957.8,130.8 L1958.7,130.8 L1959.5,130.8 L1960.4,130.8 L1961.3,130.8 L1962.1,130.8 L1963.0,130.8 L1963.9,130.8 L1964.7,130.8 L1965.6,130.8 L1966.5,130.8 L1967.3,130.8 L1968.2,130.8 L1969.1,130.8 L1969.9,130.8 L1970.8,130.8 L1971.7,130.8 L1972.5,130.8 L1973.4,130.8 L1974.3,130.8 L1975.1,130.8 L1976.0,130.8 L1976.9,130.8 L1977.7,130.8 L1978.6,130.8 L1979.5,130.8 L1980.3,130.8 L1981.2,130.8 L1982.1,130.8 L1982.9,130.8 L1983.8,130.8 L1984.7,130.8 L1985.5,130.8 L1986.4,130.8 L1987.3,130.8 L1988.1,130.8 L1989.0,130.8 L1989.9,130.8 L1990.7,130.8 L1991.6,130.8 L1992.5,130.8 L1993.3,130.8 L1994.2,130.8 L1995.1,130.8 L1995.9,130.8 L1996.8,130.8 L1997.7,130.8 L1998.5,130.8 L1999.4,130.8 L2000.3,130.8 L2001.1,130.8 L2002.0,130.8 L2002.9,130.8 L2003.7,130.8 L2004.6,130.8 L2005.5,130.8 L2006.3,130.8 L2007.2,130.8 L2008.1,130.8 L2008.9,130.8 L2009.8,130.8 L2010.7,130.8 L2011.5,130.8 L2012.4,130.8 L2013.3,130.8 L2014.2,130.8 L2015.0,130.8 L2015.9,130.8 L2016.8,130.8 L2017.6,130.8 L2018.5,130.8 L2019.4,130.8 L2020.2,130.8 L2021.1,130.8 L2022.0,130.8 L2022.8,130.8 L2023.7,130.8 L2024.6,130.8 L2025.4,130.8 L2026.3,130.8 L2027.2,130.8 L2028.0,130.8 L2028.9,130.8 L2029.8,130.8 L2030.6,130.8 L2031.5,130.8 L2032.4,130.8 L2033.2,130.8 L2034.1,130.8 L2035.0,130.8 L2035.8,130.8 L2036.7,130.8 L2037.6,130.8 L2038.4,130.8 L2039.3,130.8 L2040.2,130.8 L2041.0,130.8 L2041.9,130.8 L2042.8,130.8 L2043.6,130.8 L2044.5,130.8 L2045.4,130.8 L2046.2,130.8 L2047.1,130.8 L2048.0,130.8 L2048.8,130.8 L2049.7,130.8 L2050.6,130.8 L2051.4,131.5 L2052.3,133.8 L2053.2,136.4 L2054.0,139.0 L2054.9,142.9 L2055.8,148.7 L2056.6,154.5 L2057.5,161.0 L2058.4,170.1 L2059.2,179.2 L2060.1,193.5 L2061.0,215.5 L2061.8,243.0 L2062.7,261.3 L2063.6,263.3 L2064.4,278.0 L2065.3,279.7 L2066.2,265.1 L2067.0,264.6 L2067.9,276.7 L2068.8,289.3 L2069.6,266.6 L2070.5,263.5 L2071.4,271.8 L2072.2,311.5 L2073.1,271.2 L2074.0,266.1 L2074.9,271.8 L2075.7,310.1 L2076.6,277.5 L2077.5,269.9 L2078.3,273.9 L2079.2,296.5 L2080.1,287.2 L2080.9,275.6 L2081.8,277.1 L2082.7,292.5 L2083.5,298.6 L2084.4,280.7 L2085.3,279.7 L2086.1,290.7 L2087.0,315.9 L2087.9,286.4 L2088.7,282.7 L2089.6,290.5 L2090.5,354.4 L2091.3,292.8 L2092.2,286.3 L2093.1,291.1 L2093.9,318.3 L2094.8,300.3 L2095.7,290.1 L2096.5,292.4 L2097.4,310.2 L2098.3,309.5 L2099.1,294.4 L2100.0,294.4 L2100.9,307.0 L2101.7,322.6 L2102.6,299.3 L2103.5,296.8 L2104.3,305.6 L2105.2,351.4 L2106.1,304.9 L2106.9,299.5 L2107.8,305.2 L2108.7,339.9 L2109.5,311.0 L2110.4,302.4 L2111.3,305.6 L2112.1,326.5 L2113.0,318.7 L2113.9,305.9 L2114.7,306.6 L2115.6,321.0 L2116.5,328.9 L2117.3,309.8 L2118.2,308.2 L2119.1,318.3 L2119.9,346.3 L2120.8,314.0 L2121.7,309.6 L2122.5,316.4 L2123.4,367.7 L2124.3,318.8 L2125.1,311.5 L2126.0,315.6 L2126.9,340.7 L2127.7,325.0 L2128.6,314.1 L2129.5,315.8 L2130.3,332.3 L2131.2,333.1 L2132.1,317.0 L2132.9,316.1 L2133.8,327.6 L2134.7,345.2 L2135.6,320.0 L2136.4,316.7 L2137.3,324.6 L2138.2,379.5 L2139.0,323.7 L2139.9,317.6 L2140.8,322.7 L2141.6,354.3 L2142.5,328.7 L2143.4,319.4 L2144.2,321.9 L2145.1,341.4 L2146.0,335.2 L2146.8,321.5 L2147.7,321.6 L2148.6,334.9 L2149.4,344.5 L2150.3,323.9 L2151.2,321.6 L2152.0,330.8 L2152.9,362.3 L2153.8,326.9 L2154.6,322.0 L2155.5,328.2 L2156.4,372.4 L2157.2,331.1 L2158.1,323.3 L2159.0,327.0 L2159.8,350.5 L2160.7,337.0 L2161.6,325.5 L2162.4,326.7 L2163.3,342.3 L2164.2,345.0 L2165.0,328.0 L2165.9,326.9 L2166.8,337.9 L2167.6,358.1 L2168.5,331.3 L2169.4,327.7 L2170.2,335.2 L2171.1,410.4 L2172.0,335.2 L2172.8,328.7 L2173.7,333.4 L2174.6,362.6 L2175.4,340.1 L2176.3,330.3 L2177.2,332.5 L2178.0,350.9 L2178.9,346.8 L2179.8,332.4 L2180.6,332.2 L2181.5,345.0 L2182.4,356.7 L2183.2,335.0 L2184.1,332.4 L2185.0,341.2 L2185.8,377.3 L2186.7,338.2 L2187.6,333.0 L2188.4,338.8 L2189.3,378.3 L2190.2,342.6 L2191.0,334.4 L2191.9,337.7 L2192.8,359.8 L2193.7,348.5 L2194.5,336.3 L2195.4,337.1 L2196.3,352.0 L2197.1,356.6 L2198.0,338.6 L2198.9,337.1 L2199.7,347.5 L2200.6,370.4 L2201.5,341.6 L2202.3,337.6 L2203.2,344.6 L2204.1,420.2 L2204.9,345.5 L2205.8,338.6 L2206.7,343.0 L2207.5,370.3 L2208.4,350.6 L2209.3,340.3 L2210.1,342.1 L2211.0,359.7 L2211.9,357.5 L2212.7,342.4 L2213.6,342.0 L2214.5,354.1 L2215.3,368.1 L2216.2,345.2 L2217.1,342.2 L2217.9,350.7 L2218.8,392.4 L2219.7,348.5 L2220.5,342.9 L2221.4,348.3 L2222.3,384.1 L2223.1,352.9 L2224.0,344.2 L2224.9,347.0 L2225.7,368.0 L2226.6,358.7 L2227.5,345.8 L2228.3,346.3 L2229.2,360.5 L2230.1,367.0 L2230.9,348.0 L2231.8,346.1 L2232.7,355.9 L2233.5,381.9 L2234.4,350.7 L2235.3,346.3 L2236.1,352.9 L2237.0,409.1 L2237.9,354.5 L2238.7,347.2 L2239.6,351.2 L2240.5,376.7 L2241.3,359.6 L2242.2,348.7 L2243.1,350.2 L2243.9,366.9 L2244.8,366.5 L2245.7,350.6 L2246.5,349.8 L2247.4,361.3 L2248.3,377.5 L2249.1,353.0 L2250.0,349.6 L2250.9,357.5 L2251.7,406.9 L2252.6,356.0 L2253.5,350.0 L2254.4,355.0 L2255.2,387.8 L2256.1,360.3 L2257.0,351.1 L2257.8,353.6 L2258.7,373.4 L2259.6,366.1 L2260.4,352.7 L2261.3,352.8 L2262.2,366.3 L2263.0,374.8 L2263.9,354.7 L2264.8,352.5 L2265.6,361.8 L2266.5,391.3 L2267.4,357.4 L2268.2,352.6 L2269.1,358.9 L2270.0,406.1 L2270.8,361.3 L2271.7,353.6 L2272.6,357.2 L2273.4,381.2 L2274.3,366.5 L2275.2,355.0 L2276.0,356.1 L2276.9,372.0 L2277.8,373.4 L2278.6,356.6 L2279.5,355.3 L2280.4,366.3 L2281.2,384.9 L2282.1,358.8 L2283.0,355.5 L2283.8,363.9 L2284.7,426.4 L2285.6,363.4 L2286.4,357.0 L2287.3,361.6 L2288.2,391.9" stroke="#000000" stroke-width="5"/>
<path d="M236.5,1100.0 L237.4,794.6 L238.2,761.8 L239.1,781.4 L240.0,913.0 L240.8,812.0 L241.7,762.5 L242.6,769.9 L243.4,852.9 L244.3,836.3 L245.2,765.0 L246.0,761.3 L246.9,818.0 L247.8,877.0 L248.6,770.3 L249.5,755.0 L250.4,792.8 L251.2,973.0 L252.1,777.3 L253.0,749.7 L253.8,774.2 L254.7,948.8 L255.6,790.6 L256.4,749.0 L257.3,761.6 L258.2,861.3 L259.0,811.2 L259.9,750.4 L260.8,751.5 L261.6,818.3 L262.5,843.0 L263.4,754.4 L264.2,744.2 L265.1,790.0 L266.0,903.5 L266.9,761.1 L267.7,739.3 L268.6,769.7 L269.5,1065.7 L270.3,772.5 L271.2,737.5 L272.1,755.2 L272.9,877.9 L273.8,789.5 L274.7,737.7 L275.5,743.8 L276.4,822.8 L277.3,815.2 L278.1,740.4 L279.0,735.1 L279.9,789.2 L280.7,858.9 L281.6,745.8 L282.5,729.2 L283.3,765.9 L284.2,977.4 L285.1,755.4 L285.9,726.6 L286.8,749.5 L287.7,908.6 L288.5,769.7 L289.4,725.8 L290.3,736.8 L291.1,831.2 L292.0,791.0 L292.9,727.4 L293.7,727.1 L294.6,790.8 L295.5,824.9 L296.3,731.5 L297.2,719.8 L298.1,763.2 L298.9,892.2 L299.8,738.3 L300.7,714.9 L301.5,743.4 L302.4,982.3 L303.3,749.8 L304.1,712.9 L305.0,728.9 L305.9,843.9 L306.7,767.1 L307.6,712.9 L308.5,717.4 L309.3,792.5 L310.2,793.9 L311.1,715.4 L311.9,708.6 L312.8,760.1 L313.7,841.0 L314.5,720.7 L315.4,702.5 L316.3,737.0 L317.1,993.8 L318.0,730.1 L318.9,699.5 L319.7,720.7 L320.6,867.1 L321.5,744.6 L322.3,698.5 L323.2,707.9 L324.1,797.3 L324.9,766.5 L325.8,699.7 L326.7,697.9 L327.6,758.6 L328.4,802.1 L329.3,703.6 L330.2,690.3 L331.0,731.6 L331.9,878.5 L332.8,711.0 L333.6,686.3 L334.5,712.9 L335.4,919.1 L336.2,722.8 L337.1,683.7 L338.0,697.9 L338.8,806.0 L339.7,740.1 L340.6,683.1 L341.4,686.0 L342.3,757.4 L343.2,767.7 L344.0,685.0 L344.9,676.6 L345.8,725.6 L346.6,818.5 L347.5,690.1 L348.4,670.3 L349.2,702.7 L350.1,1054.4 L351.0,699.3 L351.8,666.7 L352.7,686.1 L353.6,821.5 L354.4,713.5 L355.3,665.1 L356.2,672.8 L357.0,757.4 L357.9,735.8 L358.8,665.7 L359.6,662.3 L360.5,719.8 L361.4,772.8 L362.2,668.2 L363.1,653.0 L364.0,691.8 L364.8,859.4 L365.7,674.3 L366.6,647.6 L367.4,672.1 L368.3,855.3 L369.2,685.4 L370.0,644.2 L370.9,656.7 L371.8,758.4 L372.6,702.8 L373.5,642.9 L374.4,644.1 L375.2,711.6 L376.1,730.8 L377.0,643.8 L377.8,633.7 L378.7,680.1 L379.6,786.0 L380.4,648.5 L381.3,627.2 L382.2,657.6 L383.0,1010.8 L383.9,657.4 L384.8,622.7 L385.6,640.1 L386.5,765.7 L387.4,670.5 L388.3,619.2 L389.1,624.9 L390.0,704.9 L390.9,692.0 L391.7,618.2 L392.6,613.0 L393.5,667.5 L394.3,730.8 L395.2,620.0 L396.1,603.1 L396.9,639.7 L397.8,833.6 L398.7,625.6 L399.5,597.1 L400.4,619.4 L401.3,785.1 L402.1,636.2 L403.0,592.7 L403.9,603.3 L404.7,699.0 L405.6,653.2 L406.5,590.3 L407.3,589.6 L408.2,653.8 L409.1,682.1 L409.9,590.3 L410.8,578.6 L411.7,622.0 L412.5,741.8 L413.4,592.6 L414.3,568.9 L415.1,596.4 L416.0,857.6 L416.9,598.4 L417.7,561.0 L418.6,575.9 L419.5,693.4 L420.3,609.9 L421.2,555.9 L422.1,559.5 L422.9,634.8 L423.8,630.5 L424.7,552.3 L425.5,544.5 L426.4,595.8 L427.3,669.5 L428.1,551.4 L429.0,532.4 L429.9,566.6 L430.7,796.4 L431.6,554.4 L432.5,522.9 L433.3,543.3 L434.2,694.4 L435.1,562.3 L435.9,515.6 L436.8,523.7 L437.7,613.5 L438.5,576.0 L439.4,508.8 L440.3,505.7 L441.1,565.8 L442.0,602.6 L442.9,504.8 L443.7,490.4 L444.6,531.0 L445.5,666.6 L446.3,504.0 L447.2,477.6 L448.1,503.3 L449.0,721.9 L449.8,505.8 L450.7,464.4 L451.6,480.3 L452.4,588.6 L453.3,514.3 L454.2,455.4 L455.0,455.9 L455.9,525.9 L456.8,527.6 L457.6,441.1 L458.5,427.6 L459.4,471.9 L460.2,552.7 L461.1,422.0 L462.0,395.5 L462.8,421.7 L463.7,706.1 L464.6,402.9 L465.4,366.1 L466.3,381.6 L467.2,517.7 L468.0,394.4 L468.9,330.5 L469.8,322.6 L470.6,387.0 L471.5,328.4 L472.4,213.6 L473.2,159.7 L474.1,124.6 L475.0,121.7 L475.8,123.5 L476.7,128.1 L477.6,132.9 L478.4,135.7 L479.3,135.7 L480.2,133.5 L481.0,130.5 L481.9,128.3 L482.8,127.8 L483.6,128.9 L484.5,131.0 L485.4,132.8 L486.2,133.5 L487.1,132.9 L488.0,131.3 L488.8,129.6 L489.7,128.7 L490.6,129.0 L491.4,130.1 L492.3,131.5 L493.2,132.5 L494.0,132.5 L494.9,131.6 L495.8,130.3 L496.6,129.2 L497.5,129.0 L498.4,129.6 L499.2,130.8 L500.1,131.9 L501.0,132.4 L501.8,132.4 L502.7,132.1 L503.6,131.1 L504.4,129.8 L505.3,129.0 L506.2,129.1 L507.0,130.1 L507.9,131.4 L508.8,132.4 L509.7,132.6 L510.5,131.8 L511.4,130.4 L512.3,129.1 L513.1,128.7 L514.0,129.4 L514.9,130.9 L515.7,132.6 L516.6,133.5 L517.5,133.1 L518.3,131.4 L519.2,129.3 L520.1,127.9 L520.9,128.0 L521.8,129.9 L522.7,132.9 L523.5,135.4 L524.4,135.9 L525.3,133.7 L526.1,129.1 L527.0,124.2 L527.9,121.7 L528.7,123.6 L529.6,130.4 L530.5,197.6 L531.3,196.1 L532.2,241.9 L533.1,394.1 L533.9,332.8 L534.8,308.0 L535.7,338.0 L536.5,436.9 L537.4,449.3 L538.3,390.7 L539.1,392.7 L540.0,453.9 L540.9,530.7 L541.7,424.7 L542.6,415.2 L543.5,459.0 L544.3,674.8 L545.2,456.8 L546.1,432.1 L546.9,459.4 L547.8,622.9 L548.7,484.3 L549.5,444.6 L550.4,459.9 L551.3,558.7 L552.1,522.9 L553.0,463.5 L553.9,467.3 L554.7,535.1 L555.6,573.3 L556.5,484.2 L557.3,476.8 L558.2,524.7 L559.1,657.9 L559.9,508.1 L560.8,488.8 L561.7,521.6 L562.5,764.7 L563.4,536.2 L564.3,503.2 L565.1,523.2 L566.0,641.5 L566.9,567.9 L567.8,516.8 L568.6,524.4 L569.5,602.7 L570.4,607.4 L571.2,532.2 L572.1,528.7 L573.0,583.5 L573.8,667.6 L574.7,550.5 L575.6,535.5 L576.4,573.6 L577.3,833.3 L578.2,572.3 L579.0,544.7 L579.9,568.3 L580.8,717.1 L581.6,597.2 L582.5,553.6 L583.4,565.7 L584.2,657.8 L585.1,629.7 L586.0,565.7 L586.8,567.0 L587.7,630.4 L588.6,676.6 L589.4,581.4 L590.3,571.2 L591.2,615.0 L592.0,764.0 L592.9,598.3 L593.8,576.1 L594.6,604.7 L595.5,813.0 L596.4,619.1 L597.2,582.5 L598.1,599.5 L599.0,710.4 L599.8,647.2 L600.7,593.1 L601.6,598.5 L602.4,672.4 L603.3,685.4 L604.2,605.5 L605.0,599.8 L605.9,651.1 L606.8,746.3 L607.6,620.7 L608.5,603.6 L609.4,638.6 L610.2,992.3 L611.1,639.3 L612.0,609.4 L612.8,631.0 L613.7,768.9 L614.6,663.2 L615.4,617.2 L616.3,627.4 L617.2,714.6 L618.0,695.6 L618.9,628.2 L619.8,627.3 L620.6,687.3 L621.5,743.1 L622.4,641.6 L623.2,629.3 L624.1,670.9 L625.0,841.0 L625.8,658.0 L626.7,633.9 L627.6,661.1 L628.5,847.0 L629.3,679.3 L630.2,640.3 L631.1,655.3 L631.9,759.3 L632.8,706.0 L633.7,648.1 L634.5,651.2 L635.4,720.5 L636.3,741.3 L637.1,655.7 L638.0,647.0 L638.9,693.6 L639.7,798.8 L640.6,660.6 L641.5,638.5 L642.3,668.6 L643.2,1021.5 L644.1,667.8 L644.9,633.3 L645.8,651.0 L646.7,777.2 L647.5,682.2 L648.4,631.3 L649.3,637.6 L650.1,718.2 L651.0,705.8 L651.9,632.5 L652.7,627.9 L653.6,683.2 L654.5,747.2 L655.3,637.1 L656.2,621.0 L657.1,658.3 L657.9,852.8 L658.8,645.2 L659.7,617.2 L660.5,640.6 L661.4,806.8 L662.3,658.4 L663.1,615.4 L664.0,626.8 L664.9,723.3 L665.7,678.0 L666.6,615.6 L667.5,615.8 L668.3,680.7 L669.2,709.6 L670.1,618.3 L670.9,607.0 L671.8,651.4 L672.7,772.4 L673.5,624.6 L674.4,602.0 L675.3,630.8 L676.1,892.6 L677.0,634.2 L677.9,597.7 L678.7,613.7 L679.6,732.0 L680.5,649.2 L681.3,595.8 L682.2,600.5 L683.1,676.8 L683.9,673.2 L684.8,596.1 L685.7,589.6 L686.5,641.9 L687.4,716.4 L688.3,599.0 L689.2,580.7 L690.0,615.4 L690.9,846.0 L691.8,605.4 L692.6,575.3 L693.5,596.4 L694.4,748.2 L695.2,617.2 L696.1,571.5 L697.0,580.8 L697.8,671.5 L698.7,635.5 L699.6,569.8 L700.4,567.7 L701.3,628.7 L702.2,666.3 L703.0,569.3 L703.9,555.8 L704.8,597.4 L705.6,734.1 L706.5,573.2 L707.4,548.1 L708.2,574.5 L709.1,794.0 L710.0,580.7 L710.8,541.9 L711.7,555.6 L712.6,666.4 L713.4,594.2 L714.3,537.4 L715.2,539.6 L716.0,611.1 L716.9,615.8 L717.8,534.1 L718.6,525.5 L719.5,574.5 L720.4,660.1 L721.2,534.7 L722.1,514.4 L723.0,546.9 L723.8,837.7 L724.7,538.9 L725.6,505.8 L726.4,524.4 L727.3,663.5 L728.2,546.6 L729.0,497.5 L729.9,504.3 L730.8,589.6 L731.6,561.7 L732.5,491.7 L733.4,487.3 L734.2,544.8 L735.1,591.6 L736.0,488.7 L736.8,473.1 L737.7,511.9 L738.6,666.8 L739.4,488.6 L740.3,460.5 L741.2,484.4 L742.0,676.3 L742.9,492.1 L743.8,449.8 L744.6,461.3 L745.5,564.4 L746.4,501.9 L747.2,445.5 L748.1,445.7 L749.0,513.4 L749.9,526.5 L750.7,439.9 L751.6,424.8 L752.5,465.4 L753.3,557.6 L754.2,417.4 L755.1,389.5 L755.9,414.1 L756.8,1100.0 L757.7,395.9 L758.5,354.0 L759.4,364.5 L760.3,487.3 L761.1,377.8 L762.0,315.5 L762.9,301.8 L763.7,363.8 L764.6,325.5 L765.5,227.6 L766.3,178.0 L767.2,125.4 L768.1,122.1 L768.9,123.4 L769.8,127.7 L770.7,132.3 L771.5,135.2 L772.4,135.5 L773.3,133.6 L774.1,130.9 L775.0,128.8 L775.9,128.2 L776.7,129.1 L777.6,130.8 L778.5,132.4 L779.3,133.0 L780.2,132.6 L781.1,131.4 L781.9,130.1 L782.8,129.4 L783.7,129.5 L784.5,130.3 L785.4,131.2 L786.3,131.9 L787.1,131.9 L788.0,131.4 L788.9,130.6 L789.7,130.0 L790.6,129.8 L791.5,130.2 L792.3,130.7 L793.2,131.3 L794.1,131.5 L794.9,131.3 L795.8,130.9 L796.7,130.4 L797.5,130.2 L798.4,130.2 L799.3,130.6 L800.1,130.9 L801.0,131.2 L801.9,131.2 L802.7,130.9 L803.6,130.7 L804.5,130.4 L805.3,130.4 L806.2,130.5 L807.1,130.8 L807.9,131.0 L808.8,131.0 L809.7,131.0 L810.6,130.8 L811.4,130.6 L812.3,130.5 L813.2,130.6 L814.0,130.7 L814.9,130.8 L815.8,130.9 L816.6,130.9 L817.5,130.8 L818.4,130.7 L819.2,130.6 L820.1,130.6 L821.0,130.7 L821.8,130.8 L822.7,130.9 L823.6,130.9 L824.4,130.9 L825.3,130.9 L826.2,130.8 L827.0,130.7 L827.9,130.6 L828.8,130.6 L829.6,130.6 L830.5,130.8 L831.4,130.9 L832.2,130.9 L833.1,130.9 L834.0,130.8 L834.8,130.6 L835.7,130.5 L836.6,130.5 L837.4,130.7 L838.3,130.9 L839.2,131.0 L840.0,131.0 L840.9,130.9 L841.8,130.7 L842.6,130.5 L843.5,130.4 L844.4,130.5 L845.2,130.8 L846.1,131.1 L847.0,131.2 L847.8,131.1 L848.7,130.8 L849.6,130.4 L850.4,130.2 L851.3,130.2 L852.2,130.6 L853.0,131.1 L853.9,131.4 L854.8,131.4 L855.6,131.1 L856.5,130.5 L857.4,130.0 L858.2,129.9 L859.1,130.2 L860.0,130.9 L860.8,131.7 L861.7,132.0 L862.6,131.7 L863.4,130.8 L864.3,129.9 L865.2,129.4 L866.0,129.6 L866.9,130.6 L867.8,131.9 L868.6,132.9 L869.5,132.9 L870.4,131.8 L871.3,130.1 L872.1,128.6 L873.0,128.3 L873.9,129.5 L874.7,132.0 L875.6,134.5 L876.5,135.7 L877.3,134.4 L878.2,130.6 L879.1,125.7 L879.9,122.4 L880.8,122.8 L881.7,128.1 L882.5,185.5 L883.4,214.3 L884.3,283.5 L885.1,478.0 L886.0,317.9 L886.9,316.1 L887.7,354.9 L888.6,549.7 L889.5,391.2 L890.3,361.3 L891.2,385.5 L892.1,498.8 L892.9,450.1 L893.8,397.2 L894.7,405.4 L895.5,480.2 L896.4,506.6 L897.3,426.7 L898.1,423.6 L899.0,475.7 L899.9,587.2 L900.7,454.9 L901.6,438.9 L902.5,471.1 L903.3,830.0 L904.2,481.8 L905.1,452.5 L905.9,475.2 L906.8,605.6 L907.7,514.6 L908.5,467.5 L909.4,477.7 L910.3,562.1 L911.1,553.6 L912.0,484.1 L912.9,483.1 L913.7,541.9 L914.6,609.2 L915.5,502.5 L916.3,489.8 L917.2,530.5 L918.1,728.4 L918.9,523.8 L919.8,498.6 L920.7,525.4 L921.5,694.9 L922.4,549.7 L923.3,509.8 L924.1,524.5 L925.0,624.5 L925.9,582.5 L926.7,523.2 L927.6,526.0 L928.5,593.4 L929.4,624.9 L930.2,536.3 L931.1,528.2 L932.0,575.1 L932.8,698.1 L933.7,552.9 L934.6,532.8 L935.4,564.1 L936.3,828.4 L937.2,572.1 L938.0,538.9 L938.9,557.9 L939.8,678.8 L940.6,598.8 L941.5,548.1 L942.4,555.6 L943.2,634.8 L944.1,634.1 L945.0,560.2 L945.8,556.6 L946.7,611.7 L947.6,689.0 L948.4,574.8 L949.3,559.9 L950.2,597.5 L951.0,830.7 L951.9,593.0 L952.8,565.8 L953.6,589.9 L954.5,744.1 L955.4,615.5 L956.2,572.8 L957.1,585.2 L958.0,679.4 L958.8,646.4 L959.7,583.8 L960.6,585.1 L961.4,649.7 L962.3,690.8 L963.2,597.5 L964.0,587.7 L964.9,632.1 L965.8,771.5 L966.6,612.9 L967.5,590.4 L968.4,619.5 L969.2,841.7 L970.1,630.4 L971.0,594.5 L971.8,611.7 L972.7,725.4 L973.6,656.3 L974.4,602.8 L975.3,608.5 L976.2,683.8 L977.0,691.9 L977.9,613.6 L978.8,608.2 L979.6,660.3 L980.5,748.8 L981.4,626.2 L982.2,608.8 L983.1,643.9 L984.0,937.3 L984.8,642.0 L985.7,612.0 L986.6,633.2 L987.4,775.0 L988.3,661.0 L989.2,614.9 L990.1,624.5 L990.9,712.5 L991.8,687.1 L992.7,619.3 L993.5,617.0 L994.4,676.4 L995.3,725.0 L996.1,623.8 L997.0,609.7 L997.9,649.6 L998.7,806.3 L999.6,630.3 L1000.5,604.4 L1001.3,630.3 L1002.2,824.1 L1003.1,642.2 L1003.9,602.3 L1004.8,615.8 L1005.7,720.9 L1006.5,660.4 L1007.4,602.1 L1008.3,604.4 L1009.1,674.1 L1010.0,689.0 L1010.9,604.2 L1011.7,595.0 L1012.6,642.7 L1013.5,742.1 L1014.3,609.2 L1015.2,588.5 L1016.1,620.0 L1016.9,1100.0 L1017.8,618.3 L1018.7,584.8 L1019.5,603.6 L1020.4,734.4 L1021.3,633.1 L1022.1,583.4 L1023.0,590.7 L1023.9,673.6 L1024.7,656.8 L1025.6,585.4 L1026.5,581.6 L1027.3,638.2 L1028.2,697.0 L1029.1,589.9 L1029.9,574.4 L1030.8,612.7 L1031.7,793.5 L1032.5,598.4 L1033.4,571.2 L1034.3,595.6 L1035.1,769.8 L1036.0,611.0 L1036.9,568.6 L1037.7,580.2 L1038.6,679.2 L1039.5,628.5 L1040.3,567.2 L1041.2,567.6 L1042.1,633.5 L1042.9,657.4 L1043.8,568.1 L1044.7,557.3 L1045.5,602.5 L1046.4,715.6 L1047.3,573.0 L1048.1,551.0 L1049.0,579.9 L1049.9,875.1 L1050.8,581.1 L1051.6,545.2 L1052.5,561.7 L1053.4,683.2 L1054.2,594.1 L1055.1,541.6 L1056.0,546.4 L1056.8,624.4 L1057.7,616.0 L1058.6,540.4 L1059.4,534.4 L1060.3,587.5 L1061.2,656.0 L1062.0,541.8 L1062.9,524.1 L1063.8,559.1 L1064.6,769.4 L1065.5,546.6 L1066.4,516.7 L1067.2,538.0 L1068.1,695.7 L1069.0,555.7 L1069.8,511.0 L1070.7,520.5 L1071.6,613.7 L1072.4,572.5 L1073.3,508.0 L1074.2,506.1 L1075.0,568.4 L1075.9,601.1 L1076.8,506.4 L1077.6,493.5 L1078.5,535.8 L1079.4,663.6 L1080.2,508.2 L1081.1,483.5 L1082.0,510.6 L1082.8,748.3 L1083.7,514.2 L1084.6,475.7 L1085.4,490.2 L1086.3,604.0 L1087.2,525.4 L1088.0,469.1 L1088.9,471.5 L1089.8,544.6 L1090.6,544.1 L1091.5,463.6 L1092.4,454.9 L1093.2,504.5 L1094.1,583.5 L1095.0,461.2 L1095.8,441.0 L1096.7,473.7 L1097.6,728.4 L1098.4,462.4 L1099.3,433.4 L1100.2,452.4 L1101.0,596.7 L1101.9,471.9 L1102.8,423.4 L1103.6,427.3 L1104.5,510.6 L1105.4,473.7 L1106.2,400.8 L1107.1,392.9 L1108.0,447.4 L1108.8,482.3 L1109.7,375.3 L1110.6,353.5 L1111.5,386.4 L1112.3,524.6 L1113.2,348.0 L1114.1,306.8 L1114.9,313.5 L1115.8,499.7 L1116.7,282.7 L1117.5,221.5 L1118.4,198.5 L1119.3,127.1 L1120.1,122.5 L1121.0,122.7 L1121.9,126.4 L1122.7,131.2 L1123.6,134.7 L1124.5,135.6 L1125.3,134.2 L1126.2,131.6 L1127.1,129.3 L1127.9,128.3 L1128.8,128.8 L1129.7,130.4 L1130.5,132.0 L1131.4,132.9 L1132.3,132.8 L1133.1,131.7 L1134.0,130.5 L1134.9,129.6 L1135.7,129.5 L1136.6,130.1 L1137.5,131.0 L1138.3,131.7 L1139.2,131.9 L1140.1,131.5 L1140.9,130.8 L1141.8,130.2 L1142.7,129.9 L1143.5,130.1 L1144.4,130.6 L1145.3,131.1 L1146.1,131.4 L1147.0,131.3 L1147.9,131.0 L1148.7,130.6 L1149.6,130.3 L1150.5,130.3 L1151.3,130.5 L1152.2,130.8 L1153.1,131.0 L1153.9,131.1 L1154.8,130.9 L1155.7,130.7 L1156.5,130.6 L1157.4,130.5 L1158.3,130.6 L1159.1,130.7 L1160.0,130.8 L1160.9,130.9 L1161.7,130.8 L1162.6,130.8 L1163.5,130.7 L1164.3,130.7 L1165.2,130.7 L1166.1,130.8 L1166.9,130.8 L1167.8,130.7 L1168.7,130.7 L1169.5,130.7 L1170.4,130.8 L1171.3,130.8 L1172.2,130.9 L1173.0,130.9 L1173.9,130.8 L1174.8,130.7 L1175.6,130.6 L1176.5,130.6 L1177.4,130.7 L1178.2,130.9 L1179.1,131.0 L1180.0,131.0 L1180.8,130.9 L1181.7,130.7 L1182.6,130.6 L1183.4,130.5 L1184.3,130.6 L1185.2,130.8 L1186.0,131.0 L1186.9,131.1 L1187.8,131.0 L1188.6,130.8 L1189.5,130.6 L1190.4,130.5 L1191.2,130.5 L1192.1,130.7 L1193.0,131.0 L1193.8,131.1 L1194.7,131.1 L1195.6,130.9 L1196.4,130.7 L1197.3,130.5 L1198.2,130.5 L1199.0,130.6 L1199.9,130.9 L1200.8,131.1 L1201.6,131.2 L1202.5,131.0 L1203.4,130.8 L1204.2,130.5 L1205.1,130.4 L1206.0,130.5 L1206.8,130.8 L1207.7,131.0 L1208.6,131.2 L1209.4,131.1 L1210.3,130.9 L1211.2,130.6 L1212.0,130.4 L1212.9,130.4 L1213.8,130.6 L1214.6,130.9 L1215.5,131.2 L1216.4,131.2 L1217.2,131.0 L1218.1,130.7 L1219.0,130.5 L1219.8,130.4 L1220.7,130.5 L1221.6,130.8 L1222.4,131.1 L1223.3,131.2 L1224.2,131.1 L1225.0,130.9 L1225.9,130.6 L1226.8,130.4 L1227.6,130.4 L1228.5,130.6 L1229.4,131.0 L1230.3,131.2 L1231.1,131.2 L1232.0,131.0 L1232.9,130.7 L1233.7,130.4 L1234.6,130.4 L1235.5,130.4 L1236.3,130.5 L1237.2,130.8 L1238.1,131.1 L1238.9,131.2 L1239.8,131.1 L1240.7,130.8 L1241.5,130.5 L1242.4,130.4 L1243.3,130.4 L1244.1,130.7 L1245.0,131.0 L1245.9,131.2 L1246.7,131.2 L1247.6,131.0 L1248.5,130.7 L1249.3,130.4 L1250.2,130.4 L1251.1,130.6 L1251.9,130.9 L1252.8,131.1 L1253.7,131.2 L1254.5,131.1 L1255.4,130.8 L1256.3,130.5 L1257.1,130.4 L1258.0,130.5 L1258.9,130.7 L1259.7,131.0 L1260.6,131.2 L1261.5,131.1 L1262.3,130.9 L1263.2,130.6 L1264.1,130.4 L1264.9,130.4 L1265.8,130.6 L1266.7,130.9 L1267.5,131.1 L1268.4,131.2 L1269.3,131.0 L1270.1,130.8 L1271.0,130.5 L1271.9,130.4 L1272.7,130.5 L1273.6,130.7 L1274.5,131.0 L1275.3,131.1 L1276.2,131.1 L1277.1,130.9 L1277.9,130.6 L1278.8,130.5 L1279.7,130.5 L1280.5,130.7 L1281.4,130.9 L1282.3,131.0 L1283.1,131.1 L1284.0,130.9 L1284.9,130.7 L1285.7,130.6 L1286.6,130.5 L1287.5,130.6 L1288.3,130.8 L1289.2,130.9 L1290.1,131.0 L1291.0,130.9 L1291.8,130.8 L1292.7,130.7 L1293.6,130.6 L1294.4,130.6 L1295.3,130.7 L1296.2,130.8 L1297.0,130.9 L1297.9,130.9 L1298.8,130.8 L1299.6,130.8 L1300.5,130.7 L1301.4,130.7 L1302.2,130.7 L1303.1,130.8 L1304.0,130.8 L1304.8,130.7 L1305.7,130.7 L1306.6,130.8 L1307.4,130.8 L1308.3,130.9 L1309.2,130.9 L1310.0,130.8 L1310.9,130.7 L1311.8,130.6 L1312.6,130.5 L1313.5,130.6 L1314.4,130.8 L1315.2,131.0 L1316.1,131.1 L1317.0,131.0 L1317.8,130.7 L1318.7,130.4 L1319.6,130.3 L1320.4,130.4 L1321.3,130.7 L1322.2,131.1 L1323.0,131.4 L1323.9,131.3 L1324.8,130.9 L1325.6,130.4 L1326.5,130.0 L1327.4,130.0 L1328.2,130.4 L1329.1,131.1 L1330.0,131.7 L1330.8,131.9 L1331.7,131.5 L1332.6,130.6 L1333.4,129.8 L1334.3,129.4 L1335.2,129.8 L1336.0,130.9 L1336.9,132.2 L1337.8,132.9 L1338.6,132.7 L1339.5,131.4 L1340.4,129.7 L1341.2,128.4 L1342.1,128.5 L1343.0,130.1 L1343.8,132.7 L1344.7,135.0 L1345.6,135.6 L1346.4,133.6 L1347.3,129.3 L1348.2,124.6 L1349.0,122.1 L1349.9,123.8 L1350.8,130.2 L1351.7,199.0 L1352.5,222.4 L1353.4,297.6 L1354.3,399.3 L1355.1,298.2 L1356.0,299.2 L1356.9,353.1 L1357.7,624.5 L1358.6,374.3 L1359.5,357.1 L1360.3,392.1 L1361.2,551.1 L1362.1,435.6 L1362.9,396.4 L1363.8,412.8 L1364.7,509.3 L1365.5,485.6 L1366.4,426.0 L1367.3,428.9 L1368.1,493.6 L1369.0,541.3 L1369.9,446.9 L1370.7,437.9 L1371.6,479.4 L1372.5,630.3 L1373.3,466.4 L1374.2,445.3 L1375.1,476.1 L1375.9,686.2 L1376.8,493.5 L1377.7,457.9 L1378.5,475.9 L1379.4,587.8 L1380.3,525.7 L1381.1,472.4 L1382.0,479.0 L1382.9,554.1 L1383.7,568.2 L1384.6,489.4 L1385.5,484.9 L1386.3,537.7 L1387.2,634.3 L1388.1,509.6 L1388.9,492.7 L1389.8,528.3 L1390.7,882.8 L1391.5,530.2 L1392.4,500.4 L1393.3,522.8 L1394.1,661.1 L1395.0,555.9 L1395.9,510.1 L1396.7,520.7 L1397.6,608.7 L1398.5,590.1 L1399.3,523.3 L1400.2,523.2 L1401.1,583.8 L1401.9,639.4 L1402.8,537.9 L1403.7,525.7 L1404.5,567.1 L1405.4,736.9 L1406.3,553.7 L1407.1,529.3 L1408.0,555.9 L1408.9,740.9 L1409.7,573.1 L1410.6,534.2 L1411.5,549.5 L1412.4,654.0 L1413.2,601.0 L1414.1,543.7 L1415.0,547.3 L1415.8,617.6 L1416.7,639.6 L1417.6,555.3 L1418.4,547.8 L1419.3,596.6 L1420.2,704.9 L1421.0,569.6 L1421.9,550.7 L1422.8,583.5 L1423.6,939.0 L1424.5,587.8 L1425.4,555.7 L1426.2,575.8 L1427.1,704.5 L1428.0,611.9 L1428.8,563.3 L1429.7,571.9 L1430.6,654.7 L1431.4,644.5 L1432.3,573.2 L1433.2,570.2 L1434.0,627.0 L1434.9,692.3 L1435.8,584.0 L1436.6,572.4 L1437.5,613.4 L1438.4,810.0 L1439.2,604.1 L1440.1,577.4 L1441.0,602.6 L1441.8,770.7 L1442.7,623.9 L1443.6,582.4 L1444.4,595.6 L1445.3,694.7 L1446.2,652.0 L1447.0,592.3 L1447.9,595.1 L1448.8,662.8 L1449.6,694.5 L1450.5,606.1 L1451.4,597.7 L1452.2,645.0 L1453.1,768.6 L1454.0,623.1 L1454.8,600.6 L1455.7,630.0 L1456.6,892.5 L1457.4,634.3 L1458.3,598.1 L1459.2,614.7 L1460.0,733.5 L1460.9,651.0 L1461.8,597.9 L1462.6,603.0 L1463.5,680.4 L1464.4,677.5 L1465.2,600.9 L1466.1,594.8 L1467.0,647.4 L1467.8,722.3 L1468.7,605.2 L1469.6,587.3 L1470.4,622.4 L1471.3,853.5 L1472.2,613.4 L1473.1,583.8 L1473.9,606.0 L1474.8,758.3 L1475.7,627.7 L1476.5,582.6 L1477.4,592.6 L1478.3,684.2 L1479.1,648.4 L1480.0,583.1 L1480.9,581.8 L1481.7,643.8 L1482.6,682.4 L1483.5,586.4 L1484.3,573.7 L1485.2,616.1 L1486.1,753.6 L1486.9,593.3 L1487.8,569.3 L1488.7,596.6 L1489.5,817.5 L1490.4,604.8 L1491.3,566.8 L1492.1,581.9 L1493.0,693.3 L1493.9,622.1 L1494.7,566.5 L1495.6,570.2 L1496.5,643.3 L1497.3,649.1 L1498.2,568.3 L1499.1,560.5 L1499.9,610.5 L1500.8,697.0 L1501.7,572.5 L1502.5,553.3 L1503.4,586.6 L1504.3,878.4 L1505.1,581.1 L1506.0,549.4 L1506.9,569.5 L1507.7,710.1 L1508.6,595.0 L1509.5,547.6 L1510.3,556.0 L1511.2,642.8 L1512.1,616.4 L1512.9,547.9 L1513.8,545.0 L1514.7,603.7 L1515.5,651.8 L1516.4,550.2 L1517.3,535.9 L1518.1,575.9 L1519.0,732.6 L1519.9,556.9 L1520.7,531.2 L1521.6,556.6 L1522.5,750.4 L1523.3,568.0 L1524.2,527.0 L1525.1,539.5 L1525.9,643.3 L1526.8,582.0 L1527.7,522.8 L1528.5,523.9 L1529.4,592.7 L1530.3,606.9 L1531.1,521.6 L1532.0,511.8 L1532.9,558.7 L1533.8,657.6 L1534.6,524.4 L1535.5,503.2 L1536.4,533.7 L1537.2,1100.0 L1538.1,530.0 L1539.0,495.5 L1539.8,512.5 L1540.7,642.8 L1541.6,540.8 L1542.4,490.3 L1543.3,496.0 L1544.2,577.2 L1545.0,559.4 L1545.9,486.8 L1546.8,481.7 L1547.6,537.2 L1548.5,594.9 L1549.4,486.2 L1550.2,468.9 L1551.1,505.5 L1552.0,684.1 L1552.8,486.4 L1553.7,456.8 L1554.6,479.2 L1555.4,651.7 L1556.3,491.2 L1557.2,447.1 L1558.0,457.3 L1558.9,554.8 L1559.8,502.7 L1560.6,441.4 L1561.5,442.6 L1562.4,506.6 L1563.2,528.4 L1564.1,437.0 L1565.0,424.2 L1565.8,465.4 L1566.7,573.6 L1567.6,425.8 L1568.4,398.5 L1569.3,423.4 L1570.2,714.0 L1571.0,414.9 L1571.9,371.6 L1572.8,381.1 L1573.6,495.9 L1574.5,399.5 L1575.4,339.7 L1576.2,337.6 L1577.1,407.6 L1578.0,385.6 L1578.8,296.4 L1579.7,276.7 L1580.6,316.3 L1581.4,370.0 L1582.3,239.5 L1583.2,205.2 L1584.0,129.0 L1584.9,123.2 L1585.8,122.2 L1586.6,125.3 L1587.5,130.1 L1588.4,134.0 L1589.2,135.7 L1590.1,134.7 L1591.0,132.3 L1591.9,129.8 L1592.7,128.4 L1593.6,128.6 L1594.5,129.9 L1595.3,131.6 L1596.2,132.8 L1597.1,132.9 L1597.9,132.0 L1598.8,130.8 L1599.7,129.7 L1600.5,129.4 L1601.4,129.9 L1602.3,130.7 L1603.1,131.6 L1604.0,131.9 L1604.9,131.7 L1605.7,131.0 L1606.6,130.3 L1607.5,130.0 L1608.3,130.0 L1609.2,130.5 L1610.1,131.0 L1610.9,131.3 L1611.8,131.3 L1612.7,131.1 L1613.5,130.7 L1614.4,130.4 L1615.3,130.3 L1616.1,130.5 L1617.0,130.7 L1617.9,131.0 L1618.7,131.1 L1619.6,131.0 L1620.5,130.8 L1621.3,130.6 L1622.2,130.5 L1623.1,130.6 L1623.9,130.7 L1624.8,130.8 L1625.7,130.9 L1626.5,130.9 L1627.4,130.8 L1628.3,130.7 L1629.1,130.7 L1630.0,130.7 L1630.9,130.8 L1631.7,130.8 L1632.6,130.7 L1633.5,130.7 L1634.3,130.7 L1635.2,130.8 L1636.1,130.8 L1636.9,130.9 L1637.8,130.9 L1638.7,130.8 L1639.5,130.7 L1640.4,130.6 L1641.3,130.6 L1642.1,130.7 L1643.0,130.8 L1643.9,131.0 L1644.7,131.0 L1645.6,130.9 L1646.5,130.7 L1647.3,130.6 L1648.2,130.5 L1649.1,130.6 L1649.9,130.8 L1650.8,131.0 L1651.7,131.1 L1652.6,131.0 L1653.4,130.8 L1654.3,130.6 L1655.2,130.5 L1656.0,130.5 L1656.9,130.7 L1657.8,130.9 L1658.6,131.1 L1659.5,131.1 L1660.4,131.0 L1661.2,130.7 L1662.1,130.5 L1663.0,130.4 L1663.8,130.6 L1664.7,130.8 L1665.6,131.1 L1666.4,131.2 L1667.3,131.1 L1668.2,130.8 L1669.0,130.6 L1669.9,130.4 L1670.8,130.5 L1671.6,130.7 L1672.5,131.0 L1673.4,131.2 L1674.2,131.2 L1675.1,131.0 L1676.0,130.7 L1676.8,130.4 L1677.7,130.4 L1678.6,130.5 L1679.4,130.8 L1680.3,131.1 L1681.2,131.2 L1682.0,131.1 L1682.9,130.8 L1683.8,130.5 L1684.6,130.4 L1685.5,130.4 L1686.4,130.7 L1687.2,131.0 L1688.1,131.2 L1689.0,131.2 L1689.8,131.0 L1690.7,130.6 L1691.6,130.4 L1692.4,130.4 L1693.3,130.6 L1694.2,130.9 L1695.0,131.2 L1695.9,131.3 L1696.8,131.1 L1697.6,130.8 L1698.5,130.5 L1699.4,130.3 L1700.2,130.4 L1701.1,130.7 L1702.0,131.1 L1702.8,131.3 L1703.7,131.2 L1704.6,130.9 L1705.4,130.6 L1706.3,130.4 L1707.2,130.4 L1708.0,130.6 L1708.9,130.9 L1709.8,131.2 L1710.6,131.3 L1711.5,131.1 L1712.4,130.7 L1713.3,130.4 L1714.1,130.3 L1715.0,130.5 L1715.9,130.8 L1716.7,131.1 L1717.6,131.3 L1718.5,131.2 L1719.3,130.9 L1720.2,130.6 L1721.1,130.3 L1721.9,130.4 L1722.8,130.6 L1723.7,131.0 L1724.5,131.2 L1725.4,131.3 L1726.3,131.1 L1727.1,130.7 L1728.0,130.4 L1728.9,130.3 L1729.7,130.5 L1730.6,130.8 L1731.5,131.1 L1732.3,131.3 L1733.2,131.2 L1734.1,130.9 L1734.9,130.5 L1735.8,130.3 L1736.7,130.4 L1737.5,130.6 L1738.4,131.0 L1739.3,131.3 L1740.1,131.3 L1741.0,131.0 L1741.9,130.7 L1742.7,130.4 L1743.6,130.3 L1744.5,130.5 L1745.3,130.8 L1746.2,131.2 L1747.1,131.3 L1747.9,131.2 L1748.8,130.8 L1749.7,130.5 L1750.5,130.3 L1751.4,130.4 L1752.3,130.7 L1753.1,131.0 L1754.0,131.3 L1754.9,131.3 L1755.7,131.0 L1756.6,130.6 L1757.5,130.4 L1758.3,130.3 L1759.2,130.5 L1760.1,130.9 L1760.9,131.2 L1761.8,131.3 L1762.7,131.1 L1763.5,130.8 L1764.4,130.5 L1765.3,130.3 L1766.1,130.4 L1767.0,130.7 L1767.9,131.1 L1768.7,131.3 L1769.6,131.2 L1770.5,131.0 L1771.3,130.6 L1772.2,130.3 L1773.1,130.3 L1774.0,130.6 L1774.8,130.9 L1775.7,131.2 L1776.6,131.3 L1777.4,131.1 L1778.3,130.8 L1779.2,130.4 L1780.0,130.3 L1780.9,130.4 L1781.8,130.7 L1782.6,131.1 L1783.5,131.3 L1784.4,131.2 L1785.2,130.9 L1786.1,130.6 L1787.0,130.3 L1787.8,130.3 L1788.7,130.6 L1789.6,131.0 L1790.4,131.2 L1791.3,131.3 L1792.2,131.1 L1793.0,130.7 L1793.9,130.4 L1794.8,130.3 L1795.6,130.5 L1796.5,130.8 L1797.4,131.1 L1798.2,131.3 L1799.1,131.2 L1800.0,130.9 L1800.8,130.5 L1801.7,130.3 L1802.6,130.4 L1803.4,130.6 L1804.3,131.0 L1805.2,131.3 L1806.0,131.3 L1806.9,131.1 L1807.8,130.7 L1808.6,130.4 L1809.5,130.3 L1810.4,130.5 L1811.2,130.8 L1812.1,131.2 L1813.0,131.3 L1813.8,131.2 L1814.7,130.9 L1815.6,130.5 L1816.4,130.3 L1817.3,130.4 L1818.2,130.3 L1819.0,130.3 L1819.9,130.6 L1820.8,131.0 L1821.6,131.2 L1822.5,131.3 L1823.4,131.1 L1824.2,130.7 L1825.1,130.4 L1826.0,130.3 L1826.8,130.5 L1827.7,130.8 L1828.6,131.1 L1829.4,131.3 L1830.3,131.2 L1831.2,130.9 L1832.0,130.5 L1832.9,130.3 L1833.8,130.4 L1834.7,130.6 L1835.5,131.0 L1836.4,131.3 L1837.3,131.3 L1838.1,131.0 L1839.0,130.7 L1839.9,130.4 L1840.7,130.3 L1841.6,130.5 L1842.5,130.9 L1843.3,131.2 L1844.2,131.3 L1845.1,131.2 L1845.9,130.8 L1846.8,130.5 L1847.7,130.3 L1848.5,130.4 L1849.4,130.7 L1850.3,131.0 L1851.1,131.3 L1852.0,131.3 L1852.9,131.0 L1853.7,130.6 L1854.6,130.4 L1855.5,130.3 L1856.3,130.5 L1857.2,130.9 L1858.1,131.2 L1858.9,131.3 L1859.8,131.1 L1860.7,130.8 L1861.5,130.5 L1862.4,130.3 L1863.3,130.4 L1864.1,130.7 L1865.0,131.1 L1865.9,131.3 L1866.7,131.2 L1867.6,131.0 L1868.5,130.6 L1869.3,130.3 L1870.2,130.3 L1871.1,130.6 L1871.9,130.9 L1872.8,131.2 L1873.7,131.3 L1874.5,131.1 L1875.4,130.8 L1876.3,130.4 L1877.1,130.3 L1878.0,130.4 L1878.9,130.8 L1879.7,131.1 L1880.6,131.3 L1881.5,131.2 L1882.3,130.9 L1883.2,130.6 L1884.1,130.3 L1884.9,130.3 L1885.8,130.6 L1886.7,131.0 L1887.5,131.2 L1888.4,131.3 L1889.3,131.1 L1890.1,130.7 L1891.0,130.4 L1891.9,130.3 L1892.8,130.5 L1893.6,130.8 L1894.5,131.1 L1895.4,131.3 L1896.2,131.2 L1897.1,130.9 L1898.0,130.5 L1898.8,130.3 L1899.7,130.4 L1900.6,130.6 L1901.4,131.0 L1902.3,131.2 L1903.2,131.3 L1904.0,131.0 L1904.9,130.7 L1905.8,130.4 L1906.6,130.3 L1907.5,130.5 L1908.4,130.8 L1909.2,131.2 L1910.1,131.3 L1911.0,131.2 L1911.8,130.9 L1912.7,130.5 L1913.6,130.3 L1914.4,130.4 L1915.3,130.7 L1916.2,131.0 L1917.0,131.3 L1917.9,131.2 L1918.8,131.0 L1919.6,130.7 L1920.5,130.4 L1921.4,130.3 L1922.2,130.5 L1923.1,130.9 L1924.0,131.2 L1924.8,131.3 L1925.7,131.1 L1926.6,130.8 L1927.4,130.5 L1928.3,130.3 L1929.2,130.4 L1930.0,130.7 L1930.9,131.0 L1931.8,131.3 L1932.6,131.2 L1933.5,131.0 L1934.4,130.6 L1935.2,130.4 L1936.1,130.4 L1937.0,130.6 L1937.8,130.9 L1938.7,131.2 L1939.6,131.3 L1940.4,131.1 L1941.3,130.8 L1942.2,130.5 L1943.0,130.3 L1943.9,130.4 L1944.8,130.7 L1945.6,131.1 L1946.5,131.2 L1947.4,131.2 L1948.2,130.9 L1949.1,130.6 L1950.0,130.4 L1950.8,130.4 L1951.7,130.6 L1952.6,130.9 L1953.5,131.2 L1954.3,131.2 L1955.2,131.0 L1956.1,130.7 L1956.9,130.5 L1957.8,130.4 L1958.7,130.5 L1959.5,130.8 L1960.4,131.1 L1961.3,131.2 L1962.1,131.1 L1963.0,130.9 L1963.9,130.6 L1964.7,130.4 L1965.6,130.4 L1966.5,130.6 L1967.3,130.9 L1968.2,131.1 L1969.1,131.2 L1969.9,131.0 L1970.8,130.7 L1971.7,130.5 L1972.5,130.4 L1973.4,130.6 L1974.3,130.8 L1975.1,131.0 L1976.0,131.1 L1976.9,131.0 L1977.7,130.8 L1978.6,130.6 L1979.5,130.5 L1980.3,130.5 L1981.2,130.7 L1982.1,130.9 L1982.9,131.0 L1983.8,131.0 L1984.7,130.9 L1985.5,130.7 L1986.4,130.6 L1987.3,130.5 L1988.1,130.6 L1989.0,130.8 L1989.9,130.9 L1990.7,131.0 L1991.6,130.9 L1992.5,130.8 L1993.3,130.7 L1994.2,130.6 L1995.1,130.6 L1995.9,130.7 L1996.8,130.8 L1997.7,130.9 L1998.5,130.9 L1999.4,130.8 L2000.3,130.7 L2001.1,130.7 L2002.0,130.7 L2002.9,130.8 L2003.7,130.8 L2004.6,130.8 L2005.5,130.7 L2006.3,130.7 L2007.2,130.8 L2008.1,130.8 L2008.9,130.9 L2009.8,130.9 L2010.7,130.8 L2011.5,130.7 L2012.4,130.6 L2013.3,130.6 L2014.2,130.7 L2015.0,130.9 L2015.9,131.0 L2016.8,131.1 L2017.6,130.9 L2018.5,130.7 L2019.4,130.4 L2020.2,130.3 L2021.1,130.4 L2022.0,130.8 L2022.8,131.2 L2023.7,131.4 L2024.6,131.3 L2025.4,130.8 L2026.3,130.3 L2027.2,130.0 L2028.0,130.0 L2028.9,130.5 L2029.8,131.2 L2030.6,131.8 L2031.5,131.9 L2032.4,131.3 L2033.2,130.4 L2034.1,129.7 L2035.0,129.4 L2035.8,130.0 L2036.7,131.2 L2037.6,132.4 L2038.4,133.0 L2039.3,132.5 L2040.2,131.1 L2041.0,129.4 L2041.9,128.3 L2042.8,128.7 L2043.6,130.5 L2044.5,133.2 L2045.4,135.3 L2046.2,135.4 L2047.1,132.9 L2048.0,128.5 L2048.8,124.0 L2049.7,122.0 L2050.6,124.6 L2051.4,160.0 L2052.3,212.5 L2053.2,290.7 L2054.0,414.6 L2054.9,302.9 L2055.8,303.4 L2056.6,354.8 L2057.5,1100.0 L2058.4,373.8 L2059.2,350.4 L2060.1,379.5 L2061.0,520.9 L2061.8,430.0 L2062.7,387.0 L2063.6,399.7 L2064.4,488.0 L2065.3,476.7 L2066.2,410.7 L2067.0,412.3 L2067.9,470.4 L2068.8,534.7 L2069.6,433.2 L2070.5,423.2 L2071.4,466.9 L2072.2,652.6 L2073.1,462.1 L2074.0,439.7 L2074.9,468.5 L2075.7,646.4 L2076.6,491.2 L2077.5,452.5 L2078.3,468.0 L2079.2,570.9 L2080.1,524.1 L2080.9,466.6 L2081.8,470.9 L2082.7,541.0 L2083.5,568.8 L2084.4,483.5 L2085.3,476.7 L2086.1,525.8 L2087.0,642.7 L2087.9,503.0 L2088.7,484.2 L2089.6,516.7 L2090.5,815.2 L2091.3,524.3 L2092.2,491.9 L2093.1,512.0 L2093.9,637.0 L2094.8,551.2 L2095.7,502.1 L2096.5,511.0 L2097.4,592.8 L2098.3,588.0 L2099.1,516.2 L2100.0,513.7 L2100.9,569.7 L2101.7,641.1 L2102.6,529.9 L2103.5,515.5 L2104.3,553.8 L2105.2,766.7 L2106.1,546.6 L2106.9,519.6 L2107.8,544.1 L2108.7,704.6 L2109.5,566.9 L2110.4,525.1 L2111.3,538.2 L2112.1,634.7 L2113.0,596.6 L2113.9,534.9 L2114.7,536.5 L2115.6,602.0 L2116.5,638.0 L2117.3,546.9 L2118.2,537.3 L2119.1,582.8 L2119.9,713.7 L2120.8,561.7 L2121.7,540.3 L2122.5,570.3 L2123.4,810.8 L2124.3,580.2 L2125.1,545.2 L2126.0,563.3 L2126.9,680.5 L2127.7,605.9 L2128.6,553.6 L2129.5,560.0 L2130.3,637.1 L2131.2,640.7 L2132.1,564.3 L2132.9,559.6 L2133.8,613.1 L2134.7,696.0 L2135.6,577.8 L2136.4,561.7 L2137.3,598.2 L2138.2,856.4 L2139.0,594.2 L2139.9,565.0 L2140.8,587.6 L2141.6,735.4 L2142.5,614.4 L2143.4,570.1 L2144.2,581.3 L2145.1,672.6 L2146.0,643.7 L2146.8,578.8 L2147.7,578.8 L2148.6,641.2 L2149.4,686.5 L2150.3,589.9 L2151.2,578.3 L2152.0,621.1 L2152.9,769.4 L2153.8,602.9 L2154.6,579.3 L2155.5,607.2 L2156.4,814.6 L2157.2,619.9 L2158.1,582.4 L2159.0,598.5 L2159.8,708.5 L2160.7,644.3 L2161.6,589.0 L2162.4,593.7 L2163.3,666.8 L2164.2,679.0 L2165.0,598.1 L2165.9,591.4 L2166.8,642.0 L2167.6,736.6 L2168.5,609.9 L2169.4,591.7 L2170.2,625.8 L2171.1,978.8 L2172.0,625.0 L2172.8,593.9 L2173.7,614.9 L2174.6,752.2 L2175.4,645.9 L2176.3,599.1 L2177.2,608.6 L2178.0,695.1 L2178.9,675.2 L2179.8,606.8 L2180.6,605.1 L2181.5,664.5 L2182.4,719.8 L2183.2,617.4 L2184.1,604.3 L2185.0,645.1 L2185.8,814.6 L2186.7,630.9 L2187.6,605.8 L2188.4,632.0 L2189.3,816.8 L2190.2,648.7 L2191.0,609.3 L2191.9,623.8 L2192.8,727.6 L2193.7,673.9 L2194.5,616.0 L2195.4,619.2 L2196.3,689.1 L2197.1,710.5 L2198.0,625.5 L2198.9,617.4 L2199.7,665.7 L2200.6,773.6 L2201.5,637.7 L2202.3,617.7 L2203.2,649.8 L2204.1,1004.6 L2204.9,652.4 L2205.8,619.4 L2206.7,639.0 L2207.5,767.2 L2208.4,674.0 L2209.3,624.7 L2210.1,632.7 L2211.0,714.9 L2211.9,703.9 L2212.7,632.1 L2213.6,628.7 L2214.5,685.4 L2215.3,750.9 L2216.2,642.3 L2217.1,627.4 L2217.9,666.1 L2218.8,862.0 L2219.7,655.4 L2220.5,628.4 L2221.4,652.9 L2222.3,820.5 L2223.1,673.5 L2224.0,631.8 L2224.9,644.6 L2225.7,742.7 L2226.6,698.9 L2227.5,638.0 L2228.3,639.6 L2229.2,706.1 L2230.1,736.7 L2230.9,647.0 L2231.8,637.2 L2232.7,683.2 L2233.5,805.5 L2234.4,658.9 L2235.3,637.4 L2236.1,667.9 L2237.0,931.4 L2237.9,674.4 L2238.7,639.5 L2239.6,657.5 L2240.5,777.6 L2241.3,696.5 L2242.2,644.8 L2243.1,651.3 L2243.9,729.6 L2244.8,727.8 L2245.7,652.5 L2246.5,647.8 L2247.4,701.9 L2248.3,778.5 L2249.1,663.1 L2250.0,646.8 L2250.9,683.6 L2251.7,915.9 L2252.6,676.6 L2253.5,647.7 L2254.4,670.8 L2255.2,824.7 L2256.1,695.5 L2257.0,651.6 L2257.8,662.9 L2258.7,755.9 L2259.6,721.7 L2260.4,657.8 L2261.3,658.0 L2262.2,721.4 L2263.0,761.4 L2263.9,666.7 L2264.8,655.4 L2265.6,699.1 L2266.5,838.0 L2267.4,678.7 L2268.2,655.5 L2269.1,684.2 L2270.0,906.1 L2270.8,694.4 L2271.7,657.6 L2272.6,674.2 L2273.4,787.2 L2274.3,717.4 L2275.2,663.1 L2276.0,668.0 L2276.9,742.4 L2277.8,749.4 L2278.6,669.9 L2279.5,663.2 L2280.4,717.1 L2281.2,805.6 L2282.1,682.7 L2283.0,665.0 L2283.8,700.1 L2284.7,993.3 L2285.6,697.1 L2286.4,666.5 L2287.3,688.2 L2288.2,830.3" stroke="#ff00ff" stroke-width="10"/>
</g>

<text transform="translate(220.5,147.7) scale(1.128,1)" text-anchor="end">0</text>
<text transform="translate(217.5,355.45000000000005) scale(1.128,1)" text-anchor="end">-50</text>
<text transform="translate(216.5,563.2) scale(1.128,1)" text-anchor="end">-100</text>
<text transform="translate(216.5,770.95) scale(1.128,1)" text-anchor="end">-150</text>
<text transform="translate(216.5,978.7) scale(1.128,1)" text-anchor="end">-200</text>
<text transform="translate(236,1097) scale(1.125,1)" text-anchor="middle">0</text>
<text transform="translate(602.8,1097) scale(1.125,1)" text-anchor="middle">100</text>
<text transform="translate(967.5,1097) scale(1.15,1)" text-anchor="middle">200</text>
<text transform="translate(1333.8,1097) scale(1.15,1)" text-anchor="middle">300</text>
<text transform="translate(1700,1097) scale(1.125,1)" text-anchor="middle">400</text>
<text transform="translate(2067.2,1097) scale(1.125,1)" text-anchor="middle">500</text>
<text transform="translate(1253,1149.8) scale(1.15,1)" text-anchor="middle">Normalized frequency (Hz)</text>
<text transform="translate(83.3,550.2) scale(1.2,1) rotate(-90)" text-anchor="middle" style="font-size:42.4px">Normalized power spectral density (dB)</text>
<text transform="translate(0,155.6) scale(1.157,1)" x="273.44" y="0" style="font-size:43.5px">I</text>
<text transform="translate(0,155.0) scale(1.157,1)" x="420.63 430.74" y="0" style="font-size:43.5px">II</text>
<text transform="translate(0,155.0) scale(1.157,1)" x="555.46 565.92 576.03" y="0" style="font-size:43.5px">III</text>
<text transform="translate(0,155.1) scale(1.157,1)" x="691.94 703.84" y="0" style="font-size:43.5px">IV</text>
<text transform="translate(0,155.1) scale(1.157,1)" x="857.09" y="0" style="font-size:43.5px">V</text>
<text transform="translate(0,152.2) scale(1.157,1)" x="1050.00 1079.92" y="0" style="font-size:43.5px">VI</text>
<text transform="translate(0,155.0) scale(1.157,1)" x="1238.16 1268.60 1278.97" y="0" style="font-size:43.5px">VII</text>
<text transform="translate(0,155.5) scale(1.157,1)" x="1559.07 1588.82 1599.11 1609.65" y="0" style="font-size:43.5px">VIII</text>
<text transform="translate(0,152.3) scale(1.157,1)" x="1855.29 1865.90" y="0" style="font-size:43.5px">IX</text>
<rect x="1333.5" y="732.5" width="780.5" height="266.5" fill="#fff" stroke="#000" stroke-width="2.2"/>
<line x1="1356.5" y1="771" x2="1465.5" y2="769.3" stroke="#0000ff" stroke-width="8"/>
<line x1="1355" y1="817" x2="1464" y2="815.6" stroke="#ff0000" stroke-width="8"/>
<line x1="1355" y1="864.6" x2="1464" y2="863.2" stroke="#00ff00" stroke-width="8"/>
<line x1="1355" y1="910.5" x2="1464" y2="909.2" stroke="#000000" stroke-width="8"/>
<line x1="1356.5" y1="961.2" x2="1465.5" y2="959.4" stroke="#ff00ff" stroke-width="8"/>
<text transform="translate(1483.0,766.9) scale(1.138,1)" text-anchor="start">Original</text>
<text transform="translate(1484.6,818.2) scale(1.157,1)" text-anchor="start">2 CC Brandes Tehcnique</text>
<text transform="translate(1484.6,866.1) scale(1.157,1)" text-anchor="start">2 Cancelation carriers GA</text>
<text transform="translate(1484.6,913.7) scale(1.157,1)" text-anchor="start">2 Cancellation carriers DE</text>
<text transform="translate(1485.2,967.9) scale(1.157,1)" text-anchor="start">Proposed Technique</text>
</svg>
</body></html>
